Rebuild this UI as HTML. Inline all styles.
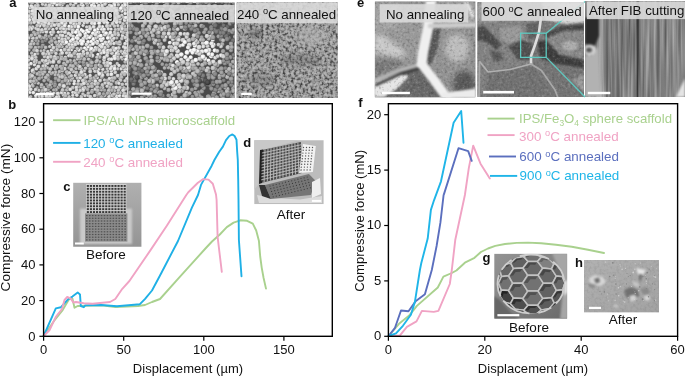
<!DOCTYPE html>
<html><head><meta charset="utf-8"><title>figure</title>
<style>
html,body{margin:0;padding:0;background:#fff;}
svg{display:block}
text{font-family:"Liberation Sans",sans-serif;fill:#111}
.b{font-weight:bold;font-size:13px}
.t{font-size:13px}
.lab{font-size:13.3px}
.lg{font-size:13.4px}
</style></head><body>
<svg width="685" height="376" viewBox="0 0 685 376">
<defs>
<filter id="bl" color-interpolation-filters="sRGB" x="-5%" y="-5%" width="110%" height="110%"><feGaussianBlur stdDeviation="0.65"/></filter>
<filter id="bl2" color-interpolation-filters="sRGB" x="-5%" y="-5%" width="110%" height="110%"><feGaussianBlur stdDeviation="0.8"/></filter>
<filter id="bl3" color-interpolation-filters="sRGB" x="-10%" y="-10%" width="120%" height="120%"><feGaussianBlur stdDeviation="2.5"/></filter>
<filter id="nz1" color-interpolation-filters="sRGB" x="0" y="0" width="100%" height="100%"><feTurbulence type="fractalNoise" baseFrequency="0.36" numOctaves="2" seed="3"/><feColorMatrix values="1 0 0 0 0  1 0 0 0 0  1 0 0 0 0  0 0 0 0 1"/><feComponentTransfer><feFuncR type="table" tableValues="0.22 0.22 0.26 0.35 0.48 0.60 0.66 0.70 0.74 0.78 0.80"/><feFuncG type="table" tableValues="0.22 0.22 0.26 0.35 0.48 0.60 0.66 0.70 0.74 0.78 0.80"/><feFuncB type="table" tableValues="0.22 0.22 0.26 0.35 0.48 0.60 0.66 0.70 0.74 0.78 0.80"/></feComponentTransfer></filter>
<filter id="nz2" color-interpolation-filters="sRGB" x="0" y="0" width="100%" height="100%"><feTurbulence type="fractalNoise" baseFrequency="0.22" numOctaves="3" seed="8"/><feColorMatrix values="1.3 0 0 0 -0.2  1.3 0 0 0 -0.2  1.3 0 0 0 -0.2  0 0 0 0 1"/></filter>
<filter id="nzv" color-interpolation-filters="sRGB" x="0" y="0" width="100%" height="100%"><feTurbulence type="fractalNoise" baseFrequency="0.35 0.012" numOctaves="2" seed="5"/><feColorMatrix values="1.5 0 0 0 -0.2  1.5 0 0 0 -0.2  1.5 0 0 0 -0.2  0 0 0 0 1"/></filter>
<filter id="grW" color-interpolation-filters="sRGB" x="0" y="0" width="100%" height="100%"><feTurbulence type="fractalNoise" baseFrequency="0.38" numOctaves="2" seed="12"/><feColorMatrix values="0 0 0 0 1  0 0 0 0 1  0 0 0 0 1  1.1 0 0 0 -0.6"/></filter>
<filter id="grB" color-interpolation-filters="sRGB" x="0" y="0" width="100%" height="100%"><feTurbulence type="fractalNoise" baseFrequency="0.38" numOctaves="2" seed="12"/><feColorMatrix values="0 0 0 0 0  0 0 0 0 0  0 0 0 0 0  -1.1 0 0 0 0.5"/></filter>
<clipPath id="ca1"><rect x="28.2" y="2.6" width="99.2" height="95.3"/></clipPath>
<clipPath id="ca2"><rect x="128.2" y="2.6" width="106.5" height="95.3"/></clipPath>
<clipPath id="ca3"><rect x="236.6" y="2.6" width="101.1" height="95.3"/></clipPath>
<clipPath id="ce1"><rect x="374.8" y="1.6" width="100.6" height="95.6"/></clipPath>
<clipPath id="ce2"><rect x="477.3" y="2" width="106.7" height="95"/></clipPath>
<clipPath id="ce3"><rect x="585" y="1" width="100" height="96"/></clipPath>
<clipPath id="cc"><rect x="73.2" y="182.6" width="68.5" height="64.2"/></clipPath>
<clipPath id="cd"><rect x="254.3" y="140.3" width="69.3" height="63.9"/></clipPath>
<clipPath id="cg"><rect x="494.3" y="253.8" width="72.9" height="64.9"/></clipPath>
<clipPath id="ch"><rect x="584" y="260" width="75" height="52.6"/></clipPath>
</defs>
<rect width="685" height="376" fill="#fff"/>
<g opacity="0.999">

<radialGradient id="s40" cx="0.42" cy="0.4" r="0.62"><stop offset="0" stop-color="#343434"/><stop offset="0.55" stop-color="#242424"/><stop offset="1" stop-color="#181818"/></radialGradient>
<radialGradient id="s52" cx="0.42" cy="0.4" r="0.62"><stop offset="0" stop-color="#404040"/><stop offset="0.55" stop-color="#303030"/><stop offset="1" stop-color="#1f1f1f"/></radialGradient>
<radialGradient id="s64" cx="0.42" cy="0.4" r="0.62"><stop offset="0" stop-color="#4c4c4c"/><stop offset="0.55" stop-color="#3c3c3c"/><stop offset="1" stop-color="#262626"/></radialGradient>
<radialGradient id="s76" cx="0.42" cy="0.4" r="0.62"><stop offset="0" stop-color="#585858"/><stop offset="0.55" stop-color="#484848"/><stop offset="1" stop-color="#2d2d2d"/></radialGradient>
<radialGradient id="s88" cx="0.42" cy="0.4" r="0.62"><stop offset="0" stop-color="#646464"/><stop offset="0.55" stop-color="#545454"/><stop offset="1" stop-color="#343434"/></radialGradient>
<radialGradient id="s100" cx="0.42" cy="0.4" r="0.62"><stop offset="0" stop-color="#707070"/><stop offset="0.55" stop-color="#606060"/><stop offset="1" stop-color="#3c3c3c"/></radialGradient>
<radialGradient id="s112" cx="0.42" cy="0.4" r="0.62"><stop offset="0" stop-color="#7c7c7c"/><stop offset="0.55" stop-color="#6c6c6c"/><stop offset="1" stop-color="#434343"/></radialGradient>
<radialGradient id="s124" cx="0.42" cy="0.4" r="0.62"><stop offset="0" stop-color="#888888"/><stop offset="0.55" stop-color="#787878"/><stop offset="1" stop-color="#4a4a4a"/></radialGradient>
<radialGradient id="s136" cx="0.42" cy="0.4" r="0.62"><stop offset="0" stop-color="#949494"/><stop offset="0.55" stop-color="#848484"/><stop offset="1" stop-color="#515151"/></radialGradient>
<radialGradient id="s148" cx="0.42" cy="0.4" r="0.62"><stop offset="0" stop-color="#a0a0a0"/><stop offset="0.55" stop-color="#909090"/><stop offset="1" stop-color="#585858"/></radialGradient>
<radialGradient id="s160" cx="0.42" cy="0.4" r="0.62"><stop offset="0" stop-color="#acacac"/><stop offset="0.55" stop-color="#9c9c9c"/><stop offset="1" stop-color="#606060"/></radialGradient>
<radialGradient id="s172" cx="0.42" cy="0.4" r="0.62"><stop offset="0" stop-color="#b8b8b8"/><stop offset="0.55" stop-color="#a8a8a8"/><stop offset="1" stop-color="#676767"/></radialGradient>
<radialGradient id="s184" cx="0.42" cy="0.4" r="0.62"><stop offset="0" stop-color="#c4c4c4"/><stop offset="0.55" stop-color="#b4b4b4"/><stop offset="1" stop-color="#6e6e6e"/></radialGradient>
<radialGradient id="s196" cx="0.42" cy="0.4" r="0.62"><stop offset="0" stop-color="#d0d0d0"/><stop offset="0.55" stop-color="#c0c0c0"/><stop offset="1" stop-color="#757575"/></radialGradient>
<radialGradient id="s208" cx="0.42" cy="0.4" r="0.62"><stop offset="0" stop-color="#dcdcdc"/><stop offset="0.55" stop-color="#cccccc"/><stop offset="1" stop-color="#7c7c7c"/></radialGradient>
<radialGradient id="s220" cx="0.42" cy="0.4" r="0.62"><stop offset="0" stop-color="#e8e8e8"/><stop offset="0.55" stop-color="#d8d8d8"/><stop offset="1" stop-color="#848484"/></radialGradient>
<radialGradient id="s232" cx="0.42" cy="0.4" r="0.62"><stop offset="0" stop-color="#f4f4f4"/><stop offset="0.55" stop-color="#e4e4e4"/><stop offset="1" stop-color="#8b8b8b"/></radialGradient>
<radialGradient id="s244" cx="0.42" cy="0.4" r="0.62"><stop offset="0" stop-color="#ffffff"/><stop offset="0.55" stop-color="#f0f0f0"/><stop offset="1" stop-color="#929292"/></radialGradient>
<g clip-path="url(#ca1)"><rect x="28.2" y="2.6" width="99.2" height="95.3" fill="#505050"/><g filter="url(#bl)">
<circle cx="30.6" cy="74.9" r="1.95" fill="url(#s184)"/>
<circle cx="62.9" cy="83.6" r="1.95" fill="url(#s160)"/>
<circle cx="69.4" cy="53.0" r="2.04" fill="url(#s208)"/>
<circle cx="44.7" cy="62.2" r="2.14" fill="url(#s196)"/>
<circle cx="42.5" cy="60.5" r="1.93" fill="url(#s208)"/>
<circle cx="61.4" cy="57.2" r="2.18" fill="url(#s184)"/>
<circle cx="105.7" cy="10.6" r="1.98" fill="url(#s220)"/>
<circle cx="77.4" cy="30.2" r="1.96" fill="url(#s244)"/>
<circle cx="61.0" cy="50.3" r="1.86" fill="url(#s232)"/>
<circle cx="101.6" cy="12.3" r="2.07" fill="url(#s244)"/>
<circle cx="84.9" cy="88.0" r="2.17" fill="url(#s196)"/>
<circle cx="33.4" cy="69.6" r="1.84" fill="url(#s172)"/>
<circle cx="52.4" cy="23.7" r="1.85" fill="url(#s196)"/>
<circle cx="30.1" cy="7.7" r="1.90" fill="url(#s220)"/>
<circle cx="60.8" cy="59.1" r="1.87" fill="url(#s184)"/>
<circle cx="85.2" cy="78.2" r="1.98" fill="url(#s184)"/>
<circle cx="60.4" cy="35.3" r="1.93" fill="url(#s208)"/>
<circle cx="26.4" cy="38.8" r="1.85" fill="url(#s208)"/>
<circle cx="87.5" cy="4.5" r="2.01" fill="url(#s196)"/>
<circle cx="117.3" cy="63.7" r="1.86" fill="url(#s196)"/>
<circle cx="104.9" cy="95.5" r="1.93" fill="url(#s196)"/>
<circle cx="105.5" cy="-1.4" r="1.86" fill="url(#s244)"/>
<circle cx="97.9" cy="95.2" r="1.86" fill="url(#s172)"/>
<circle cx="58.3" cy="87.5" r="2.01" fill="url(#s172)"/>
<circle cx="107.0" cy="44.2" r="2.06" fill="url(#s220)"/>
<circle cx="35.5" cy="6.1" r="2.13" fill="url(#s196)"/>
<circle cx="68.0" cy="20.0" r="1.78" fill="url(#s196)"/>
<circle cx="69.1" cy="1.1" r="1.98" fill="url(#s196)"/>
<circle cx="27.2" cy="50.3" r="2.07" fill="url(#s184)"/>
<circle cx="32.4" cy="84.7" r="1.77" fill="url(#s208)"/>
<circle cx="38.7" cy="47.3" r="1.78" fill="url(#s172)"/>
<circle cx="71.2" cy="62.3" r="2.00" fill="url(#s148)"/>
<circle cx="56.9" cy="46.8" r="1.78" fill="url(#s184)"/>
<circle cx="122.3" cy="59.1" r="1.83" fill="url(#s196)"/>
<circle cx="24.1" cy="76.8" r="1.78" fill="url(#s196)"/>
<circle cx="43.5" cy="87.5" r="2.07" fill="url(#s184)"/>
<circle cx="28.9" cy="67.8" r="1.89" fill="url(#s220)"/>
<circle cx="32.5" cy="56.2" r="1.82" fill="url(#s196)"/>
<circle cx="62.2" cy="13.6" r="1.80" fill="url(#s220)"/>
<circle cx="69.0" cy="55.7" r="2.01" fill="url(#s220)"/>
<circle cx="113.4" cy="87.8" r="2.20" fill="url(#s184)"/>
<circle cx="123.7" cy="46.9" r="1.84" fill="url(#s220)"/>
<circle cx="110.1" cy="38.0" r="1.99" fill="url(#s220)"/>
<circle cx="120.0" cy="87.7" r="2.14" fill="url(#s196)"/>
<circle cx="48.2" cy="11.1" r="2.20" fill="url(#s220)"/>
<circle cx="83.1" cy="25.6" r="1.81" fill="url(#s220)"/>
<circle cx="71.6" cy="49.8" r="1.81" fill="url(#s232)"/>
<circle cx="70.6" cy="4.5" r="1.81" fill="url(#s196)"/>
<circle cx="70.3" cy="47.6" r="1.99" fill="url(#s208)"/>
<circle cx="75.4" cy="51.5" r="1.86" fill="url(#s220)"/>
<circle cx="87.3" cy="30.4" r="2.17" fill="url(#s244)"/>
<circle cx="107.6" cy="99.5" r="2.16" fill="url(#s184)"/>
<circle cx="107.7" cy="62.9" r="2.06" fill="url(#s208)"/>
<circle cx="101.6" cy="29.1" r="1.98" fill="url(#s232)"/>
<circle cx="55.0" cy="56.9" r="2.20" fill="url(#s208)"/>
<circle cx="63.3" cy="12.2" r="1.87" fill="url(#s208)"/>
<circle cx="128.8" cy="58.7" r="2.18" fill="url(#s220)"/>
<circle cx="68.8" cy="50.0" r="2.05" fill="url(#s208)"/>
<circle cx="31.0" cy="63.7" r="2.02" fill="url(#s232)"/>
<circle cx="127.3" cy="34.4" r="1.95" fill="url(#s232)"/>
<circle cx="95.6" cy="14.1" r="1.95" fill="url(#s220)"/>
<circle cx="118.8" cy="29.4" r="2.12" fill="url(#s196)"/>
<circle cx="38.7" cy="22.6" r="2.18" fill="url(#s232)"/>
<circle cx="35.7" cy="95.7" r="1.78" fill="url(#s232)"/>
<circle cx="129.3" cy="30.1" r="2.07" fill="url(#s232)"/>
<circle cx="129.6" cy="4.4" r="2.05" fill="url(#s220)"/>
<circle cx="35.5" cy="-1.7" r="2.01" fill="url(#s184)"/>
<circle cx="79.2" cy="19.4" r="1.95" fill="url(#s220)"/>
<circle cx="66.0" cy="9.1" r="1.78" fill="url(#s232)"/>
<circle cx="83.0" cy="80.6" r="2.21" fill="url(#s208)"/>
<circle cx="86.8" cy="63.7" r="2.06" fill="url(#s160)"/>
<circle cx="84.2" cy="23.1" r="1.78" fill="url(#s220)"/>
<circle cx="90.4" cy="62.8" r="2.03" fill="url(#s148)"/>
<circle cx="25.4" cy="5.3" r="2.09" fill="url(#s208)"/>
<circle cx="117.8" cy="57.1" r="2.07" fill="url(#s208)"/>
<circle cx="92.0" cy="98.8" r="1.96" fill="url(#s196)"/>
<circle cx="75.4" cy="75.4" r="1.91" fill="url(#s220)"/>
<circle cx="102.3" cy="5.7" r="2.11" fill="url(#s220)"/>
<circle cx="104.9" cy="34.6" r="2.21" fill="url(#s220)"/>
<circle cx="121.9" cy="31.6" r="2.08" fill="url(#s220)"/>
<circle cx="68.3" cy="8.5" r="2.02" fill="url(#s196)"/>
<circle cx="76.7" cy="-0.3" r="1.90" fill="url(#s208)"/>
<circle cx="105.4" cy="42.5" r="2.12" fill="url(#s220)"/>
<circle cx="93.9" cy="12.0" r="1.91" fill="url(#s208)"/>
<circle cx="103.5" cy="99.2" r="1.94" fill="url(#s208)"/>
<circle cx="25.1" cy="36.3" r="2.01" fill="url(#s220)"/>
<circle cx="77.7" cy="35.9" r="2.02" fill="url(#s244)"/>
<circle cx="54.1" cy="51.7" r="1.95" fill="url(#s172)"/>
<circle cx="55.9" cy="78.5" r="2.22" fill="url(#s160)"/>
<circle cx="65.5" cy="57.5" r="1.89" fill="url(#s208)"/>
<circle cx="43.3" cy="15.2" r="1.85" fill="url(#s220)"/>
<circle cx="48.9" cy="28.6" r="2.12" fill="url(#s196)"/>
<circle cx="55.5" cy="68.7" r="1.85" fill="url(#s196)"/>
<circle cx="114.4" cy="3.1" r="2.22" fill="url(#s220)"/>
<circle cx="91.5" cy="17.3" r="2.04" fill="url(#s208)"/>
<circle cx="122.0" cy="11.0" r="2.04" fill="url(#s232)"/>
<circle cx="102.5" cy="85.0" r="2.11" fill="url(#s196)"/>
<circle cx="26.6" cy="68.9" r="2.12" fill="url(#s232)"/>
<circle cx="60.5" cy="54.3" r="2.02" fill="url(#s172)"/>
<circle cx="91.7" cy="83.6" r="2.15" fill="url(#s184)"/>
<circle cx="39.4" cy="72.6" r="2.00" fill="url(#s172)"/>
<circle cx="101.4" cy="96.9" r="2.23" fill="url(#s172)"/>
<circle cx="101.7" cy="89.8" r="2.08" fill="url(#s184)"/>
<circle cx="43.0" cy="45.3" r="2.04" fill="url(#s160)"/>
<circle cx="53.8" cy="59.5" r="2.09" fill="url(#s184)"/>
<circle cx="85.2" cy="33.4" r="2.15" fill="url(#s244)"/>
<circle cx="106.3" cy="14.8" r="2.19" fill="url(#s220)"/>
<circle cx="37.2" cy="87.9" r="1.86" fill="url(#s160)"/>
<circle cx="52.0" cy="44.8" r="1.79" fill="url(#s208)"/>
<circle cx="129.2" cy="83.3" r="1.87" fill="url(#s220)"/>
<circle cx="78.9" cy="32.4" r="2.12" fill="url(#s220)"/>
<circle cx="122.4" cy="84.5" r="2.06" fill="url(#s196)"/>
<circle cx="92.2" cy="-0.1" r="1.96" fill="url(#s220)"/>
<circle cx="98.1" cy="11.7" r="2.09" fill="url(#s220)"/>
<circle cx="130.2" cy="23.4" r="1.85" fill="url(#s232)"/>
<circle cx="83.4" cy="38.8" r="2.08" fill="url(#s220)"/>
<circle cx="44.2" cy="80.7" r="1.99" fill="url(#s172)"/>
<circle cx="62.2" cy="46.7" r="1.85" fill="url(#s196)"/>
<circle cx="58.0" cy="93.6" r="2.21" fill="url(#s220)"/>
<circle cx="28.4" cy="65.2" r="1.91" fill="url(#s220)"/>
<circle cx="64.0" cy="63.4" r="1.99" fill="url(#s184)"/>
<circle cx="43.9" cy="9.2" r="2.05" fill="url(#s232)"/>
<circle cx="85.2" cy="99.6" r="1.95" fill="url(#s208)"/>
<circle cx="102.6" cy="26.8" r="1.82" fill="url(#s232)"/>
<circle cx="104.2" cy="59.8" r="2.09" fill="url(#s220)"/>
<circle cx="118.1" cy="51.6" r="1.94" fill="url(#s208)"/>
<circle cx="110.5" cy="80.0" r="2.10" fill="url(#s208)"/>
<circle cx="116.5" cy="42.5" r="1.85" fill="url(#s196)"/>
<circle cx="75.1" cy="8.7" r="1.80" fill="url(#s232)"/>
<circle cx="62.2" cy="22.9" r="2.24" fill="url(#s232)"/>
<circle cx="76.3" cy="24.3" r="1.99" fill="url(#s208)"/>
<circle cx="77.8" cy="54.4" r="1.86" fill="url(#s220)"/>
<circle cx="88.8" cy="31.8" r="2.05" fill="url(#s244)"/>
<circle cx="108.4" cy="34.5" r="1.85" fill="url(#s208)"/>
<circle cx="56.6" cy="65.9" r="1.87" fill="url(#s196)"/>
<circle cx="71.6" cy="55.8" r="2.21" fill="url(#s208)"/>
<circle cx="47.4" cy="7.5" r="2.01" fill="url(#s184)"/>
<circle cx="34.9" cy="54.6" r="2.04" fill="url(#s220)"/>
<circle cx="31.1" cy="23.0" r="2.01" fill="url(#s196)"/>
<circle cx="107.4" cy="80.6" r="2.19" fill="url(#s172)"/>
<circle cx="62.0" cy="27.5" r="2.18" fill="url(#s208)"/>
<circle cx="80.1" cy="54.5" r="1.99" fill="url(#s220)"/>
<circle cx="114.0" cy="98.2" r="1.80" fill="url(#s184)"/>
<circle cx="28.9" cy="49.9" r="2.02" fill="url(#s184)"/>
<circle cx="42.6" cy="41.8" r="2.10" fill="url(#s136)"/>
<circle cx="70.4" cy="60.5" r="1.79" fill="url(#s184)"/>
<circle cx="44.2" cy="50.6" r="1.79" fill="url(#s184)"/>
<circle cx="57.1" cy="4.5" r="2.19" fill="url(#s232)"/>
<circle cx="111.5" cy="71.0" r="1.80" fill="url(#s220)"/>
<circle cx="77.4" cy="78.1" r="1.93" fill="url(#s196)"/>
<circle cx="118.0" cy="43.6" r="2.14" fill="url(#s184)"/>
<circle cx="42.2" cy="72.5" r="2.08" fill="url(#s172)"/>
<circle cx="57.7" cy="57.7" r="2.03" fill="url(#s172)"/>
<circle cx="33.9" cy="99.5" r="1.84" fill="url(#s232)"/>
<circle cx="73.5" cy="23.8" r="2.14" fill="url(#s220)"/>
<circle cx="61.9" cy="19.8" r="2.08" fill="url(#s220)"/>
<circle cx="112.3" cy="40.5" r="2.08" fill="url(#s208)"/>
<circle cx="59.6" cy="71.8" r="2.04" fill="url(#s184)"/>
<circle cx="24.8" cy="40.9" r="1.79" fill="url(#s220)"/>
<circle cx="118.8" cy="48.1" r="2.09" fill="url(#s208)"/>
<circle cx="129.2" cy="90.0" r="2.23" fill="url(#s208)"/>
<circle cx="84.2" cy="-0.7" r="1.85" fill="url(#s232)"/>
<circle cx="102.8" cy="87.8" r="1.84" fill="url(#s196)"/>
<circle cx="114.7" cy="66.1" r="1.90" fill="url(#s208)"/>
<circle cx="104.2" cy="63.0" r="2.03" fill="url(#s208)"/>
<circle cx="45.6" cy="4.9" r="2.01" fill="url(#s208)"/>
<circle cx="73.4" cy="71.6" r="1.93" fill="url(#s196)"/>
<circle cx="90.3" cy="50.1" r="1.91" fill="url(#s220)"/>
<circle cx="116.6" cy="53.9" r="2.21" fill="url(#s232)"/>
<circle cx="105.9" cy="2.8" r="2.14" fill="url(#s196)"/>
<circle cx="130.3" cy="77.6" r="1.93" fill="url(#s220)"/>
<circle cx="79.5" cy="75.1" r="2.12" fill="url(#s184)"/>
<circle cx="99.3" cy="23.2" r="2.11" fill="url(#s244)"/>
<circle cx="41.9" cy="77.4" r="1.82" fill="url(#s172)"/>
<circle cx="105.6" cy="72.2" r="1.78" fill="url(#s184)"/>
<circle cx="97.3" cy="77.8" r="1.85" fill="url(#s220)"/>
<circle cx="43.6" cy="99.8" r="1.85" fill="url(#s196)"/>
<circle cx="58.2" cy="74.9" r="1.96" fill="url(#s184)"/>
<circle cx="78.2" cy="1.1" r="2.10" fill="url(#s208)"/>
<circle cx="31.1" cy="16.9" r="1.85" fill="url(#s220)"/>
<circle cx="24.9" cy="83.0" r="1.89" fill="url(#s184)"/>
<circle cx="43.7" cy="92.6" r="1.99" fill="url(#s196)"/>
<circle cx="69.1" cy="67.9" r="2.00" fill="url(#s172)"/>
<circle cx="24.4" cy="48.3" r="2.10" fill="url(#s196)"/>
<circle cx="107.2" cy="68.9" r="1.79" fill="url(#s196)"/>
<circle cx="49.7" cy="46.7" r="1.78" fill="url(#s196)"/>
<circle cx="61.6" cy="8.4" r="2.12" fill="url(#s220)"/>
<circle cx="122.6" cy="35.7" r="1.98" fill="url(#s220)"/>
<circle cx="128.8" cy="15.3" r="2.06" fill="url(#s208)"/>
<circle cx="57.1" cy="67.8" r="2.02" fill="url(#s172)"/>
<circle cx="80.9" cy="40.9" r="2.24" fill="url(#s232)"/>
<circle cx="67.0" cy="90.0" r="2.11" fill="url(#s184)"/>
<circle cx="27.5" cy="35.5" r="2.00" fill="url(#s196)"/>
<circle cx="42.7" cy="4.3" r="1.88" fill="url(#s208)"/>
<circle cx="104.9" cy="48.0" r="2.17" fill="url(#s208)"/>
<circle cx="114.0" cy="38.4" r="1.88" fill="url(#s220)"/>
<circle cx="75.8" cy="2.8" r="2.09" fill="url(#s232)"/>
<circle cx="68.2" cy="14.5" r="1.77" fill="url(#s232)"/>
<circle cx="62.4" cy="4.9" r="1.77" fill="url(#s220)"/>
<circle cx="125.2" cy="3.2" r="2.04" fill="url(#s220)"/>
<circle cx="73.7" cy="5.3" r="1.85" fill="url(#s196)"/>
<circle cx="34.7" cy="78.1" r="2.12" fill="url(#s172)"/>
<circle cx="93.6" cy="3.1" r="2.07" fill="url(#s220)"/>
<circle cx="89.7" cy="27.3" r="2.23" fill="url(#s208)"/>
<circle cx="59.0" cy="62.0" r="2.21" fill="url(#s196)"/>
<circle cx="117.8" cy="81.9" r="1.93" fill="url(#s196)"/>
<circle cx="87.0" cy="56.3" r="1.80" fill="url(#s172)"/>
<circle cx="58.8" cy="96.9" r="1.83" fill="url(#s220)"/>
<circle cx="50.1" cy="92.6" r="1.96" fill="url(#s196)"/>
<circle cx="62.1" cy="99.7" r="1.84" fill="url(#s232)"/>
<circle cx="99.6" cy="57.0" r="2.23" fill="url(#s184)"/>
<circle cx="86.8" cy="77.1" r="2.02" fill="url(#s208)"/>
<circle cx="47.6" cy="93.2" r="1.98" fill="url(#s208)"/>
<circle cx="25.8" cy="20.4" r="1.86" fill="url(#s196)"/>
<circle cx="129.5" cy="18.0" r="2.14" fill="url(#s208)"/>
<circle cx="33.8" cy="43.8" r="2.10" fill="url(#s184)"/>
<circle cx="102.7" cy="44.5" r="2.08" fill="url(#s244)"/>
<circle cx="80.4" cy="58.8" r="1.88" fill="url(#s184)"/>
<circle cx="32.6" cy="27.5" r="2.22" fill="url(#s208)"/>
<circle cx="129.0" cy="36.0" r="1.77" fill="url(#s196)"/>
<circle cx="94.2" cy="78.2" r="2.20" fill="url(#s184)"/>
<circle cx="104.2" cy="29.5" r="1.95" fill="url(#s232)"/>
<circle cx="47.5" cy="63.2" r="2.09" fill="url(#s220)"/>
<circle cx="45.1" cy="66.1" r="2.11" fill="url(#s220)"/>
<circle cx="128.8" cy="53.1" r="1.92" fill="url(#s232)"/>
<circle cx="117.1" cy="21.4" r="1.85" fill="url(#s184)"/>
<circle cx="46.8" cy="-0.2" r="1.91" fill="url(#s220)"/>
<circle cx="114.7" cy="18.4" r="2.11" fill="url(#s220)"/>
<circle cx="84.9" cy="74.7" r="2.06" fill="url(#s220)"/>
<circle cx="55.1" cy="82.0" r="1.86" fill="url(#s136)"/>
<circle cx="113.3" cy="47.9" r="2.10" fill="url(#s196)"/>
<circle cx="68.4" cy="33.5" r="2.09" fill="url(#s220)"/>
<circle cx="125.3" cy="89.1" r="2.09" fill="url(#s208)"/>
<circle cx="66.0" cy="17.9" r="2.05" fill="url(#s196)"/>
<circle cx="121.9" cy="38.8" r="1.96" fill="url(#s196)"/>
<circle cx="100.0" cy="13.7" r="1.95" fill="url(#s208)"/>
<circle cx="51.5" cy="20.4" r="1.95" fill="url(#s184)"/>
<circle cx="54.5" cy="9.3" r="2.11" fill="url(#s232)"/>
<circle cx="112.5" cy="78.2" r="1.87" fill="url(#s208)"/>
<circle cx="45.7" cy="47.6" r="2.03" fill="url(#s184)"/>
<circle cx="120.4" cy="19.2" r="1.95" fill="url(#s208)"/>
<circle cx="102.0" cy="77.1" r="2.05" fill="url(#s184)"/>
<circle cx="121.2" cy="68.9" r="1.97" fill="url(#s220)"/>
<circle cx="57.1" cy="15.0" r="2.19" fill="url(#s196)"/>
<circle cx="97.7" cy="71.4" r="1.93" fill="url(#s232)"/>
<circle cx="105.2" cy="83.1" r="1.94" fill="url(#s208)"/>
<circle cx="109.6" cy="14.3" r="1.76" fill="url(#s244)"/>
<circle cx="76.1" cy="37.8" r="1.91" fill="url(#s244)"/>
<circle cx="25.9" cy="63.2" r="2.11" fill="url(#s232)"/>
<circle cx="128.9" cy="25.9" r="2.08" fill="url(#s232)"/>
<circle cx="124.6" cy="55.8" r="1.95" fill="url(#s184)"/>
<circle cx="59.3" cy="0.1" r="1.82" fill="url(#s220)"/>
<circle cx="125.3" cy="62.0" r="2.04" fill="url(#s184)"/>
<circle cx="65.8" cy="29.4" r="2.13" fill="url(#s208)"/>
<circle cx="61.0" cy="44.7" r="1.93" fill="url(#s208)"/>
<circle cx="88.2" cy="42.1" r="2.04" fill="url(#s244)"/>
<circle cx="112.2" cy="95.6" r="2.20" fill="url(#s196)"/>
<circle cx="42.2" cy="24.0" r="2.10" fill="url(#s208)"/>
<circle cx="104.7" cy="90.4" r="1.90" fill="url(#s160)"/>
<circle cx="98.9" cy="32.5" r="1.90" fill="url(#s220)"/>
<circle cx="90.1" cy="68.9" r="2.00" fill="url(#s184)"/>
<circle cx="66.1" cy="36.3" r="1.83" fill="url(#s208)"/>
<circle cx="55.0" cy="98.8" r="2.08" fill="url(#s184)"/>
<circle cx="37.4" cy="2.1" r="2.20" fill="url(#s220)"/>
<circle cx="125.7" cy="66.3" r="2.09" fill="url(#s208)"/>
<circle cx="42.6" cy="90.6" r="1.94" fill="url(#s172)"/>
<circle cx="111.8" cy="10.9" r="2.08" fill="url(#s208)"/>
<circle cx="79.2" cy="8.8" r="1.96" fill="url(#s196)"/>
<circle cx="110.3" cy="63.5" r="2.04" fill="url(#s232)"/>
<circle cx="110.5" cy="32.8" r="2.13" fill="url(#s232)"/>
<circle cx="70.8" cy="35.1" r="2.07" fill="url(#s220)"/>
<circle cx="112.1" cy="53.3" r="2.14" fill="url(#s208)"/>
<circle cx="96.9" cy="32.0" r="2.11" fill="url(#s244)"/>
<circle cx="64.1" cy="59.3" r="2.01" fill="url(#s184)"/>
<circle cx="78.0" cy="11.3" r="2.24" fill="url(#s220)"/>
<circle cx="39.9" cy="20.1" r="2.10" fill="url(#s232)"/>
<circle cx="64.4" cy="43.5" r="2.04" fill="url(#s208)"/>
<circle cx="77.4" cy="58.9" r="2.00" fill="url(#s196)"/>
<circle cx="51.0" cy="38.2" r="2.00" fill="url(#s160)"/>
<circle cx="56.0" cy="-1.8" r="2.13" fill="url(#s220)"/>
<circle cx="58.8" cy="8.8" r="1.93" fill="url(#s220)"/>
<circle cx="109.1" cy="42.0" r="1.94" fill="url(#s232)"/>
<circle cx="79.6" cy="23.5" r="2.06" fill="url(#s208)"/>
<circle cx="33.2" cy="19.4" r="1.93" fill="url(#s220)"/>
<circle cx="67.4" cy="11.0" r="2.01" fill="url(#s220)"/>
<circle cx="38.1" cy="16.8" r="2.08" fill="url(#s232)"/>
<circle cx="42.5" cy="-0.9" r="1.98" fill="url(#s220)"/>
<circle cx="28.3" cy="71.9" r="1.77" fill="url(#s196)"/>
<circle cx="62.5" cy="66.4" r="1.87" fill="url(#s172)"/>
<circle cx="97.4" cy="48.2" r="2.06" fill="url(#s196)"/>
<circle cx="124.7" cy="26.3" r="1.96" fill="url(#s184)"/>
<circle cx="114.1" cy="7.5" r="2.18" fill="url(#s232)"/>
<circle cx="57.2" cy="99.5" r="1.78" fill="url(#s208)"/>
<circle cx="120.0" cy="93.1" r="2.05" fill="url(#s196)"/>
<circle cx="48.7" cy="16.7" r="1.80" fill="url(#s232)"/>
<circle cx="26.3" cy="8.3" r="1.94" fill="url(#s220)"/>
<circle cx="41.3" cy="37.8" r="2.23" fill="url(#s172)"/>
<circle cx="69.5" cy="77.1" r="1.97" fill="url(#s172)"/>
<circle cx="97.5" cy="41.8" r="2.08" fill="url(#s244)"/>
<circle cx="128.9" cy="63.3" r="2.05" fill="url(#s208)"/>
<circle cx="65.1" cy="39.5" r="1.99" fill="url(#s220)"/>
<circle cx="125.3" cy="50.3" r="1.86" fill="url(#s220)"/>
<circle cx="50.9" cy="87.3" r="1.89" fill="url(#s172)"/>
<circle cx="62.3" cy="81.9" r="2.22" fill="url(#s160)"/>
<circle cx="41.9" cy="10.5" r="1.96" fill="url(#s196)"/>
<circle cx="49.7" cy="72.0" r="1.85" fill="url(#s196)"/>
<circle cx="81.2" cy="48.5" r="1.90" fill="url(#s196)"/>
<circle cx="121.9" cy="15.3" r="1.86" fill="url(#s208)"/>
<circle cx="128.6" cy="73.9" r="1.98" fill="url(#s196)"/>
<circle cx="48.8" cy="76.9" r="2.18" fill="url(#s136)"/>
<circle cx="88.5" cy="8.3" r="2.09" fill="url(#s220)"/>
<circle cx="73.2" cy="36.3" r="1.87" fill="url(#s220)"/>
<circle cx="28.2" cy="-0.6" r="1.81" fill="url(#s232)"/>
<circle cx="92.0" cy="7.6" r="1.80" fill="url(#s232)"/>
<circle cx="117.6" cy="13.3" r="2.19" fill="url(#s184)"/>
<circle cx="103.6" cy="94.0" r="1.92" fill="url(#s160)"/>
<circle cx="65.7" cy="23.4" r="1.94" fill="url(#s220)"/>
<circle cx="123.6" cy="32.6" r="2.23" fill="url(#s184)"/>
<circle cx="109.5" cy="78.6" r="1.86" fill="url(#s220)"/>
<circle cx="104.4" cy="22.4" r="2.12" fill="url(#s220)"/>
<circle cx="84.3" cy="17.9" r="1.83" fill="url(#s208)"/>
<circle cx="55.5" cy="10.7" r="2.12" fill="url(#s196)"/>
<circle cx="28.6" cy="84.8" r="1.85" fill="url(#s184)"/>
<circle cx="116.6" cy="83.0" r="2.14" fill="url(#s184)"/>
<circle cx="114.7" cy="50.4" r="1.88" fill="url(#s220)"/>
<circle cx="50.2" cy="42.3" r="2.04" fill="url(#s172)"/>
<circle cx="52.1" cy="5.7" r="2.19" fill="url(#s232)"/>
<circle cx="100.3" cy="39.1" r="2.01" fill="url(#s244)"/>
<circle cx="51.9" cy="3.0" r="2.04" fill="url(#s208)"/>
<circle cx="98.0" cy="54.6" r="1.77" fill="url(#s232)"/>
<circle cx="31.6" cy="5.9" r="1.99" fill="url(#s232)"/>
<circle cx="116.2" cy="48.4" r="1.96" fill="url(#s232)"/>
<circle cx="118.1" cy="-0.6" r="2.11" fill="url(#s220)"/>
<circle cx="40.2" cy="32.3" r="1.82" fill="url(#s196)"/>
<circle cx="30.0" cy="27.4" r="2.18" fill="url(#s196)"/>
<circle cx="90.5" cy="99.6" r="1.80" fill="url(#s208)"/>
<circle cx="119.9" cy="43.8" r="2.22" fill="url(#s208)"/>
<circle cx="56.7" cy="97.1" r="1.81" fill="url(#s220)"/>
<circle cx="74.2" cy="11.5" r="1.84" fill="url(#s196)"/>
<circle cx="57.2" cy="44.1" r="2.09" fill="url(#s208)"/>
<circle cx="71.1" cy="80.2" r="2.03" fill="url(#s184)"/>
<circle cx="49.1" cy="60.6" r="1.77" fill="url(#s196)"/>
<circle cx="108.3" cy="46.5" r="1.76" fill="url(#s196)"/>
<circle cx="90.3" cy="28.9" r="2.20" fill="url(#s220)"/>
<circle cx="102.8" cy="38.8" r="2.21" fill="url(#s244)"/>
<circle cx="92.1" cy="80.0" r="1.96" fill="url(#s184)"/>
<circle cx="110.8" cy="43.9" r="2.13" fill="url(#s196)"/>
<circle cx="127.0" cy="40.9" r="2.10" fill="url(#s220)"/>
<circle cx="127.0" cy="80.8" r="1.90" fill="url(#s196)"/>
<circle cx="28.4" cy="60.2" r="1.93" fill="url(#s220)"/>
<circle cx="23.9" cy="30.3" r="1.96" fill="url(#s196)"/>
<circle cx="85.2" cy="20.7" r="1.80" fill="url(#s208)"/>
<circle cx="30.3" cy="14.5" r="1.92" fill="url(#s184)"/>
<circle cx="31.4" cy="29.1" r="2.08" fill="url(#s220)"/>
<circle cx="24.2" cy="66.6" r="2.19" fill="url(#s220)"/>
<circle cx="111.4" cy="74.4" r="2.18" fill="url(#s232)"/>
<circle cx="99.9" cy="19.9" r="1.77" fill="url(#s208)"/>
<circle cx="66.9" cy="72.2" r="2.19" fill="url(#s184)"/>
<circle cx="118.0" cy="33.4" r="2.03" fill="url(#s196)"/>
<circle cx="61.6" cy="31.8" r="1.84" fill="url(#s208)"/>
<circle cx="116.6" cy="96.0" r="2.02" fill="url(#s220)"/>
<circle cx="36.2" cy="14.8" r="2.02" fill="url(#s232)"/>
<circle cx="127.1" cy="78.8" r="2.14" fill="url(#s208)"/>
<circle cx="31.9" cy="53.3" r="1.96" fill="url(#s184)"/>
<circle cx="123.0" cy="24.0" r="2.07" fill="url(#s196)"/>
<circle cx="41.4" cy="86.9" r="1.85" fill="url(#s196)"/>
<circle cx="41.6" cy="85.1" r="2.11" fill="url(#s184)"/>
<circle cx="116.9" cy="38.1" r="1.79" fill="url(#s184)"/>
<circle cx="128.7" cy="87.8" r="2.12" fill="url(#s196)"/>
<circle cx="95.7" cy="65.7" r="2.01" fill="url(#s172)"/>
<circle cx="65.0" cy="32.2" r="2.16" fill="url(#s220)"/>
<circle cx="91.3" cy="52.9" r="1.95" fill="url(#s184)"/>
<circle cx="95.4" cy="89.3" r="2.09" fill="url(#s208)"/>
<circle cx="120.2" cy="78.2" r="1.94" fill="url(#s184)"/>
<circle cx="47.6" cy="14.7" r="2.21" fill="url(#s196)"/>
<circle cx="36.2" cy="28.4" r="1.99" fill="url(#s208)"/>
<circle cx="121.3" cy="74.7" r="1.89" fill="url(#s196)"/>
<circle cx="41.5" cy="92.8" r="1.88" fill="url(#s172)"/>
<circle cx="97.4" cy="99.2" r="1.98" fill="url(#s184)"/>
<circle cx="107.8" cy="7.6" r="1.94" fill="url(#s208)"/>
<circle cx="127.8" cy="94.0" r="2.02" fill="url(#s208)"/>
<circle cx="119.3" cy="16.7" r="2.21" fill="url(#s208)"/>
<circle cx="93.1" cy="33.3" r="2.09" fill="url(#s244)"/>
<circle cx="24.2" cy="96.0" r="1.80" fill="url(#s196)"/>
<circle cx="98.0" cy="29.0" r="1.88" fill="url(#s244)"/>
<circle cx="80.1" cy="34.9" r="2.24" fill="url(#s232)"/>
<circle cx="70.5" cy="10.6" r="1.99" fill="url(#s184)"/>
<circle cx="115.3" cy="72.5" r="2.01" fill="url(#s208)"/>
<circle cx="67.0" cy="46.9" r="2.02" fill="url(#s196)"/>
<circle cx="109.4" cy="10.6" r="1.90" fill="url(#s220)"/>
<circle cx="72.9" cy="95.5" r="1.82" fill="url(#s220)"/>
<circle cx="69.3" cy="83.8" r="1.82" fill="url(#s196)"/>
<circle cx="28.9" cy="57.1" r="2.00" fill="url(#s196)"/>
<circle cx="123.9" cy="87.7" r="1.77" fill="url(#s184)"/>
<circle cx="43.2" cy="66.1" r="1.92" fill="url(#s208)"/>
<circle cx="91.1" cy="36.2" r="2.00" fill="url(#s220)"/>
<circle cx="101.3" cy="52.9" r="2.16" fill="url(#s220)"/>
<circle cx="129.7" cy="11.5" r="2.15" fill="url(#s232)"/>
<circle cx="48.3" cy="-0.3" r="2.17" fill="url(#s208)"/>
<circle cx="47.7" cy="75.4" r="2.22" fill="url(#s184)"/>
<circle cx="121.7" cy="26.8" r="2.21" fill="url(#s196)"/>
<circle cx="120.1" cy="22.3" r="1.87" fill="url(#s208)"/>
<circle cx="86.8" cy="27.1" r="1.85" fill="url(#s208)"/>
<circle cx="83.2" cy="41.7" r="2.16" fill="url(#s244)"/>
<circle cx="79.4" cy="68.4" r="1.93" fill="url(#s196)"/>
<circle cx="84.8" cy="48.0" r="1.85" fill="url(#s244)"/>
<circle cx="24.1" cy="11.8" r="2.13" fill="url(#s208)"/>
<circle cx="92.0" cy="23.3" r="2.15" fill="url(#s220)"/>
<circle cx="113.6" cy="13.3" r="2.15" fill="url(#s232)"/>
<circle cx="51.6" cy="50.4" r="1.99" fill="url(#s220)"/>
<circle cx="103.3" cy="8.9" r="1.91" fill="url(#s208)"/>
<circle cx="66.4" cy="42.4" r="2.14" fill="url(#s244)"/>
<circle cx="114.7" cy="5.4" r="1.88" fill="url(#s232)"/>
<circle cx="82.1" cy="20.3" r="1.84" fill="url(#s208)"/>
<circle cx="62.4" cy="70.8" r="2.11" fill="url(#s196)"/>
<circle cx="37.9" cy="41.4" r="2.12" fill="url(#s172)"/>
<circle cx="26.1" cy="26.2" r="2.00" fill="url(#s184)"/>
<circle cx="95.4" cy="47.9" r="1.83" fill="url(#s244)"/>
<circle cx="91.9" cy="5.6" r="2.06" fill="url(#s232)"/>
<circle cx="96.3" cy="61.8" r="2.03" fill="url(#s196)"/>
<circle cx="46.5" cy="96.0" r="2.20" fill="url(#s220)"/>
<circle cx="37.3" cy="74.0" r="2.05" fill="url(#s184)"/>
<circle cx="125.1" cy="80.9" r="1.88" fill="url(#s208)"/>
<circle cx="75.0" cy="57.1" r="1.92" fill="url(#s160)"/>
<circle cx="37.8" cy="53.8" r="1.80" fill="url(#s172)"/>
<circle cx="108.0" cy="50.4" r="1.94" fill="url(#s232)"/>
<circle cx="72.2" cy="44.9" r="2.00" fill="url(#s232)"/>
<circle cx="109.1" cy="59.3" r="2.04" fill="url(#s220)"/>
<circle cx="57.2" cy="2.0" r="1.86" fill="url(#s196)"/>
<circle cx="33.0" cy="38.2" r="2.04" fill="url(#s208)"/>
<circle cx="92.3" cy="90.7" r="2.04" fill="url(#s196)"/>
<circle cx="34.0" cy="32.6" r="2.11" fill="url(#s172)"/>
<circle cx="57.2" cy="24.4" r="2.09" fill="url(#s196)"/>
<circle cx="51.3" cy="8.1" r="2.04" fill="url(#s196)"/>
<circle cx="44.7" cy="72.0" r="2.10" fill="url(#s184)"/>
<circle cx="67.2" cy="-1.7" r="1.82" fill="url(#s220)"/>
<circle cx="104.4" cy="15.3" r="2.18" fill="url(#s232)"/>
<circle cx="60.2" cy="4.6" r="2.16" fill="url(#s196)"/>
<circle cx="76.5" cy="87.6" r="2.10" fill="url(#s220)"/>
<circle cx="80.4" cy="78.1" r="1.80" fill="url(#s220)"/>
<circle cx="113.1" cy="16.5" r="1.90" fill="url(#s208)"/>
<circle cx="78.5" cy="92.4" r="1.92" fill="url(#s196)"/>
<circle cx="99.9" cy="61.8" r="1.80" fill="url(#s172)"/>
<circle cx="76.3" cy="72.5" r="2.10" fill="url(#s196)"/>
<circle cx="40.1" cy="75.2" r="2.00" fill="url(#s160)"/>
<circle cx="108.8" cy="83.6" r="2.06" fill="url(#s208)"/>
<circle cx="81.3" cy="4.8" r="2.01" fill="url(#s208)"/>
<circle cx="93.8" cy="26.9" r="2.08" fill="url(#s220)"/>
<circle cx="48.3" cy="1.8" r="1.86" fill="url(#s220)"/>
<circle cx="54.0" cy="93.2" r="1.82" fill="url(#s208)"/>
<circle cx="83.6" cy="54.0" r="2.13" fill="url(#s220)"/>
<circle cx="38.3" cy="83.3" r="1.81" fill="url(#s196)"/>
<circle cx="38.0" cy="33.4" r="2.14" fill="url(#s172)"/>
<circle cx="30.5" cy="1.9" r="2.04" fill="url(#s220)"/>
<circle cx="105.5" cy="65.7" r="1.93" fill="url(#s184)"/>
<circle cx="118.5" cy="54.3" r="1.91" fill="url(#s196)"/>
<circle cx="129.9" cy="71.8" r="2.07" fill="url(#s196)"/>
<circle cx="79.0" cy="100.0" r="2.22" fill="url(#s208)"/>
<circle cx="109.6" cy="87.4" r="2.20" fill="url(#s184)"/>
<circle cx="28.7" cy="16.5" r="2.21" fill="url(#s220)"/>
<circle cx="81.4" cy="96.8" r="2.02" fill="url(#s196)"/>
<circle cx="97.2" cy="60.6" r="2.00" fill="url(#s196)"/>
<circle cx="71.4" cy="1.3" r="2.06" fill="url(#s184)"/>
<circle cx="114.5" cy="56.7" r="2.24" fill="url(#s232)"/>
<circle cx="62.2" cy="-0.2" r="2.03" fill="url(#s196)"/>
<circle cx="124.9" cy="69.7" r="1.91" fill="url(#s208)"/>
<circle cx="90.8" cy="78.4" r="2.16" fill="url(#s184)"/>
<circle cx="113.1" cy="81.0" r="1.90" fill="url(#s184)"/>
<circle cx="48.4" cy="89.7" r="1.95" fill="url(#s160)"/>
<circle cx="121.4" cy="57.4" r="1.86" fill="url(#s208)"/>
<circle cx="34.3" cy="22.5" r="1.81" fill="url(#s220)"/>
<circle cx="61.4" cy="1.7" r="2.23" fill="url(#s232)"/>
<circle cx="114.9" cy="32.1" r="1.87" fill="url(#s220)"/>
<circle cx="80.9" cy="-1.5" r="1.94" fill="url(#s220)"/>
<circle cx="83.1" cy="5.6" r="1.85" fill="url(#s232)"/>
<circle cx="47.9" cy="51.7" r="1.90" fill="url(#s208)"/>
<circle cx="69.2" cy="28.8" r="2.03" fill="url(#s220)"/>
<circle cx="25.1" cy="89.1" r="1.96" fill="url(#s208)"/>
<circle cx="35.9" cy="60.7" r="2.24" fill="url(#s220)"/>
<circle cx="64.2" cy="75.9" r="2.00" fill="url(#s172)"/>
<circle cx="86.3" cy="81.9" r="1.85" fill="url(#s184)"/>
<circle cx="128.9" cy="96.1" r="1.84" fill="url(#s220)"/>
<circle cx="70.5" cy="65.7" r="1.90" fill="url(#s184)"/>
<circle cx="114.1" cy="94.0" r="2.12" fill="url(#s196)"/>
<circle cx="45.6" cy="40.5" r="1.95" fill="url(#s136)"/>
<circle cx="103.6" cy="19.8" r="1.85" fill="url(#s232)"/>
<circle cx="53.5" cy="-2.0" r="2.20" fill="url(#s196)"/>
<circle cx="123.3" cy="90.5" r="2.16" fill="url(#s220)"/>
<circle cx="125.3" cy="13.6" r="1.93" fill="url(#s232)"/>
<circle cx="28.9" cy="38.0" r="1.94" fill="url(#s208)"/>
<circle cx="28.0" cy="6.2" r="1.89" fill="url(#s232)"/>
<circle cx="88.1" cy="95.3" r="1.99" fill="url(#s208)"/>
<circle cx="32.2" cy="41.4" r="1.81" fill="url(#s196)"/>
<circle cx="60.4" cy="86.2" r="1.93" fill="url(#s160)"/>
<circle cx="41.1" cy="50.9" r="1.77" fill="url(#s184)"/>
<circle cx="43.0" cy="74.3" r="1.84" fill="url(#s184)"/>
<circle cx="72.3" cy="8.3" r="1.94" fill="url(#s220)"/>
<circle cx="25.4" cy="74.4" r="2.13" fill="url(#s184)"/>
<circle cx="117.0" cy="98.4" r="1.93" fill="url(#s220)"/>
<circle cx="41.4" cy="69.2" r="1.94" fill="url(#s184)"/>
<circle cx="83.3" cy="10.7" r="1.81" fill="url(#s232)"/>
<circle cx="32.5" cy="2.7" r="2.05" fill="url(#s184)"/>
<circle cx="121.7" cy="77.3" r="1.98" fill="url(#s184)"/>
<circle cx="54.7" cy="38.4" r="2.00" fill="url(#s184)"/>
<circle cx="70.8" cy="17.9" r="1.87" fill="url(#s232)"/>
<circle cx="35.6" cy="47.9" r="2.10" fill="url(#s184)"/>
<circle cx="96.2" cy="19.4" r="1.79" fill="url(#s220)"/>
<circle cx="78.0" cy="16.6" r="1.77" fill="url(#s196)"/>
<circle cx="95.6" cy="49.7" r="2.16" fill="url(#s208)"/>
<circle cx="46.6" cy="38.9" r="2.03" fill="url(#s160)"/>
<circle cx="72.8" cy="92.5" r="1.78" fill="url(#s220)"/>
<circle cx="95.0" cy="30.3" r="2.03" fill="url(#s244)"/>
<circle cx="62.2" cy="39.2" r="2.19" fill="url(#s208)"/>
<circle cx="47.6" cy="67.9" r="1.85" fill="url(#s184)"/>
<circle cx="109.4" cy="93.3" r="2.02" fill="url(#s208)"/>
<circle cx="111.2" cy="84.4" r="2.00" fill="url(#s196)"/>
<circle cx="113.7" cy="21.2" r="1.83" fill="url(#s184)"/>
<circle cx="39.1" cy="95.6" r="1.93" fill="url(#s208)"/>
<circle cx="102.9" cy="69.4" r="1.87" fill="url(#s220)"/>
<circle cx="51.9" cy="41.1" r="2.18" fill="url(#s172)"/>
<circle cx="103.4" cy="31.9" r="1.89" fill="url(#s220)"/>
<circle cx="123.1" cy="53.0" r="2.18" fill="url(#s232)"/>
<circle cx="118.5" cy="90.3" r="2.02" fill="url(#s196)"/>
<circle cx="74.5" cy="81.3" r="1.82" fill="url(#s220)"/>
<circle cx="128.0" cy="2.4" r="2.23" fill="url(#s196)"/>
<circle cx="99.1" cy="65.1" r="1.84" fill="url(#s208)"/>
<circle cx="83.0" cy="94.1" r="1.90" fill="url(#s196)"/>
<circle cx="60.6" cy="66.8" r="2.04" fill="url(#s184)"/>
<circle cx="51.7" cy="34.4" r="2.09" fill="url(#s220)"/>
<circle cx="71.2" cy="14.0" r="1.84" fill="url(#s220)"/>
<circle cx="97.3" cy="87.1" r="2.15" fill="url(#s196)"/>
<circle cx="63.2" cy="17.3" r="2.09" fill="url(#s232)"/>
<circle cx="117.5" cy="1.7" r="2.07" fill="url(#s232)"/>
<circle cx="28.4" cy="78.0" r="2.03" fill="url(#s172)"/>
<circle cx="35.9" cy="12.1" r="2.07" fill="url(#s232)"/>
<circle cx="108.0" cy="71.4" r="1.77" fill="url(#s196)"/>
<circle cx="72.8" cy="30.2" r="2.23" fill="url(#s208)"/>
<circle cx="97.0" cy="57.3" r="1.89" fill="url(#s196)"/>
<circle cx="35.9" cy="57.5" r="1.97" fill="url(#s196)"/>
<circle cx="85.7" cy="14.1" r="2.19" fill="url(#s220)"/>
<circle cx="90.3" cy="60.7" r="2.10" fill="url(#s148)"/>
<circle cx="107.6" cy="22.7" r="1.77" fill="url(#s244)"/>
<circle cx="95.2" cy="42.5" r="2.03" fill="url(#s220)"/>
<circle cx="101.5" cy="40.8" r="1.98" fill="url(#s232)"/>
<circle cx="45.6" cy="54.3" r="1.84" fill="url(#s208)"/>
<circle cx="41.3" cy="18.3" r="2.01" fill="url(#s208)"/>
<circle cx="81.4" cy="29.9" r="1.84" fill="url(#s244)"/>
<circle cx="46.0" cy="77.7" r="2.15" fill="url(#s184)"/>
<circle cx="97.3" cy="92.3" r="2.03" fill="url(#s172)"/>
<circle cx="60.6" cy="28.4" r="2.02" fill="url(#s208)"/>
<circle cx="28.3" cy="23.1" r="2.12" fill="url(#s196)"/>
<circle cx="64.6" cy="98.5" r="1.76" fill="url(#s220)"/>
<circle cx="73.6" cy="41.9" r="2.13" fill="url(#s208)"/>
<circle cx="126.3" cy="84.2" r="1.78" fill="url(#s208)"/>
<circle cx="55.2" cy="84.9" r="2.13" fill="url(#s160)"/>
<circle cx="122.5" cy="72.6" r="1.97" fill="url(#s196)"/>
<circle cx="110.2" cy="7.5" r="2.14" fill="url(#s220)"/>
<circle cx="128.3" cy="39.5" r="1.88" fill="url(#s232)"/>
<circle cx="92.1" cy="10.3" r="1.86" fill="url(#s232)"/>
<circle cx="50.1" cy="15.3" r="2.19" fill="url(#s196)"/>
<circle cx="106.2" cy="33.2" r="2.05" fill="url(#s244)"/>
<circle cx="58.2" cy="19.3" r="1.96" fill="url(#s208)"/>
<circle cx="125.3" cy="72.8" r="2.24" fill="url(#s232)"/>
<circle cx="46.7" cy="84.3" r="1.78" fill="url(#s148)"/>
<circle cx="124.4" cy="93.8" r="2.19" fill="url(#s196)"/>
<circle cx="86.6" cy="49.6" r="1.83" fill="url(#s220)"/>
<circle cx="123.4" cy="66.5" r="2.23" fill="url(#s196)"/>
<circle cx="111.8" cy="66.8" r="1.89" fill="url(#s220)"/>
<circle cx="43.0" cy="31.6" r="2.08" fill="url(#s208)"/>
<circle cx="82.2" cy="8.5" r="1.92" fill="url(#s244)"/>
<circle cx="78.4" cy="27.0" r="2.13" fill="url(#s244)"/>
<circle cx="30.8" cy="97.0" r="1.89" fill="url(#s196)"/>
<circle cx="55.6" cy="72.4" r="2.17" fill="url(#s184)"/>
<circle cx="83.2" cy="31.4" r="2.03" fill="url(#s244)"/>
<circle cx="119.1" cy="83.5" r="1.81" fill="url(#s220)"/>
<circle cx="51.5" cy="73.8" r="1.89" fill="url(#s172)"/>
<circle cx="31.5" cy="35.4" r="1.99" fill="url(#s184)"/>
<circle cx="101.0" cy="-0.4" r="1.87" fill="url(#s196)"/>
<circle cx="104.5" cy="80.1" r="1.80" fill="url(#s196)"/>
<circle cx="25.5" cy="56.5" r="1.95" fill="url(#s208)"/>
<circle cx="74.4" cy="60.8" r="1.84" fill="url(#s184)"/>
<circle cx="63.8" cy="29.0" r="1.82" fill="url(#s220)"/>
<circle cx="39.0" cy="90.4" r="1.85" fill="url(#s196)"/>
<circle cx="89.3" cy="2.4" r="1.94" fill="url(#s232)"/>
<circle cx="109.7" cy="5.5" r="2.08" fill="url(#s208)"/>
<circle cx="42.3" cy="96.4" r="1.88" fill="url(#s220)"/>
<circle cx="63.9" cy="3.0" r="2.10" fill="url(#s184)"/>
<circle cx="127.0" cy="32.8" r="1.77" fill="url(#s196)"/>
<circle cx="108.6" cy="-1.9" r="1.94" fill="url(#s196)"/>
<circle cx="99.5" cy="93.9" r="2.09" fill="url(#s196)"/>
<circle cx="129.2" cy="66.6" r="1.95" fill="url(#s208)"/>
<circle cx="39.5" cy="99.1" r="1.98" fill="url(#s208)"/>
<circle cx="88.6" cy="59.2" r="1.80" fill="url(#s196)"/>
<circle cx="31.1" cy="77.1" r="1.94" fill="url(#s196)"/>
<circle cx="89.6" cy="81.3" r="1.86" fill="url(#s172)"/>
<circle cx="24.8" cy="0.0" r="2.00" fill="url(#s208)"/>
<circle cx="73.0" cy="47.2" r="2.19" fill="url(#s196)"/>
<circle cx="48.5" cy="86.7" r="2.24" fill="url(#s160)"/>
<circle cx="116.4" cy="87.5" r="1.91" fill="url(#s220)"/>
<circle cx="100.1" cy="45.5" r="2.13" fill="url(#s220)"/>
<circle cx="56.0" cy="90.0" r="2.09" fill="url(#s184)"/>
<circle cx="87.3" cy="36.1" r="1.90" fill="url(#s232)"/>
<circle cx="111.1" cy="29.2" r="1.76" fill="url(#s232)"/>
<circle cx="54.5" cy="25.3" r="1.97" fill="url(#s220)"/>
<circle cx="93.5" cy="14.5" r="1.91" fill="url(#s232)"/>
<circle cx="52.0" cy="10.6" r="2.10" fill="url(#s196)"/>
<circle cx="125.7" cy="53.2" r="2.21" fill="url(#s208)"/>
<circle cx="97.6" cy="-0.4" r="2.16" fill="url(#s208)"/>
<circle cx="51.3" cy="26.2" r="1.87" fill="url(#s208)"/>
<circle cx="59.4" cy="46.7" r="2.17" fill="url(#s184)"/>
<circle cx="24.0" cy="52.8" r="2.14" fill="url(#s184)"/>
<circle cx="50.2" cy="96.3" r="2.13" fill="url(#s208)"/>
<circle cx="99.7" cy="50.3" r="2.23" fill="url(#s208)"/>
<circle cx="52.6" cy="66.5" r="2.01" fill="url(#s196)"/>
<circle cx="81.9" cy="56.1" r="2.07" fill="url(#s184)"/>
<circle cx="103.9" cy="50.8" r="2.13" fill="url(#s220)"/>
<circle cx="115.4" cy="29.6" r="1.90" fill="url(#s196)"/>
<circle cx="77.9" cy="38.5" r="2.14" fill="url(#s232)"/>
<circle cx="49.5" cy="5.5" r="2.17" fill="url(#s208)"/>
<circle cx="48.5" cy="80.0" r="2.05" fill="url(#s160)"/>
<circle cx="100.2" cy="80.6" r="2.05" fill="url(#s208)"/>
<circle cx="36.0" cy="62.4" r="1.97" fill="url(#s196)"/>
<circle cx="73.1" cy="66.3" r="2.23" fill="url(#s184)"/>
<circle cx="114.7" cy="90.9" r="1.82" fill="url(#s184)"/>
<circle cx="26.7" cy="45.6" r="1.87" fill="url(#s196)"/>
<circle cx="38.1" cy="5.6" r="1.93" fill="url(#s196)"/>
<circle cx="119.1" cy="65.6" r="1.89" fill="url(#s220)"/>
<circle cx="25.1" cy="24.4" r="1.84" fill="url(#s232)"/>
<circle cx="118.2" cy="59.0" r="2.05" fill="url(#s184)"/>
<circle cx="84.4" cy="70.9" r="1.92" fill="url(#s196)"/>
<circle cx="80.0" cy="14.5" r="1.96" fill="url(#s220)"/>
<circle cx="59.4" cy="41.4" r="1.91" fill="url(#s208)"/>
<circle cx="105.1" cy="4.1" r="2.07" fill="url(#s208)"/>
<circle cx="35.9" cy="99.2" r="2.20" fill="url(#s208)"/>
<circle cx="129.5" cy="-0.3" r="2.03" fill="url(#s232)"/>
<circle cx="93.9" cy="68.8" r="1.83" fill="url(#s208)"/>
<circle cx="110.1" cy="26.0" r="1.83" fill="url(#s208)"/>
<circle cx="33.1" cy="86.1" r="1.87" fill="url(#s184)"/>
<circle cx="90.3" cy="71.7" r="2.16" fill="url(#s208)"/>
<circle cx="88.3" cy="65.6" r="2.05" fill="url(#s196)"/>
<circle cx="65.8" cy="78.5" r="2.14" fill="url(#s184)"/>
<circle cx="39.8" cy="26.1" r="1.83" fill="url(#s232)"/>
<circle cx="36.3" cy="80.9" r="2.10" fill="url(#s172)"/>
<circle cx="124.0" cy="99.4" r="2.00" fill="url(#s208)"/>
<circle cx="122.7" cy="6.2" r="2.24" fill="url(#s220)"/>
<circle cx="25.5" cy="32.7" r="2.21" fill="url(#s208)"/>
<circle cx="93.6" cy="39.3" r="2.21" fill="url(#s244)"/>
<circle cx="97.5" cy="43.5" r="1.95" fill="url(#s208)"/>
<circle cx="29.4" cy="86.7" r="2.21" fill="url(#s220)"/>
<circle cx="66.0" cy="64.9" r="1.84" fill="url(#s184)"/>
<circle cx="78.9" cy="50.2" r="1.86" fill="url(#s232)"/>
<circle cx="67.9" cy="74.2" r="1.78" fill="url(#s184)"/>
<circle cx="110.7" cy="68.7" r="2.03" fill="url(#s220)"/>
<circle cx="127.0" cy="8.5" r="2.12" fill="url(#s196)"/>
<circle cx="67.8" cy="87.8" r="1.83" fill="url(#s172)"/>
<circle cx="89.0" cy="86.4" r="2.14" fill="url(#s196)"/>
<circle cx="123.8" cy="17.5" r="1.95" fill="url(#s184)"/>
<circle cx="70.7" cy="41.1" r="2.22" fill="url(#s232)"/>
<circle cx="59.0" cy="17.4" r="1.93" fill="url(#s220)"/>
<circle cx="76.0" cy="68.8" r="1.82" fill="url(#s184)"/>
<circle cx="55.2" cy="74.9" r="1.80" fill="url(#s184)"/>
<circle cx="44.3" cy="1.5" r="2.19" fill="url(#s196)"/>
<circle cx="117.9" cy="68.9" r="1.81" fill="url(#s196)"/>
<circle cx="62.3" cy="53.1" r="2.04" fill="url(#s220)"/>
<circle cx="32.1" cy="58.7" r="2.20" fill="url(#s220)"/>
<circle cx="123.2" cy="96.0" r="1.78" fill="url(#s220)"/>
<circle cx="72.1" cy="21.0" r="1.90" fill="url(#s244)"/>
<circle cx="75.6" cy="13.9" r="1.78" fill="url(#s220)"/>
<circle cx="66.0" cy="15.2" r="1.91" fill="url(#s220)"/>
<circle cx="48.1" cy="57.4" r="2.11" fill="url(#s220)"/>
<circle cx="29.2" cy="47.0" r="2.20" fill="url(#s196)"/>
<circle cx="62.7" cy="35.7" r="1.92" fill="url(#s220)"/>
<circle cx="66.7" cy="53.0" r="1.88" fill="url(#s208)"/>
<circle cx="127.3" cy="56.5" r="2.20" fill="url(#s232)"/>
<circle cx="119.9" cy="10.3" r="1.81" fill="url(#s196)"/>
<circle cx="60.0" cy="76.9" r="1.92" fill="url(#s196)"/>
<circle cx="53.8" cy="90.1" r="1.85" fill="url(#s172)"/>
<circle cx="28.6" cy="89.8" r="2.16" fill="url(#s208)"/>
<circle cx="128.8" cy="100.2" r="2.15" fill="url(#s232)"/>
<circle cx="82.0" cy="43.9" r="2.16" fill="url(#s244)"/>
<circle cx="128.8" cy="46.6" r="2.16" fill="url(#s220)"/>
<circle cx="85.7" cy="68.3" r="1.97" fill="url(#s196)"/>
<circle cx="47.5" cy="26.5" r="2.16" fill="url(#s184)"/>
<circle cx="30.8" cy="81.4" r="2.12" fill="url(#s196)"/>
<circle cx="111.9" cy="-0.0" r="2.08" fill="url(#s244)"/>
<circle cx="107.2" cy="26.1" r="2.24" fill="url(#s208)"/>
<circle cx="50.9" cy="62.3" r="1.80" fill="url(#s196)"/>
<circle cx="36.1" cy="40.6" r="1.89" fill="url(#s160)"/>
<circle cx="99.5" cy="26.7" r="2.05" fill="url(#s220)"/>
<circle cx="119.8" cy="42.1" r="1.99" fill="url(#s196)"/>
<circle cx="30.1" cy="92.5" r="1.81" fill="url(#s232)"/>
<circle cx="25.4" cy="99.9" r="1.93" fill="url(#s208)"/>
<circle cx="88.7" cy="20.5" r="2.03" fill="url(#s232)"/>
<circle cx="31.0" cy="47.0" r="2.17" fill="url(#s184)"/>
<circle cx="114.9" cy="-1.9" r="2.20" fill="url(#s196)"/>
<circle cx="82.4" cy="88.0" r="1.87" fill="url(#s208)"/>
<circle cx="35.3" cy="34.7" r="1.92" fill="url(#s184)"/>
<circle cx="91.6" cy="65.9" r="2.08" fill="url(#s160)"/>
<circle cx="116.8" cy="22.5" r="1.95" fill="url(#s232)"/>
<circle cx="100.7" cy="87.7" r="1.77" fill="url(#s160)"/>
<circle cx="77.3" cy="48.6" r="1.94" fill="url(#s196)"/>
<circle cx="56.0" cy="42.4" r="2.14" fill="url(#s184)"/>
<circle cx="109.7" cy="98.7" r="2.06" fill="url(#s184)"/>
<circle cx="87.6" cy="53.4" r="2.09" fill="url(#s208)"/>
<circle cx="73.0" cy="39.4" r="2.14" fill="url(#s244)"/>
<circle cx="59.5" cy="24.3" r="1.78" fill="url(#s244)"/>
<circle cx="73.9" cy="17.3" r="2.05" fill="url(#s196)"/>
<circle cx="39.7" cy="14.7" r="2.01" fill="url(#s232)"/>
<circle cx="127.6" cy="20.0" r="1.91" fill="url(#s232)"/>
<circle cx="92.4" cy="55.8" r="2.23" fill="url(#s220)"/>
<circle cx="83.9" cy="64.9" r="2.04" fill="url(#s148)"/>
<circle cx="37.8" cy="44.0" r="1.87" fill="url(#s160)"/>
<circle cx="81.5" cy="85.0" r="2.14" fill="url(#s196)"/>
<circle cx="53.0" cy="95.6" r="1.76" fill="url(#s196)"/>
<circle cx="29.2" cy="11.6" r="2.02" fill="url(#s208)"/>
<circle cx="86.6" cy="3.0" r="2.21" fill="url(#s196)"/>
<circle cx="53.5" cy="47.9" r="2.13" fill="url(#s208)"/>
<circle cx="58.9" cy="80.3" r="2.19" fill="url(#s172)"/>
<circle cx="102.1" cy="72.8" r="1.92" fill="url(#s184)"/>
<circle cx="43.2" cy="21.3" r="2.13" fill="url(#s208)"/>
<circle cx="111.1" cy="1.3" r="2.01" fill="url(#s196)"/>
<circle cx="116.2" cy="10.8" r="2.03" fill="url(#s244)"/>
<circle cx="83.4" cy="51.6" r="1.91" fill="url(#s220)"/>
<circle cx="104.3" cy="52.6" r="1.87" fill="url(#s232)"/>
<circle cx="128.2" cy="69.4" r="2.15" fill="url(#s232)"/>
<circle cx="67.6" cy="81.2" r="2.22" fill="url(#s208)"/>
<circle cx="89.3" cy="15.1" r="1.79" fill="url(#s208)"/>
<circle cx="96.9" cy="7.7" r="1.93" fill="url(#s196)"/>
<circle cx="93.5" cy="50.3" r="2.09" fill="url(#s220)"/>
<circle cx="34.2" cy="50.3" r="2.08" fill="url(#s172)"/>
<circle cx="69.6" cy="72.8" r="1.85" fill="url(#s208)"/>
<circle cx="81.4" cy="68.8" r="1.83" fill="url(#s196)"/>
<circle cx="82.7" cy="75.2" r="1.94" fill="url(#s184)"/>
<circle cx="96.1" cy="75.9" r="1.84" fill="url(#s184)"/>
<circle cx="77.8" cy="65.3" r="1.97" fill="url(#s172)"/>
<circle cx="68.0" cy="98.7" r="2.21" fill="url(#s208)"/>
<circle cx="107.8" cy="53.0" r="2.13" fill="url(#s208)"/>
<circle cx="124.6" cy="8.8" r="1.80" fill="url(#s196)"/>
<circle cx="121.8" cy="-0.8" r="2.19" fill="url(#s232)"/>
<circle cx="58.9" cy="25.6" r="2.24" fill="url(#s208)"/>
<circle cx="92.1" cy="86.5" r="2.14" fill="url(#s184)"/>
<circle cx="90.4" cy="96.9" r="2.12" fill="url(#s208)"/>
<circle cx="91.9" cy="92.2" r="2.11" fill="url(#s172)"/>
<circle cx="75.5" cy="99.6" r="2.22" fill="url(#s196)"/>
<circle cx="51.7" cy="83.3" r="2.14" fill="url(#s184)"/>
<circle cx="39.4" cy="11.1" r="1.83" fill="url(#s208)"/>
<circle cx="127.1" cy="23.0" r="1.92" fill="url(#s196)"/>
<circle cx="58.4" cy="32.2" r="1.81" fill="url(#s232)"/>
<circle cx="105.8" cy="18.4" r="1.98" fill="url(#s208)"/>
<circle cx="64.9" cy="49.8" r="2.19" fill="url(#s196)"/>
<circle cx="108.4" cy="29.0" r="1.87" fill="url(#s220)"/>
<circle cx="74.2" cy="83.8" r="1.88" fill="url(#s232)"/>
<circle cx="90.2" cy="75.6" r="1.86" fill="url(#s220)"/>
<circle cx="44.6" cy="56.8" r="1.93" fill="url(#s196)"/>
<circle cx="124.6" cy="74.5" r="2.14" fill="url(#s184)"/>
<circle cx="34.6" cy="64.9" r="1.83" fill="url(#s220)"/>
<circle cx="82.1" cy="2.6" r="2.05" fill="url(#s220)"/>
<circle cx="43.3" cy="53.8" r="2.22" fill="url(#s208)"/>
<circle cx="86.8" cy="38.1" r="2.09" fill="url(#s220)"/>
<circle cx="67.6" cy="6.2" r="2.00" fill="url(#s196)"/>
<circle cx="75.5" cy="92.8" r="1.97" fill="url(#s208)"/>
<circle cx="121.3" cy="51.5" r="1.88" fill="url(#s196)"/>
<circle cx="102.5" cy="75.4" r="2.16" fill="url(#s220)"/>
<circle cx="117.7" cy="75.9" r="2.11" fill="url(#s208)"/>
<circle cx="108.8" cy="90.8" r="2.07" fill="url(#s196)"/>
<circle cx="112.0" cy="6.3" r="2.10" fill="url(#s232)"/>
<circle cx="125.5" cy="37.7" r="2.09" fill="url(#s208)"/>
<circle cx="69.1" cy="97.1" r="2.07" fill="url(#s196)"/>
<circle cx="57.2" cy="49.9" r="2.05" fill="url(#s196)"/>
<circle cx="79.6" cy="62.1" r="1.79" fill="url(#s160)"/>
<circle cx="70.9" cy="22.9" r="2.06" fill="url(#s220)"/>
<circle cx="76.9" cy="42.0" r="1.96" fill="url(#s208)"/>
<circle cx="98.9" cy="69.3" r="1.78" fill="url(#s220)"/>
<circle cx="27.7" cy="42.0" r="1.91" fill="url(#s220)"/>
<circle cx="103.1" cy="1.2" r="2.02" fill="url(#s220)"/>
<circle cx="109.1" cy="96.6" r="1.88" fill="url(#s220)"/>
<circle cx="65.7" cy="59.4" r="2.15" fill="url(#s172)"/>
<circle cx="73.0" cy="98.6" r="2.07" fill="url(#s196)"/>
<circle cx="126.0" cy="96.6" r="2.00" fill="url(#s220)"/>
<circle cx="111.7" cy="59.3" r="1.93" fill="url(#s232)"/>
<circle cx="108.0" cy="20.0" r="2.21" fill="url(#s220)"/>
<circle cx="46.0" cy="60.8" r="2.17" fill="url(#s208)"/>
<circle cx="67.4" cy="83.9" r="1.89" fill="url(#s172)"/>
<circle cx="44.7" cy="10.8" r="2.07" fill="url(#s196)"/>
<circle cx="56.1" cy="53.6" r="1.89" fill="url(#s208)"/>
<circle cx="91.3" cy="41.6" r="1.83" fill="url(#s244)"/>
<circle cx="94.8" cy="95.7" r="1.97" fill="url(#s208)"/>
<circle cx="64.8" cy="68.9" r="2.16" fill="url(#s208)"/>
<circle cx="90.2" cy="55.7" r="1.88" fill="url(#s184)"/>
<circle cx="75.0" cy="26.7" r="2.03" fill="url(#s208)"/>
<circle cx="108.0" cy="74.8" r="2.07" fill="url(#s208)"/>
<circle cx="75.5" cy="44.5" r="2.02" fill="url(#s220)"/>
<circle cx="49.2" cy="54.1" r="2.03" fill="url(#s208)"/>
<circle cx="88.7" cy="11.4" r="1.91" fill="url(#s232)"/>
<circle cx="85.1" cy="36.6" r="1.83" fill="url(#s232)"/>
<circle cx="77.0" cy="95.3" r="1.93" fill="url(#s220)"/>
<circle cx="32.7" cy="71.0" r="2.23" fill="url(#s220)"/>
<circle cx="65.5" cy="80.5" r="2.19" fill="url(#s172)"/>
<circle cx="107.9" cy="65.9" r="2.03" fill="url(#s208)"/>
<circle cx="118.5" cy="35.1" r="1.90" fill="url(#s208)"/>
<circle cx="56.8" cy="36.1" r="1.79" fill="url(#s184)"/>
<circle cx="96.2" cy="38.2" r="1.84" fill="url(#s208)"/>
<circle cx="78.3" cy="43.5" r="1.78" fill="url(#s220)"/>
<circle cx="110.8" cy="50.3" r="2.17" fill="url(#s208)"/>
<circle cx="59.0" cy="38.0" r="1.80" fill="url(#s208)"/>
<circle cx="67.7" cy="61.9" r="2.07" fill="url(#s184)"/>
<circle cx="49.0" cy="23.8" r="2.16" fill="url(#s220)"/>
<circle cx="56.0" cy="58.9" r="1.96" fill="url(#s196)"/>
<circle cx="127.5" cy="51.1" r="2.07" fill="url(#s196)"/>
<circle cx="121.0" cy="8.3" r="2.07" fill="url(#s244)"/>
<circle cx="44.9" cy="68.8" r="2.00" fill="url(#s172)"/>
<circle cx="39.6" cy="62.8" r="1.97" fill="url(#s184)"/>
<circle cx="25.6" cy="81.4" r="2.00" fill="url(#s184)"/>
<circle cx="53.0" cy="29.7" r="1.88" fill="url(#s220)"/>
<circle cx="129.1" cy="41.5" r="1.97" fill="url(#s208)"/>
<circle cx="51.0" cy="82.0" r="1.97" fill="url(#s172)"/>
<circle cx="114.1" cy="43.7" r="1.89" fill="url(#s220)"/>
<circle cx="83.3" cy="90.1" r="2.17" fill="url(#s220)"/>
<circle cx="54.6" cy="13.7" r="2.24" fill="url(#s232)"/>
<circle cx="72.5" cy="32.6" r="1.79" fill="url(#s220)"/>
<circle cx="32.6" cy="14.0" r="2.14" fill="url(#s208)"/>
<circle cx="126.0" cy="59.4" r="1.91" fill="url(#s244)"/>
<circle cx="112.8" cy="23.9" r="2.15" fill="url(#s208)"/>
<circle cx="31.0" cy="44.2" r="1.97" fill="url(#s196)"/>
<circle cx="114.7" cy="68.9" r="2.23" fill="url(#s232)"/>
<circle cx="45.3" cy="23.0" r="2.16" fill="url(#s220)"/>
<circle cx="24.6" cy="71.7" r="1.91" fill="url(#s220)"/>
<circle cx="110.7" cy="20.1" r="1.89" fill="url(#s208)"/>
<circle cx="62.1" cy="74.9" r="2.06" fill="url(#s160)"/>
<circle cx="94.0" cy="16.7" r="2.09" fill="url(#s208)"/>
<circle cx="124.8" cy="20.4" r="2.03" fill="url(#s220)"/>
<circle cx="125.7" cy="29.8" r="2.23" fill="url(#s184)"/>
<circle cx="87.7" cy="89.6" r="1.97" fill="url(#s172)"/>
<circle cx="107.2" cy="86.3" r="1.86" fill="url(#s208)"/>
<circle cx="68.5" cy="38.2" r="1.86" fill="url(#s208)"/>
<circle cx="75.8" cy="63.4" r="2.20" fill="url(#s172)"/>
<circle cx="120.7" cy="80.3" r="1.96" fill="url(#s196)"/>
<circle cx="107.1" cy="55.8" r="2.16" fill="url(#s220)"/>
<circle cx="83.0" cy="14.8" r="2.24" fill="url(#s220)"/>
<circle cx="33.5" cy="92.7" r="1.97" fill="url(#s232)"/>
<circle cx="38.1" cy="-1.9" r="1.97" fill="url(#s208)"/>
<circle cx="82.0" cy="99.2" r="2.02" fill="url(#s208)"/>
<circle cx="79.9" cy="11.8" r="2.15" fill="url(#s196)"/>
<circle cx="104.5" cy="57.7" r="2.16" fill="url(#s220)"/>
<circle cx="119.5" cy="95.8" r="1.80" fill="url(#s232)"/>
<circle cx="59.8" cy="84.9" r="1.95" fill="url(#s196)"/>
<circle cx="92.0" cy="62.6" r="2.11" fill="url(#s184)"/>
<circle cx="32.6" cy="11.0" r="2.08" fill="url(#s232)"/>
<circle cx="36.5" cy="68.8" r="2.07" fill="url(#s220)"/>
<circle cx="44.3" cy="25.7" r="2.19" fill="url(#s208)"/>
<circle cx="51.0" cy="56.9" r="2.15" fill="url(#s196)"/>
<circle cx="64.7" cy="93.5" r="2.00" fill="url(#s220)"/>
<circle cx="63.5" cy="95.1" r="1.85" fill="url(#s208)"/>
<circle cx="45.7" cy="89.9" r="2.14" fill="url(#s208)"/>
<circle cx="56.8" cy="28.6" r="1.77" fill="url(#s208)"/>
<circle cx="122.2" cy="28.9" r="1.96" fill="url(#s220)"/>
<circle cx="29.5" cy="20.2" r="2.09" fill="url(#s232)"/>
<circle cx="71.4" cy="27.1" r="2.02" fill="url(#s220)"/>
<circle cx="88.3" cy="46.7" r="2.12" fill="url(#s244)"/>
<circle cx="64.5" cy="20.8" r="1.95" fill="url(#s208)"/>
<circle cx="89.7" cy="37.7" r="1.79" fill="url(#s244)"/>
<circle cx="74.8" cy="20.7" r="2.22" fill="url(#s232)"/>
<circle cx="49.2" cy="36.5" r="1.81" fill="url(#s160)"/>
<circle cx="61.8" cy="92.8" r="2.00" fill="url(#s220)"/>
<circle cx="69.1" cy="26.4" r="1.79" fill="url(#s244)"/>
<circle cx="79.9" cy="87.2" r="1.97" fill="url(#s172)"/>
<circle cx="117.9" cy="25.8" r="1.90" fill="url(#s208)"/>
<circle cx="78.6" cy="81.0" r="1.77" fill="url(#s220)"/>
<circle cx="50.8" cy="32.5" r="1.82" fill="url(#s220)"/>
<circle cx="35.0" cy="82.9" r="1.82" fill="url(#s172)"/>
<circle cx="26.7" cy="87.8" r="2.04" fill="url(#s220)"/>
<circle cx="86.9" cy="8.0" r="1.81" fill="url(#s208)"/>
<circle cx="107.5" cy="93.4" r="2.10" fill="url(#s172)"/>
<circle cx="30.9" cy="89.5" r="1.95" fill="url(#s220)"/>
<circle cx="62.8" cy="42.1" r="1.99" fill="url(#s208)"/>
<circle cx="98.8" cy="5.9" r="2.19" fill="url(#s220)"/>
<circle cx="34.4" cy="61.8" r="1.78" fill="url(#s196)"/>
<circle cx="86.5" cy="44.5" r="2.03" fill="url(#s220)"/>
<circle cx="53.5" cy="61.9" r="2.17" fill="url(#s220)"/>
<circle cx="46.4" cy="19.9" r="1.80" fill="url(#s208)"/>
<circle cx="48.3" cy="98.9" r="1.94" fill="url(#s196)"/>
<circle cx="78.1" cy="84.1" r="2.15" fill="url(#s184)"/>
<circle cx="95.2" cy="83.9" r="2.06" fill="url(#s208)"/>
<circle cx="35.6" cy="17.9" r="2.08" fill="url(#s208)"/>
<circle cx="69.7" cy="0.1" r="1.91" fill="url(#s232)"/>
<circle cx="125.9" cy="17.7" r="2.04" fill="url(#s232)"/>
<circle cx="69.2" cy="44.5" r="1.91" fill="url(#s220)"/>
<circle cx="65.6" cy="95.9" r="2.19" fill="url(#s184)"/>
<circle cx="91.4" cy="48.6" r="2.04" fill="url(#s244)"/>
<circle cx="87.9" cy="84.4" r="1.77" fill="url(#s184)"/>
<circle cx="29.0" cy="29.6" r="1.81" fill="url(#s208)"/>
<circle cx="52.1" cy="16.8" r="1.85" fill="url(#s208)"/>
<circle cx="32.4" cy="7.4" r="1.95" fill="url(#s220)"/>
<circle cx="68.3" cy="93.5" r="1.81" fill="url(#s208)"/>
<circle cx="97.2" cy="2.4" r="1.86" fill="url(#s232)"/>
<circle cx="23.7" cy="16.4" r="1.91" fill="url(#s220)"/>
<circle cx="121.1" cy="1.7" r="2.17" fill="url(#s208)"/>
<circle cx="126.8" cy="0.0" r="2.09" fill="url(#s208)"/>
<circle cx="36.0" cy="9.3" r="1.80" fill="url(#s232)"/>
<circle cx="118.5" cy="4.9" r="1.88" fill="url(#s196)"/>
<circle cx="80.6" cy="16.8" r="1.79" fill="url(#s232)"/>
<circle cx="78.8" cy="56.9" r="2.21" fill="url(#s208)"/>
<circle cx="100.8" cy="66.6" r="2.23" fill="url(#s172)"/>
<circle cx="99.4" cy="73.9" r="2.23" fill="url(#s232)"/>
<circle cx="101.0" cy="2.2" r="1.91" fill="url(#s232)"/>
<circle cx="94.7" cy="6.2" r="1.88" fill="url(#s232)"/>
<circle cx="64.0" cy="86.2" r="2.23" fill="url(#s220)"/>
<circle cx="60.4" cy="11.2" r="2.19" fill="url(#s196)"/>
<circle cx="41.9" cy="47.2" r="2.04" fill="url(#s148)"/>
<circle cx="62.3" cy="77.0" r="2.21" fill="url(#s196)"/>
<circle cx="26.7" cy="92.8" r="1.82" fill="url(#s196)"/>
<circle cx="95.5" cy="81.3" r="2.06" fill="url(#s220)"/>
<circle cx="125.4" cy="10.4" r="1.79" fill="url(#s208)"/>
<circle cx="98.0" cy="90.5" r="2.06" fill="url(#s184)"/>
<circle cx="112.0" cy="90.4" r="2.12" fill="url(#s172)"/>
<circle cx="80.4" cy="90.6" r="1.89" fill="url(#s208)"/>
<circle cx="46.6" cy="32.0" r="2.03" fill="url(#s220)"/>
<circle cx="72.7" cy="78.5" r="1.81" fill="url(#s184)"/>
<circle cx="115.1" cy="34.5" r="2.13" fill="url(#s196)"/>
<circle cx="71.4" cy="75.9" r="1.98" fill="url(#s196)"/>
<circle cx="53.4" cy="32.3" r="2.08" fill="url(#s196)"/>
<circle cx="120.2" cy="99.1" r="1.99" fill="url(#s184)"/>
<circle cx="55.2" cy="17.2" r="1.94" fill="url(#s220)"/>
<circle cx="125.3" cy="5.4" r="1.78" fill="url(#s232)"/>
<circle cx="81.5" cy="72.3" r="2.20" fill="url(#s220)"/>
<circle cx="45.9" cy="35.9" r="2.05" fill="url(#s184)"/>
<circle cx="39.7" cy="36.5" r="2.17" fill="url(#s196)"/>
<circle cx="125.2" cy="43.9" r="2.06" fill="url(#s220)"/>
<circle cx="36.9" cy="38.1" r="1.87" fill="url(#s196)"/>
<circle cx="72.9" cy="87.8" r="2.11" fill="url(#s196)"/>
<circle cx="40.4" cy="9.2" r="2.01" fill="url(#s196)"/>
<circle cx="64.9" cy="25.8" r="2.07" fill="url(#s232)"/>
<circle cx="34.1" cy="72.7" r="1.90" fill="url(#s172)"/>
<circle cx="94.8" cy="23.7" r="1.89" fill="url(#s232)"/>
<circle cx="76.8" cy="90.2" r="2.04" fill="url(#s208)"/>
<circle cx="99.1" cy="8.7" r="2.20" fill="url(#s220)"/>
<circle cx="88.4" cy="-1.5" r="2.11" fill="url(#s196)"/>
<circle cx="32.4" cy="75.9" r="2.02" fill="url(#s208)"/>
<circle cx="33.7" cy="81.3" r="2.02" fill="url(#s184)"/>
<circle cx="114.7" cy="26.2" r="2.00" fill="url(#s196)"/>
<circle cx="51.9" cy="99.9" r="1.82" fill="url(#s220)"/>
<circle cx="52.9" cy="72.8" r="1.78" fill="url(#s184)"/>
<circle cx="71.5" cy="69.8" r="2.15" fill="url(#s196)"/>
<circle cx="84.0" cy="83.6" r="2.14" fill="url(#s220)"/>
<circle cx="97.9" cy="36.4" r="2.10" fill="url(#s220)"/>
<circle cx="112.3" cy="35.6" r="2.01" fill="url(#s220)"/>
<circle cx="44.4" cy="37.9" r="1.84" fill="url(#s172)"/>
<circle cx="37.4" cy="25.7" r="2.09" fill="url(#s196)"/>
<circle cx="100.9" cy="35.9" r="2.11" fill="url(#s244)"/>
<circle cx="54.4" cy="2.9" r="2.10" fill="url(#s232)"/>
<circle cx="85.1" cy="95.7" r="1.79" fill="url(#s208)"/>
<circle cx="78.3" cy="6.1" r="1.79" fill="url(#s196)"/>
<circle cx="35.6" cy="89.7" r="2.00" fill="url(#s208)"/>
<circle cx="95.1" cy="71.3" r="1.96" fill="url(#s208)"/>
<circle cx="51.8" cy="52.9" r="1.84" fill="url(#s172)"/>
<circle cx="114.7" cy="78.1" r="2.18" fill="url(#s184)"/>
<circle cx="99.2" cy="99.7" r="2.06" fill="url(#s232)"/>
<circle cx="95.6" cy="34.7" r="2.18" fill="url(#s220)"/>
<circle cx="107.9" cy="38.0" r="2.06" fill="url(#s244)"/>
<circle cx="62.7" cy="90.2" r="2.13" fill="url(#s196)"/>
<circle cx="95.8" cy="68.0" r="2.20" fill="url(#s172)"/>
<circle cx="32.4" cy="-0.5" r="2.23" fill="url(#s184)"/>
<circle cx="125.5" cy="48.1" r="2.08" fill="url(#s220)"/>
<circle cx="83.5" cy="62.3" r="2.18" fill="url(#s160)"/>
<circle cx="97.2" cy="17.1" r="1.86" fill="url(#s220)"/>
<circle cx="90.4" cy="45.3" r="1.88" fill="url(#s208)"/>
<circle cx="70.4" cy="89.5" r="2.02" fill="url(#s220)"/>
<circle cx="37.1" cy="50.8" r="2.09" fill="url(#s208)"/>
<circle cx="75.9" cy="32.3" r="2.03" fill="url(#s244)"/>
<circle cx="38.3" cy="29.8" r="2.23" fill="url(#s208)"/>
<circle cx="74.4" cy="53.4" r="2.16" fill="url(#s184)"/>
<circle cx="118.0" cy="93.1" r="1.90" fill="url(#s184)"/>
<circle cx="38.4" cy="66.7" r="2.16" fill="url(#s220)"/>
<circle cx="115.0" cy="58.6" r="2.12" fill="url(#s232)"/>
<circle cx="26.3" cy="13.2" r="2.10" fill="url(#s208)"/>
<circle cx="50.0" cy="85.1" r="1.88" fill="url(#s184)"/>
<circle cx="39.2" cy="78.6" r="2.20" fill="url(#s172)"/>
<circle cx="101.9" cy="46.9" r="2.17" fill="url(#s220)"/>
<circle cx="73.5" cy="-0.1" r="1.81" fill="url(#s220)"/>
<circle cx="45.6" cy="29.2" r="1.86" fill="url(#s208)"/>
<circle cx="54.9" cy="86.1" r="2.00" fill="url(#s148)"/>
<circle cx="93.0" cy="44.1" r="2.01" fill="url(#s244)"/>
<circle cx="88.4" cy="93.3" r="1.94" fill="url(#s196)"/>
<circle cx="84.4" cy="59.3" r="2.19" fill="url(#s184)"/>
<circle cx="98.0" cy="83.5" r="2.12" fill="url(#s184)"/>
<circle cx="26.6" cy="2.4" r="2.07" fill="url(#s184)"/>
<circle cx="62.0" cy="68.7" r="2.09" fill="url(#s172)"/>
<circle cx="29.5" cy="98.4" r="2.19" fill="url(#s208)"/>
<circle cx="80.0" cy="66.8" r="2.00" fill="url(#s208)"/>
<circle cx="50.4" cy="69.2" r="2.12" fill="url(#s196)"/>
<circle cx="87.3" cy="22.4" r="1.99" fill="url(#s208)"/>
<circle cx="42.0" cy="30.1" r="2.10" fill="url(#s208)"/>
</g></g>
<radialGradient id="q40" cx="0.42" cy="0.4" r="0.62"><stop offset="0" stop-color="#343434"/><stop offset="0.55" stop-color="#242424"/><stop offset="1" stop-color="#181818"/></radialGradient>
<radialGradient id="q52" cx="0.42" cy="0.4" r="0.62"><stop offset="0" stop-color="#404040"/><stop offset="0.55" stop-color="#303030"/><stop offset="1" stop-color="#1f1f1f"/></radialGradient>
<radialGradient id="q64" cx="0.42" cy="0.4" r="0.62"><stop offset="0" stop-color="#4c4c4c"/><stop offset="0.55" stop-color="#3c3c3c"/><stop offset="1" stop-color="#262626"/></radialGradient>
<radialGradient id="q76" cx="0.42" cy="0.4" r="0.62"><stop offset="0" stop-color="#585858"/><stop offset="0.55" stop-color="#484848"/><stop offset="1" stop-color="#2d2d2d"/></radialGradient>
<radialGradient id="q88" cx="0.42" cy="0.4" r="0.62"><stop offset="0" stop-color="#646464"/><stop offset="0.55" stop-color="#545454"/><stop offset="1" stop-color="#343434"/></radialGradient>
<radialGradient id="q100" cx="0.42" cy="0.4" r="0.62"><stop offset="0" stop-color="#707070"/><stop offset="0.55" stop-color="#606060"/><stop offset="1" stop-color="#3c3c3c"/></radialGradient>
<radialGradient id="q112" cx="0.42" cy="0.4" r="0.62"><stop offset="0" stop-color="#7c7c7c"/><stop offset="0.55" stop-color="#6c6c6c"/><stop offset="1" stop-color="#434343"/></radialGradient>
<radialGradient id="q124" cx="0.42" cy="0.4" r="0.62"><stop offset="0" stop-color="#888888"/><stop offset="0.55" stop-color="#787878"/><stop offset="1" stop-color="#4a4a4a"/></radialGradient>
<radialGradient id="q136" cx="0.42" cy="0.4" r="0.62"><stop offset="0" stop-color="#949494"/><stop offset="0.55" stop-color="#848484"/><stop offset="1" stop-color="#515151"/></radialGradient>
<radialGradient id="q148" cx="0.42" cy="0.4" r="0.62"><stop offset="0" stop-color="#a0a0a0"/><stop offset="0.55" stop-color="#909090"/><stop offset="1" stop-color="#585858"/></radialGradient>
<radialGradient id="q160" cx="0.42" cy="0.4" r="0.62"><stop offset="0" stop-color="#acacac"/><stop offset="0.55" stop-color="#9c9c9c"/><stop offset="1" stop-color="#606060"/></radialGradient>
<radialGradient id="q172" cx="0.42" cy="0.4" r="0.62"><stop offset="0" stop-color="#b8b8b8"/><stop offset="0.55" stop-color="#a8a8a8"/><stop offset="1" stop-color="#676767"/></radialGradient>
<radialGradient id="q184" cx="0.42" cy="0.4" r="0.62"><stop offset="0" stop-color="#c4c4c4"/><stop offset="0.55" stop-color="#b4b4b4"/><stop offset="1" stop-color="#6e6e6e"/></radialGradient>
<radialGradient id="q196" cx="0.42" cy="0.4" r="0.62"><stop offset="0" stop-color="#d0d0d0"/><stop offset="0.55" stop-color="#c0c0c0"/><stop offset="1" stop-color="#757575"/></radialGradient>
<radialGradient id="q208" cx="0.42" cy="0.4" r="0.62"><stop offset="0" stop-color="#dcdcdc"/><stop offset="0.55" stop-color="#cccccc"/><stop offset="1" stop-color="#7c7c7c"/></radialGradient>
<radialGradient id="q220" cx="0.42" cy="0.4" r="0.62"><stop offset="0" stop-color="#e8e8e8"/><stop offset="0.55" stop-color="#d8d8d8"/><stop offset="1" stop-color="#848484"/></radialGradient>
<radialGradient id="q232" cx="0.42" cy="0.4" r="0.62"><stop offset="0" stop-color="#f4f4f4"/><stop offset="0.55" stop-color="#e4e4e4"/><stop offset="1" stop-color="#8b8b8b"/></radialGradient>
<radialGradient id="q244" cx="0.42" cy="0.4" r="0.62"><stop offset="0" stop-color="#ffffff"/><stop offset="0.55" stop-color="#f0f0f0"/><stop offset="1" stop-color="#929292"/></radialGradient>
<g clip-path="url(#ca2)"><rect x="128.2" y="2.6" width="106.5" height="95.3" fill="#4a4a4a"/><g filter="url(#bl)">
<circle cx="130.2" cy="92.9" r="2.33" fill="url(#q160)"/>
<circle cx="197.5" cy="34.0" r="2.54" fill="url(#q160)"/>
<circle cx="160.5" cy="26.9" r="2.47" fill="url(#q148)"/>
<circle cx="221.3" cy="39.4" r="2.57" fill="url(#q136)"/>
<circle cx="174.3" cy="29.1" r="2.47" fill="url(#q160)"/>
<circle cx="191.0" cy="14.9" r="2.07" fill="url(#q136)"/>
<circle cx="194.0" cy="35.5" r="2.31" fill="url(#q208)"/>
<circle cx="192.9" cy="27.2" r="2.45" fill="url(#q148)"/>
<circle cx="205.7" cy="29.5" r="2.29" fill="url(#q160)"/>
<circle cx="219.5" cy="76.0" r="2.10" fill="url(#q184)"/>
<circle cx="238.8" cy="15.8" r="2.51" fill="url(#q124)"/>
<circle cx="225.7" cy="15.4" r="2.15" fill="url(#q124)"/>
<circle cx="187.3" cy="18.8" r="2.38" fill="url(#q124)"/>
<circle cx="201.8" cy="37.3" r="2.05" fill="url(#q160)"/>
<circle cx="189.9" cy="64.8" r="2.54" fill="url(#q208)"/>
<circle cx="150.8" cy="93.3" r="2.51" fill="url(#q136)"/>
<circle cx="157.8" cy="91.8" r="2.31" fill="url(#q184)"/>
<circle cx="228.7" cy="33.5" r="2.06" fill="url(#q100)"/>
<circle cx="229.6" cy="13.2" r="2.41" fill="url(#q160)"/>
<circle cx="234.3" cy="2.9" r="2.56" fill="url(#q136)"/>
<circle cx="175.3" cy="-0.1" r="2.25" fill="url(#q124)"/>
<circle cx="176.1" cy="66.8" r="2.25" fill="url(#q160)"/>
<circle cx="138.8" cy="72.2" r="2.47" fill="url(#q112)"/>
<circle cx="153.5" cy="13.8" r="2.43" fill="url(#q136)"/>
<circle cx="200.2" cy="19.5" r="2.07" fill="url(#q124)"/>
<circle cx="142.9" cy="47.7" r="2.34" fill="url(#q184)"/>
<circle cx="177.1" cy="62.2" r="2.18" fill="url(#q244)"/>
<circle cx="183.3" cy="70.8" r="2.34" fill="url(#q160)"/>
<circle cx="177.5" cy="70.2" r="2.29" fill="url(#q184)"/>
<circle cx="153.3" cy="39.2" r="2.05" fill="url(#q160)"/>
<circle cx="178.6" cy="84.9" r="2.33" fill="url(#q220)"/>
<circle cx="143.1" cy="30.3" r="2.45" fill="url(#q160)"/>
<circle cx="177.3" cy="12.8" r="2.12" fill="url(#q136)"/>
<circle cx="200.7" cy="59.7" r="2.08" fill="url(#q196)"/>
<circle cx="166.1" cy="57.8" r="2.53" fill="url(#q160)"/>
<circle cx="202.0" cy="79.6" r="2.22" fill="url(#q124)"/>
<circle cx="132.8" cy="56.6" r="2.55" fill="url(#q148)"/>
<circle cx="218.7" cy="91.3" r="2.12" fill="url(#q172)"/>
<circle cx="235.1" cy="58.1" r="2.41" fill="url(#q148)"/>
<circle cx="161.6" cy="58.0" r="2.35" fill="url(#q184)"/>
<circle cx="181.2" cy="63.6" r="2.35" fill="url(#q196)"/>
<circle cx="191.5" cy="28.9" r="2.30" fill="url(#q136)"/>
<circle cx="229.2" cy="99.8" r="2.13" fill="url(#q172)"/>
<circle cx="180.5" cy="34.0" r="2.26" fill="url(#q220)"/>
<circle cx="140.0" cy="-1.4" r="2.22" fill="url(#q172)"/>
<circle cx="177.5" cy="22.8" r="2.08" fill="url(#q172)"/>
<circle cx="148.3" cy="74.4" r="2.47" fill="url(#q136)"/>
<circle cx="189.4" cy="45.0" r="2.50" fill="url(#q220)"/>
<circle cx="169.9" cy="42.7" r="2.06" fill="url(#q232)"/>
<circle cx="143.0" cy="6.4" r="2.14" fill="url(#q136)"/>
<circle cx="133.1" cy="49.3" r="2.13" fill="url(#q184)"/>
<circle cx="173.3" cy="89.3" r="2.42" fill="url(#q208)"/>
<circle cx="217.1" cy="65.0" r="2.52" fill="url(#q184)"/>
<circle cx="169.1" cy="29.8" r="2.38" fill="url(#q184)"/>
<circle cx="218.7" cy="1.4" r="2.36" fill="url(#q124)"/>
<circle cx="214.2" cy="93.5" r="2.43" fill="url(#q172)"/>
<circle cx="219.2" cy="14.9" r="2.12" fill="url(#q124)"/>
<circle cx="145.8" cy="58.4" r="2.50" fill="url(#q160)"/>
<circle cx="164.7" cy="68.0" r="2.12" fill="url(#q172)"/>
<circle cx="195.5" cy="70.9" r="2.40" fill="url(#q172)"/>
<circle cx="189.2" cy="70.1" r="2.42" fill="url(#q196)"/>
<circle cx="124.8" cy="68.6" r="2.03" fill="url(#q184)"/>
<circle cx="223.8" cy="11.1" r="2.37" fill="url(#q148)"/>
<circle cx="154.9" cy="69.1" r="2.48" fill="url(#q136)"/>
<circle cx="149.4" cy="26.7" r="2.47" fill="url(#q196)"/>
<circle cx="139.3" cy="69.0" r="2.37" fill="url(#q112)"/>
<circle cx="232.7" cy="-2.3" r="2.26" fill="url(#q148)"/>
<circle cx="133.7" cy="84.0" r="2.34" fill="url(#q124)"/>
<circle cx="215.3" cy="57.8" r="2.14" fill="url(#q220)"/>
<circle cx="147.8" cy="-1.2" r="2.20" fill="url(#q172)"/>
<circle cx="161.8" cy="29.2" r="2.43" fill="url(#q208)"/>
<circle cx="213.4" cy="45.0" r="2.40" fill="url(#q244)"/>
<circle cx="197.3" cy="30.1" r="2.40" fill="url(#q136)"/>
<circle cx="218.6" cy="36.4" r="2.27" fill="url(#q160)"/>
<circle cx="131.6" cy="8.8" r="2.16" fill="url(#q184)"/>
<circle cx="161.1" cy="92.2" r="2.25" fill="url(#q160)"/>
<circle cx="125.6" cy="44.3" r="2.29" fill="url(#q184)"/>
<circle cx="155.7" cy="-0.5" r="2.09" fill="url(#q136)"/>
<circle cx="186.4" cy="92.9" r="2.11" fill="url(#q196)"/>
<circle cx="225.4" cy="68.3" r="2.04" fill="url(#q136)"/>
<circle cx="138.1" cy="64.4" r="2.12" fill="url(#q184)"/>
<circle cx="191.4" cy="-0.2" r="2.14" fill="url(#q184)"/>
<circle cx="177.2" cy="100.0" r="2.10" fill="url(#q148)"/>
<circle cx="201.1" cy="71.1" r="2.07" fill="url(#q160)"/>
<circle cx="239.1" cy="84.3" r="2.42" fill="url(#q172)"/>
<circle cx="164.5" cy="75.1" r="2.45" fill="url(#q196)"/>
<circle cx="227.5" cy="27.1" r="2.56" fill="url(#q100)"/>
<circle cx="147.7" cy="61.7" r="2.44" fill="url(#q136)"/>
<circle cx="225.0" cy="63.3" r="2.48" fill="url(#q148)"/>
<circle cx="147.0" cy="7.9" r="2.09" fill="url(#q124)"/>
<circle cx="173.9" cy="58.6" r="2.49" fill="url(#q208)"/>
<circle cx="193.7" cy="65.4" r="2.38" fill="url(#q184)"/>
<circle cx="133.1" cy="54.3" r="2.22" fill="url(#q136)"/>
<circle cx="222.3" cy="44.2" r="2.20" fill="url(#q172)"/>
<circle cx="168.0" cy="83.0" r="2.07" fill="url(#q196)"/>
<circle cx="143.2" cy="2.1" r="2.28" fill="url(#q136)"/>
<circle cx="199.9" cy="13.8" r="2.03" fill="url(#q124)"/>
<circle cx="219.6" cy="77.9" r="2.07" fill="url(#q160)"/>
<circle cx="222.6" cy="21.5" r="2.53" fill="url(#q136)"/>
<circle cx="180.1" cy="45.8" r="2.07" fill="url(#q220)"/>
<circle cx="133.9" cy="28.6" r="2.54" fill="url(#q136)"/>
<circle cx="175.5" cy="88.1" r="2.56" fill="url(#q244)"/>
<circle cx="166.8" cy="52.9" r="2.07" fill="url(#q196)"/>
<circle cx="198.9" cy="92.6" r="2.26" fill="url(#q160)"/>
<circle cx="162.9" cy="50.9" r="2.50" fill="url(#q196)"/>
<circle cx="151.4" cy="79.2" r="2.20" fill="url(#q160)"/>
<circle cx="139.9" cy="47.8" r="2.22" fill="url(#q172)"/>
<circle cx="144.8" cy="83.1" r="2.52" fill="url(#q160)"/>
<circle cx="188.7" cy="67.6" r="2.54" fill="url(#q220)"/>
<circle cx="163.3" cy="22.8" r="2.46" fill="url(#q172)"/>
<circle cx="168.6" cy="90.0" r="2.37" fill="url(#q172)"/>
<circle cx="168.4" cy="95.5" r="2.08" fill="url(#q160)"/>
<circle cx="228.9" cy="5.8" r="2.21" fill="url(#q136)"/>
<circle cx="183.0" cy="45.0" r="2.05" fill="url(#q244)"/>
<circle cx="169.3" cy="47.0" r="2.11" fill="url(#q208)"/>
<circle cx="139.8" cy="19.0" r="2.42" fill="url(#q184)"/>
<circle cx="230.0" cy="92.4" r="2.04" fill="url(#q136)"/>
<circle cx="154.1" cy="70.2" r="2.37" fill="url(#q160)"/>
<circle cx="195.0" cy="84.4" r="2.52" fill="url(#q136)"/>
<circle cx="155.1" cy="96.5" r="2.22" fill="url(#q160)"/>
<circle cx="140.1" cy="89.6" r="2.27" fill="url(#q136)"/>
<circle cx="147.0" cy="52.9" r="2.18" fill="url(#q136)"/>
<circle cx="176.8" cy="82.1" r="2.23" fill="url(#q232)"/>
<circle cx="154.9" cy="79.5" r="2.35" fill="url(#q148)"/>
<circle cx="211.3" cy="76.2" r="2.10" fill="url(#q148)"/>
<circle cx="227.3" cy="89.2" r="2.51" fill="url(#q184)"/>
<circle cx="168.7" cy="67.6" r="2.21" fill="url(#q172)"/>
<circle cx="153.1" cy="67.6" r="2.57" fill="url(#q172)"/>
<circle cx="185.0" cy="28.5" r="2.55" fill="url(#q184)"/>
<circle cx="228.9" cy="38.1" r="2.33" fill="url(#q124)"/>
<circle cx="236.0" cy="62.2" r="2.21" fill="url(#q184)"/>
<circle cx="133.8" cy="91.9" r="2.25" fill="url(#q160)"/>
<circle cx="231.4" cy="84.8" r="2.46" fill="url(#q136)"/>
<circle cx="215.2" cy="19.0" r="2.12" fill="url(#q160)"/>
<circle cx="131.9" cy="80.6" r="2.35" fill="url(#q124)"/>
<circle cx="130.1" cy="23.6" r="2.39" fill="url(#q136)"/>
<circle cx="188.8" cy="8.7" r="2.50" fill="url(#q184)"/>
<circle cx="152.8" cy="-1.1" r="2.38" fill="url(#q148)"/>
<circle cx="173.3" cy="85.2" r="2.37" fill="url(#q220)"/>
<circle cx="177.7" cy="29.3" r="2.10" fill="url(#q208)"/>
<circle cx="211.2" cy="56.5" r="2.12" fill="url(#q244)"/>
<circle cx="166.5" cy="65.2" r="2.04" fill="url(#q148)"/>
<circle cx="189.4" cy="26.0" r="2.15" fill="url(#q148)"/>
<circle cx="184.9" cy="-1.8" r="2.23" fill="url(#q184)"/>
<circle cx="181.0" cy="12.1" r="2.33" fill="url(#q136)"/>
<circle cx="156.7" cy="89.2" r="2.47" fill="url(#q136)"/>
<circle cx="196.3" cy="52.8" r="2.15" fill="url(#q220)"/>
<circle cx="172.2" cy="69.1" r="2.37" fill="url(#q196)"/>
<circle cx="158.5" cy="98.9" r="2.08" fill="url(#q148)"/>
<circle cx="146.6" cy="65.0" r="2.08" fill="url(#q172)"/>
<circle cx="193.4" cy="8.3" r="2.19" fill="url(#q160)"/>
<circle cx="237.2" cy="54.9" r="2.29" fill="url(#q172)"/>
<circle cx="135.1" cy="77.3" r="2.25" fill="url(#q124)"/>
<circle cx="186.5" cy="8.8" r="2.09" fill="url(#q172)"/>
<circle cx="169.7" cy="1.0" r="2.50" fill="url(#q124)"/>
<circle cx="181.3" cy="18.2" r="2.38" fill="url(#q124)"/>
<circle cx="154.6" cy="51.9" r="2.53" fill="url(#q148)"/>
<circle cx="201.3" cy="10.1" r="2.32" fill="url(#q112)"/>
<circle cx="221.5" cy="27.5" r="2.37" fill="url(#q88)"/>
<circle cx="215.3" cy="64.2" r="2.57" fill="url(#q184)"/>
<circle cx="238.8" cy="50.0" r="2.57" fill="url(#q148)"/>
<circle cx="138.4" cy="1.4" r="2.07" fill="url(#q148)"/>
<circle cx="151.5" cy="89.2" r="2.30" fill="url(#q148)"/>
<circle cx="178.6" cy="37.5" r="2.17" fill="url(#q196)"/>
<circle cx="199.7" cy="96.2" r="2.20" fill="url(#q160)"/>
<circle cx="187.9" cy="75.2" r="2.13" fill="url(#q160)"/>
<circle cx="202.1" cy="51.6" r="2.42" fill="url(#q232)"/>
<circle cx="170.6" cy="36.9" r="2.23" fill="url(#q220)"/>
<circle cx="133.3" cy="11.7" r="2.31" fill="url(#q136)"/>
<circle cx="125.5" cy="12.8" r="2.46" fill="url(#q148)"/>
<circle cx="170.4" cy="64.6" r="2.07" fill="url(#q160)"/>
<circle cx="170.8" cy="10.1" r="2.27" fill="url(#q172)"/>
<circle cx="238.2" cy="57.1" r="2.16" fill="url(#q184)"/>
<circle cx="225.1" cy="87.6" r="2.10" fill="url(#q172)"/>
<circle cx="191.0" cy="23.0" r="2.08" fill="url(#q124)"/>
<circle cx="151.5" cy="51.2" r="2.25" fill="url(#q172)"/>
<circle cx="150.9" cy="64.0" r="2.31" fill="url(#q148)"/>
<circle cx="204.0" cy="-0.9" r="2.38" fill="url(#q172)"/>
<circle cx="187.8" cy="59.8" r="2.44" fill="url(#q232)"/>
<circle cx="238.7" cy="92.8" r="2.09" fill="url(#q184)"/>
<circle cx="235.5" cy="18.9" r="2.16" fill="url(#q148)"/>
<circle cx="136.7" cy="33.5" r="2.49" fill="url(#q160)"/>
<circle cx="213.3" cy="77.5" r="2.52" fill="url(#q160)"/>
<circle cx="199.6" cy="58.8" r="2.28" fill="url(#q208)"/>
<circle cx="213.2" cy="84.1" r="2.24" fill="url(#q160)"/>
<circle cx="198.0" cy="3.0" r="2.25" fill="url(#q160)"/>
<circle cx="189.3" cy="5.4" r="2.33" fill="url(#q124)"/>
<circle cx="146.0" cy="3.1" r="2.49" fill="url(#q136)"/>
<circle cx="184.2" cy="6.9" r="2.08" fill="url(#q172)"/>
<circle cx="213.2" cy="7.9" r="2.07" fill="url(#q124)"/>
<circle cx="178.6" cy="64.2" r="2.47" fill="url(#q184)"/>
<circle cx="154.7" cy="42.7" r="2.22" fill="url(#q196)"/>
<circle cx="200.9" cy="39.9" r="2.10" fill="url(#q184)"/>
<circle cx="144.7" cy="95.2" r="2.13" fill="url(#q136)"/>
<circle cx="140.1" cy="74.7" r="2.21" fill="url(#q124)"/>
<circle cx="218.5" cy="70.3" r="2.12" fill="url(#q160)"/>
<circle cx="197.9" cy="98.6" r="2.54" fill="url(#q160)"/>
<circle cx="158.1" cy="29.0" r="2.50" fill="url(#q184)"/>
<circle cx="159.0" cy="61.0" r="2.27" fill="url(#q184)"/>
<circle cx="196.5" cy="20.1" r="2.21" fill="url(#q136)"/>
<circle cx="193.3" cy="68.4" r="2.51" fill="url(#q160)"/>
<circle cx="151.8" cy="32.4" r="2.12" fill="url(#q196)"/>
<circle cx="144.8" cy="11.2" r="2.54" fill="url(#q172)"/>
<circle cx="136.0" cy="40.0" r="2.52" fill="url(#q184)"/>
<circle cx="205.0" cy="58.8" r="2.37" fill="url(#q244)"/>
<circle cx="200.5" cy="68.9" r="2.24" fill="url(#q148)"/>
<circle cx="221.8" cy="29.1" r="2.41" fill="url(#q124)"/>
<circle cx="200.9" cy="5.4" r="2.54" fill="url(#q124)"/>
<circle cx="171.5" cy="47.2" r="2.08" fill="url(#q196)"/>
<circle cx="135.1" cy="11.3" r="2.05" fill="url(#q160)"/>
<circle cx="209.0" cy="50.2" r="2.48" fill="url(#q232)"/>
<circle cx="210.2" cy="9.4" r="2.50" fill="url(#q112)"/>
<circle cx="231.1" cy="96.1" r="2.16" fill="url(#q148)"/>
<circle cx="186.3" cy="71.3" r="2.19" fill="url(#q160)"/>
<circle cx="136.8" cy="6.8" r="2.31" fill="url(#q160)"/>
<circle cx="129.0" cy="70.1" r="2.18" fill="url(#q124)"/>
<circle cx="203.1" cy="43.2" r="2.30" fill="url(#q208)"/>
<circle cx="186.1" cy="84.2" r="2.31" fill="url(#q184)"/>
<circle cx="160.2" cy="18.1" r="2.08" fill="url(#q184)"/>
<circle cx="124.6" cy="41.2" r="2.07" fill="url(#q148)"/>
<circle cx="233.2" cy="40.5" r="2.32" fill="url(#q112)"/>
<circle cx="223.2" cy="51.4" r="2.34" fill="url(#q160)"/>
<circle cx="173.5" cy="79.0" r="2.10" fill="url(#q220)"/>
<circle cx="229.4" cy="1.6" r="2.17" fill="url(#q184)"/>
<circle cx="164.4" cy="-0.5" r="2.23" fill="url(#q148)"/>
<circle cx="166.1" cy="15.1" r="2.27" fill="url(#q136)"/>
<circle cx="158.6" cy="36.3" r="2.39" fill="url(#q148)"/>
<circle cx="143.0" cy="42.8" r="2.49" fill="url(#q136)"/>
<circle cx="184.2" cy="19.5" r="2.53" fill="url(#q148)"/>
<circle cx="166.5" cy="22.4" r="2.31" fill="url(#q148)"/>
<circle cx="126.3" cy="21.6" r="2.09" fill="url(#q184)"/>
<circle cx="198.1" cy="78.6" r="2.23" fill="url(#q136)"/>
<circle cx="237.4" cy="46.1" r="2.31" fill="url(#q148)"/>
<circle cx="139.1" cy="42.3" r="2.53" fill="url(#q172)"/>
<circle cx="142.6" cy="51.0" r="2.44" fill="url(#q160)"/>
<circle cx="140.6" cy="52.9" r="2.35" fill="url(#q160)"/>
<circle cx="140.2" cy="60.8" r="2.10" fill="url(#q184)"/>
<circle cx="150.3" cy="85.4" r="2.48" fill="url(#q136)"/>
<circle cx="169.6" cy="78.0" r="2.17" fill="url(#q184)"/>
<circle cx="195.3" cy="92.9" r="2.14" fill="url(#q160)"/>
<circle cx="237.2" cy="45.0" r="2.41" fill="url(#q148)"/>
<circle cx="144.4" cy="88.0" r="2.06" fill="url(#q160)"/>
<circle cx="146.0" cy="93.3" r="2.08" fill="url(#q148)"/>
<circle cx="157.4" cy="33.2" r="2.14" fill="url(#q160)"/>
<circle cx="187.1" cy="52.6" r="2.50" fill="url(#q244)"/>
<circle cx="207.0" cy="20.1" r="2.11" fill="url(#q160)"/>
<circle cx="184.1" cy="68.4" r="2.10" fill="url(#q208)"/>
<circle cx="189.4" cy="11.5" r="2.17" fill="url(#q136)"/>
<circle cx="188.9" cy="40.2" r="2.57" fill="url(#q196)"/>
<circle cx="152.2" cy="53.3" r="2.41" fill="url(#q172)"/>
<circle cx="131.8" cy="26.3" r="2.23" fill="url(#q160)"/>
<circle cx="209.7" cy="17.3" r="2.49" fill="url(#q136)"/>
<circle cx="239.5" cy="63.0" r="2.44" fill="url(#q136)"/>
<circle cx="237.7" cy="37.9" r="2.41" fill="url(#q136)"/>
<circle cx="183.8" cy="11.9" r="2.16" fill="url(#q160)"/>
<circle cx="223.7" cy="25.5" r="2.14" fill="url(#q112)"/>
<circle cx="151.2" cy="8.6" r="2.39" fill="url(#q124)"/>
<circle cx="237.7" cy="22.6" r="2.56" fill="url(#q148)"/>
<circle cx="134.9" cy="81.1" r="2.18" fill="url(#q112)"/>
<circle cx="147.0" cy="71.8" r="2.51" fill="url(#q148)"/>
<circle cx="151.5" cy="72.4" r="2.17" fill="url(#q184)"/>
<circle cx="211.4" cy="27.5" r="2.42" fill="url(#q136)"/>
<circle cx="231.1" cy="50.4" r="2.22" fill="url(#q160)"/>
<circle cx="199.4" cy="53.8" r="2.49" fill="url(#q208)"/>
<circle cx="193.3" cy="81.0" r="2.38" fill="url(#q136)"/>
<circle cx="141.1" cy="37.3" r="2.45" fill="url(#q172)"/>
<circle cx="185.5" cy="81.2" r="2.25" fill="url(#q172)"/>
<circle cx="214.1" cy="17.0" r="2.24" fill="url(#q112)"/>
<circle cx="235.8" cy="95.1" r="2.57" fill="url(#q172)"/>
<circle cx="163.9" cy="82.6" r="2.55" fill="url(#q196)"/>
<circle cx="130.7" cy="2.4" r="2.20" fill="url(#q148)"/>
<circle cx="143.9" cy="33.6" r="2.29" fill="url(#q136)"/>
<circle cx="224.0" cy="20.6" r="2.24" fill="url(#q112)"/>
<circle cx="233.1" cy="71.2" r="2.32" fill="url(#q184)"/>
<circle cx="144.1" cy="41.1" r="2.14" fill="url(#q136)"/>
<circle cx="177.0" cy="55.3" r="2.06" fill="url(#q244)"/>
<circle cx="170.4" cy="84.0" r="2.03" fill="url(#q232)"/>
<circle cx="208.4" cy="74.9" r="2.37" fill="url(#q148)"/>
<circle cx="156.6" cy="19.1" r="2.32" fill="url(#q172)"/>
<circle cx="181.5" cy="6.7" r="2.30" fill="url(#q124)"/>
<circle cx="161.0" cy="15.1" r="2.05" fill="url(#q124)"/>
<circle cx="165.8" cy="29.4" r="2.36" fill="url(#q160)"/>
<circle cx="210.2" cy="21.9" r="2.51" fill="url(#q136)"/>
<circle cx="225.4" cy="29.5" r="2.51" fill="url(#q148)"/>
<circle cx="231.5" cy="11.1" r="2.35" fill="url(#q148)"/>
<circle cx="150.6" cy="0.8" r="2.18" fill="url(#q172)"/>
<circle cx="144.6" cy="54.4" r="2.13" fill="url(#q184)"/>
<circle cx="162.5" cy="98.5" r="2.47" fill="url(#q160)"/>
<circle cx="144.4" cy="-1.0" r="2.56" fill="url(#q160)"/>
<circle cx="215.4" cy="69.1" r="2.05" fill="url(#q160)"/>
<circle cx="227.4" cy="100.2" r="2.44" fill="url(#q136)"/>
<circle cx="147.6" cy="15.5" r="2.49" fill="url(#q172)"/>
<circle cx="123.0" cy="55.2" r="2.32" fill="url(#q172)"/>
<circle cx="136.1" cy="53.2" r="2.41" fill="url(#q196)"/>
<circle cx="142.3" cy="9.2" r="2.05" fill="url(#q184)"/>
<circle cx="127.6" cy="61.0" r="2.58" fill="url(#q160)"/>
<circle cx="232.3" cy="75.1" r="2.15" fill="url(#q136)"/>
<circle cx="165.0" cy="78.7" r="2.24" fill="url(#q220)"/>
<circle cx="125.7" cy="38.1" r="2.33" fill="url(#q148)"/>
<circle cx="128.2" cy="74.6" r="2.21" fill="url(#q148)"/>
<circle cx="193.2" cy="73.8" r="2.32" fill="url(#q196)"/>
<circle cx="235.0" cy="75.0" r="2.17" fill="url(#q172)"/>
<circle cx="204.9" cy="63.4" r="2.47" fill="url(#q172)"/>
<circle cx="126.2" cy="50.2" r="2.31" fill="url(#q148)"/>
<circle cx="210.7" cy="1.9" r="2.49" fill="url(#q124)"/>
<circle cx="230.6" cy="57.4" r="2.33" fill="url(#q148)"/>
<circle cx="177.9" cy="56.3" r="2.34" fill="url(#q220)"/>
<circle cx="228.5" cy="20.0" r="2.03" fill="url(#q100)"/>
<circle cx="215.3" cy="96.6" r="2.23" fill="url(#q148)"/>
<circle cx="199.5" cy="80.9" r="2.40" fill="url(#q88)"/>
<circle cx="233.4" cy="88.6" r="2.31" fill="url(#q160)"/>
<circle cx="165.0" cy="59.7" r="2.30" fill="url(#q172)"/>
<circle cx="190.8" cy="2.8" r="2.14" fill="url(#q148)"/>
<circle cx="221.3" cy="35.9" r="2.41" fill="url(#q136)"/>
<circle cx="171.4" cy="50.6" r="2.03" fill="url(#q220)"/>
<circle cx="204.8" cy="8.6" r="2.04" fill="url(#q160)"/>
<circle cx="209.0" cy="72.1" r="2.07" fill="url(#q160)"/>
<circle cx="131.7" cy="59.7" r="2.55" fill="url(#q136)"/>
<circle cx="197.6" cy="51.0" r="2.44" fill="url(#q244)"/>
<circle cx="146.1" cy="78.8" r="2.14" fill="url(#q160)"/>
<circle cx="227.3" cy="77.1" r="2.30" fill="url(#q184)"/>
<circle cx="190.8" cy="57.4" r="2.18" fill="url(#q244)"/>
<circle cx="165.2" cy="54.4" r="2.46" fill="url(#q220)"/>
<circle cx="192.7" cy="61.7" r="2.41" fill="url(#q208)"/>
<circle cx="171.6" cy="82.6" r="2.54" fill="url(#q244)"/>
<circle cx="195.3" cy="-1.3" r="2.16" fill="url(#q172)"/>
<circle cx="125.5" cy="-0.3" r="2.35" fill="url(#q136)"/>
<circle cx="152.7" cy="81.5" r="2.55" fill="url(#q196)"/>
<circle cx="210.6" cy="37.2" r="2.39" fill="url(#q208)"/>
<circle cx="204.1" cy="6.3" r="2.08" fill="url(#q136)"/>
<circle cx="133.4" cy="66.6" r="2.44" fill="url(#q136)"/>
<circle cx="222.8" cy="97.9" r="2.38" fill="url(#q172)"/>
<circle cx="192.1" cy="89.7" r="2.23" fill="url(#q148)"/>
<circle cx="207.9" cy="68.5" r="2.23" fill="url(#q208)"/>
<circle cx="133.4" cy="89.3" r="2.39" fill="url(#q172)"/>
<circle cx="221.6" cy="95.1" r="2.40" fill="url(#q172)"/>
<circle cx="184.6" cy="34.0" r="2.06" fill="url(#q208)"/>
<circle cx="157.6" cy="78.8" r="2.53" fill="url(#q148)"/>
<circle cx="213.9" cy="72.4" r="2.19" fill="url(#q172)"/>
<circle cx="173.7" cy="2.4" r="2.50" fill="url(#q160)"/>
<circle cx="125.1" cy="74.0" r="2.29" fill="url(#q124)"/>
<circle cx="229.7" cy="71.1" r="2.07" fill="url(#q184)"/>
<circle cx="196.7" cy="95.0" r="2.47" fill="url(#q160)"/>
<circle cx="131.4" cy="79.4" r="2.21" fill="url(#q112)"/>
<circle cx="229.3" cy="30.8" r="2.05" fill="url(#q148)"/>
<circle cx="170.2" cy="16.7" r="2.03" fill="url(#q124)"/>
<circle cx="224.3" cy="-2.1" r="2.28" fill="url(#q148)"/>
<circle cx="130.8" cy="32.5" r="2.06" fill="url(#q148)"/>
<circle cx="226.4" cy="36.2" r="2.46" fill="url(#q112)"/>
<circle cx="165.2" cy="27.4" r="2.50" fill="url(#q208)"/>
<circle cx="127.2" cy="-2.3" r="2.15" fill="url(#q160)"/>
<circle cx="166.9" cy="18.6" r="2.21" fill="url(#q136)"/>
<circle cx="175.0" cy="26.5" r="2.13" fill="url(#q148)"/>
<circle cx="165.1" cy="12.3" r="2.07" fill="url(#q160)"/>
<circle cx="156.3" cy="11.7" r="2.22" fill="url(#q136)"/>
<circle cx="186.5" cy="15.7" r="2.32" fill="url(#q172)"/>
<circle cx="134.3" cy="72.7" r="2.31" fill="url(#q124)"/>
<circle cx="213.3" cy="95.2" r="2.55" fill="url(#q136)"/>
<circle cx="192.9" cy="15.8" r="2.03" fill="url(#q136)"/>
<circle cx="214.8" cy="50.5" r="2.23" fill="url(#q244)"/>
<circle cx="174.4" cy="43.8" r="2.34" fill="url(#q232)"/>
<circle cx="123.1" cy="32.9" r="2.14" fill="url(#q184)"/>
<circle cx="197.5" cy="42.4" r="2.35" fill="url(#q196)"/>
<circle cx="148.8" cy="37.2" r="2.05" fill="url(#q160)"/>
<circle cx="222.2" cy="2.2" r="2.06" fill="url(#q124)"/>
<circle cx="151.2" cy="96.7" r="2.45" fill="url(#q160)"/>
<circle cx="177.7" cy="51.2" r="2.50" fill="url(#q220)"/>
<circle cx="168.1" cy="26.4" r="2.23" fill="url(#q160)"/>
<circle cx="203.3" cy="46.7" r="2.09" fill="url(#q220)"/>
<circle cx="233.5" cy="55.2" r="2.08" fill="url(#q124)"/>
<circle cx="195.6" cy="40.5" r="2.49" fill="url(#q208)"/>
<circle cx="161.0" cy="72.6" r="2.47" fill="url(#q196)"/>
<circle cx="124.9" cy="71.4" r="2.41" fill="url(#q124)"/>
<circle cx="137.4" cy="89.7" r="2.35" fill="url(#q148)"/>
<circle cx="223.2" cy="75.3" r="2.56" fill="url(#q160)"/>
<circle cx="207.6" cy="46.2" r="2.15" fill="url(#q208)"/>
<circle cx="217.3" cy="51.1" r="2.16" fill="url(#q208)"/>
<circle cx="126.6" cy="84.8" r="2.48" fill="url(#q172)"/>
<circle cx="181.0" cy="68.2" r="2.43" fill="url(#q172)"/>
<circle cx="177.1" cy="43.5" r="2.56" fill="url(#q208)"/>
<circle cx="127.3" cy="0.9" r="2.50" fill="url(#q184)"/>
<circle cx="208.6" cy="60.5" r="2.05" fill="url(#q244)"/>
<circle cx="195.1" cy="30.8" r="2.33" fill="url(#q136)"/>
<circle cx="195.1" cy="22.3" r="2.56" fill="url(#q148)"/>
<circle cx="220.9" cy="7.7" r="2.03" fill="url(#q148)"/>
<circle cx="165.7" cy="37.0" r="2.11" fill="url(#q220)"/>
<circle cx="157.4" cy="60.6" r="2.06" fill="url(#q160)"/>
<circle cx="149.5" cy="15.6" r="2.42" fill="url(#q148)"/>
<circle cx="217.0" cy="10.0" r="2.30" fill="url(#q148)"/>
<circle cx="216.8" cy="97.8" r="2.57" fill="url(#q160)"/>
<circle cx="226.7" cy="71.5" r="2.07" fill="url(#q172)"/>
<circle cx="137.5" cy="16.4" r="2.49" fill="url(#q172)"/>
<circle cx="235.5" cy="89.6" r="2.21" fill="url(#q184)"/>
<circle cx="195.5" cy="77.9" r="2.49" fill="url(#q136)"/>
<circle cx="213.0" cy="68.2" r="2.48" fill="url(#q196)"/>
<circle cx="157.1" cy="85.5" r="2.05" fill="url(#q196)"/>
<circle cx="181.6" cy="27.1" r="2.26" fill="url(#q184)"/>
<circle cx="153.5" cy="21.5" r="2.44" fill="url(#q136)"/>
<circle cx="171.5" cy="55.3" r="2.33" fill="url(#q196)"/>
<circle cx="198.3" cy="21.9" r="2.06" fill="url(#q160)"/>
<circle cx="127.5" cy="88.8" r="2.32" fill="url(#q172)"/>
<circle cx="237.6" cy="78.6" r="2.27" fill="url(#q160)"/>
<circle cx="186.7" cy="37.1" r="2.26" fill="url(#q208)"/>
<circle cx="182.4" cy="9.7" r="2.17" fill="url(#q172)"/>
<circle cx="147.9" cy="33.7" r="2.02" fill="url(#q172)"/>
<circle cx="155.8" cy="26.7" r="2.57" fill="url(#q208)"/>
<circle cx="153.8" cy="30.4" r="2.31" fill="url(#q196)"/>
<circle cx="236.1" cy="-0.9" r="2.33" fill="url(#q148)"/>
<circle cx="181.6" cy="97.8" r="2.04" fill="url(#q148)"/>
<circle cx="220.6" cy="6.7" r="2.19" fill="url(#q124)"/>
<circle cx="214.4" cy="30.1" r="2.31" fill="url(#q124)"/>
<circle cx="135.9" cy="60.1" r="2.37" fill="url(#q148)"/>
<circle cx="158.6" cy="71.7" r="2.11" fill="url(#q184)"/>
<circle cx="237.0" cy="39.1" r="2.06" fill="url(#q124)"/>
<circle cx="131.1" cy="46.5" r="2.29" fill="url(#q148)"/>
<circle cx="201.5" cy="16.4" r="2.16" fill="url(#q148)"/>
<circle cx="180.7" cy="-0.1" r="2.55" fill="url(#q172)"/>
<circle cx="127.3" cy="54.5" r="2.22" fill="url(#q160)"/>
<circle cx="208.9" cy="38.8" r="2.11" fill="url(#q184)"/>
<circle cx="162.1" cy="78.3" r="2.10" fill="url(#q172)"/>
<circle cx="146.9" cy="99.3" r="2.32" fill="url(#q184)"/>
<circle cx="212.8" cy="18.4" r="2.24" fill="url(#q136)"/>
<circle cx="148.8" cy="67.8" r="2.39" fill="url(#q148)"/>
<circle cx="204.3" cy="32.3" r="2.15" fill="url(#q160)"/>
<circle cx="171.4" cy="60.9" r="2.14" fill="url(#q184)"/>
<circle cx="151.1" cy="57.0" r="2.11" fill="url(#q184)"/>
<circle cx="205.4" cy="80.6" r="2.27" fill="url(#q88)"/>
<circle cx="127.3" cy="32.9" r="2.46" fill="url(#q184)"/>
<circle cx="157.5" cy="58.0" r="2.26" fill="url(#q148)"/>
<circle cx="228.2" cy="62.2" r="2.42" fill="url(#q136)"/>
<circle cx="128.4" cy="19.0" r="2.19" fill="url(#q184)"/>
<circle cx="197.6" cy="6.3" r="2.11" fill="url(#q160)"/>
<circle cx="183.1" cy="40.2" r="2.46" fill="url(#q208)"/>
<circle cx="172.7" cy="12.0" r="2.03" fill="url(#q172)"/>
<circle cx="213.6" cy="13.1" r="2.53" fill="url(#q136)"/>
<circle cx="215.5" cy="90.0" r="2.52" fill="url(#q136)"/>
<circle cx="130.1" cy="56.8" r="2.30" fill="url(#q184)"/>
<circle cx="195.6" cy="88.5" r="2.03" fill="url(#q160)"/>
<circle cx="193.1" cy="11.6" r="2.26" fill="url(#q160)"/>
<circle cx="129.3" cy="11.2" r="2.24" fill="url(#q184)"/>
<circle cx="162.4" cy="64.4" r="2.06" fill="url(#q160)"/>
<circle cx="139.0" cy="21.8" r="2.13" fill="url(#q124)"/>
<circle cx="202.7" cy="1.9" r="2.48" fill="url(#q124)"/>
<circle cx="201.6" cy="26.0" r="2.33" fill="url(#q172)"/>
<circle cx="174.6" cy="8.1" r="2.51" fill="url(#q124)"/>
<circle cx="237.5" cy="30.3" r="2.25" fill="url(#q124)"/>
<circle cx="227.2" cy="7.6" r="2.20" fill="url(#q136)"/>
<circle cx="126.9" cy="57.0" r="2.40" fill="url(#q136)"/>
<circle cx="124.0" cy="27.4" r="2.45" fill="url(#q160)"/>
<circle cx="163.4" cy="47.5" r="2.30" fill="url(#q208)"/>
<circle cx="158.1" cy="21.5" r="2.34" fill="url(#q196)"/>
<circle cx="141.6" cy="77.4" r="2.16" fill="url(#q160)"/>
<circle cx="158.8" cy="32.5" r="2.07" fill="url(#q196)"/>
<circle cx="179.3" cy="75.4" r="2.57" fill="url(#q172)"/>
<circle cx="211.8" cy="33.0" r="2.35" fill="url(#q184)"/>
<circle cx="221.5" cy="68.7" r="2.55" fill="url(#q160)"/>
<circle cx="183.2" cy="77.9" r="2.02" fill="url(#q220)"/>
<circle cx="173.1" cy="-2.1" r="2.53" fill="url(#q160)"/>
<circle cx="218.6" cy="31.1" r="2.31" fill="url(#q112)"/>
<circle cx="172.2" cy="6.4" r="2.32" fill="url(#q160)"/>
<circle cx="187.3" cy="88.1" r="2.28" fill="url(#q208)"/>
<circle cx="221.1" cy="55.4" r="2.25" fill="url(#q232)"/>
<circle cx="231.2" cy="79.1" r="2.54" fill="url(#q160)"/>
<circle cx="227.0" cy="92.0" r="2.45" fill="url(#q184)"/>
<circle cx="212.9" cy="40.0" r="2.06" fill="url(#q232)"/>
<circle cx="195.0" cy="45.7" r="2.32" fill="url(#q244)"/>
<circle cx="166.8" cy="2.3" r="2.48" fill="url(#q172)"/>
<circle cx="219.8" cy="88.9" r="2.41" fill="url(#q148)"/>
<circle cx="226.6" cy="1.5" r="2.44" fill="url(#q160)"/>
<circle cx="187.6" cy="34.1" r="2.21" fill="url(#q208)"/>
<circle cx="126.7" cy="10.0" r="2.09" fill="url(#q148)"/>
<circle cx="202.0" cy="91.4" r="2.37" fill="url(#q160)"/>
<circle cx="195.9" cy="68.5" r="2.20" fill="url(#q172)"/>
<circle cx="124.9" cy="60.3" r="2.52" fill="url(#q172)"/>
<circle cx="164.7" cy="40.0" r="2.20" fill="url(#q196)"/>
<circle cx="167.2" cy="4.5" r="2.56" fill="url(#q160)"/>
<circle cx="187.1" cy="82.2" r="2.44" fill="url(#q184)"/>
<circle cx="230.6" cy="65.0" r="2.20" fill="url(#q160)"/>
<circle cx="233.7" cy="98.0" r="2.57" fill="url(#q160)"/>
<circle cx="142.8" cy="15.1" r="2.13" fill="url(#q160)"/>
<circle cx="207.6" cy="85.0" r="2.23" fill="url(#q100)"/>
<circle cx="237.7" cy="71.2" r="2.31" fill="url(#q148)"/>
<circle cx="203.1" cy="13.1" r="2.19" fill="url(#q124)"/>
<circle cx="212.1" cy="54.7" r="2.33" fill="url(#q244)"/>
<circle cx="129.4" cy="48.4" r="2.22" fill="url(#q160)"/>
<circle cx="134.9" cy="63.1" r="2.53" fill="url(#q172)"/>
<circle cx="125.1" cy="20.5" r="2.23" fill="url(#q184)"/>
<circle cx="173.0" cy="39.8" r="2.08" fill="url(#q208)"/>
<circle cx="203.8" cy="88.1" r="2.31" fill="url(#q148)"/>
<circle cx="214.1" cy="24.0" r="2.29" fill="url(#q136)"/>
<circle cx="158.6" cy="44.4" r="2.06" fill="url(#q196)"/>
<circle cx="134.6" cy="37.7" r="2.11" fill="url(#q148)"/>
<circle cx="136.6" cy="47.0" r="2.46" fill="url(#q160)"/>
<circle cx="221.6" cy="72.7" r="2.32" fill="url(#q160)"/>
<circle cx="147.4" cy="88.4" r="2.12" fill="url(#q124)"/>
<circle cx="162.8" cy="10.0" r="2.32" fill="url(#q172)"/>
<circle cx="154.6" cy="98.2" r="2.29" fill="url(#q148)"/>
<circle cx="220.5" cy="19.3" r="2.06" fill="url(#q112)"/>
<circle cx="203.2" cy="19.7" r="2.32" fill="url(#q172)"/>
<circle cx="173.7" cy="36.5" r="2.49" fill="url(#q172)"/>
<circle cx="237.4" cy="81.0" r="2.12" fill="url(#q148)"/>
<circle cx="213.1" cy="82.3" r="2.11" fill="url(#q124)"/>
<circle cx="168.8" cy="33.8" r="2.25" fill="url(#q220)"/>
<circle cx="195.8" cy="60.2" r="2.36" fill="url(#q244)"/>
<circle cx="124.0" cy="81.5" r="2.53" fill="url(#q136)"/>
<circle cx="221.0" cy="15.4" r="2.52" fill="url(#q124)"/>
<circle cx="163.4" cy="19.2" r="2.32" fill="url(#q160)"/>
<circle cx="235.6" cy="33.4" r="2.32" fill="url(#q136)"/>
<circle cx="233.6" cy="91.0" r="2.47" fill="url(#q172)"/>
<circle cx="175.5" cy="48.3" r="2.53" fill="url(#q220)"/>
<circle cx="140.4" cy="81.4" r="2.41" fill="url(#q148)"/>
<circle cx="159.2" cy="40.7" r="2.06" fill="url(#q148)"/>
<circle cx="171.3" cy="74.3" r="2.25" fill="url(#q208)"/>
<circle cx="211.5" cy="29.2" r="2.18" fill="url(#q136)"/>
<circle cx="197.7" cy="36.7" r="2.25" fill="url(#q148)"/>
<circle cx="153.2" cy="76.1" r="2.54" fill="url(#q160)"/>
<circle cx="236.2" cy="25.8" r="2.44" fill="url(#q136)"/>
<circle cx="187.5" cy="77.4" r="2.23" fill="url(#q184)"/>
<circle cx="217.6" cy="56.3" r="2.11" fill="url(#q208)"/>
<circle cx="206.6" cy="42.9" r="2.51" fill="url(#q244)"/>
<circle cx="132.2" cy="41.2" r="2.24" fill="url(#q136)"/>
<circle cx="181.3" cy="80.8" r="2.48" fill="url(#q220)"/>
<circle cx="213.0" cy="37.5" r="2.55" fill="url(#q160)"/>
<circle cx="148.6" cy="94.9" r="2.38" fill="url(#q172)"/>
<circle cx="176.4" cy="18.1" r="2.26" fill="url(#q148)"/>
<circle cx="142.0" cy="98.0" r="2.40" fill="url(#q160)"/>
<circle cx="174.6" cy="71.8" r="2.36" fill="url(#q196)"/>
<circle cx="158.7" cy="15.9" r="2.26" fill="url(#q148)"/>
<circle cx="217.1" cy="82.0" r="2.46" fill="url(#q160)"/>
<circle cx="155.1" cy="0.9" r="2.24" fill="url(#q172)"/>
<circle cx="183.7" cy="76.1" r="2.55" fill="url(#q208)"/>
<circle cx="154.0" cy="86.5" r="2.32" fill="url(#q148)"/>
<circle cx="177.5" cy="39.1" r="2.52" fill="url(#q172)"/>
<circle cx="134.7" cy="8.3" r="2.56" fill="url(#q184)"/>
<circle cx="232.4" cy="31.9" r="2.41" fill="url(#q160)"/>
<circle cx="215.8" cy="12.1" r="2.44" fill="url(#q148)"/>
<circle cx="225.4" cy="21.8" r="2.30" fill="url(#q88)"/>
<circle cx="203.2" cy="40.2" r="2.12" fill="url(#q172)"/>
<circle cx="197.3" cy="85.5" r="2.45" fill="url(#q160)"/>
<circle cx="238.2" cy="7.8" r="2.49" fill="url(#q172)"/>
<circle cx="138.8" cy="39.1" r="2.23" fill="url(#q148)"/>
<circle cx="149.5" cy="81.3" r="2.44" fill="url(#q184)"/>
<circle cx="221.0" cy="46.5" r="2.09" fill="url(#q208)"/>
<circle cx="128.9" cy="68.5" r="2.47" fill="url(#q124)"/>
<circle cx="230.3" cy="23.4" r="2.56" fill="url(#q148)"/>
<circle cx="128.9" cy="26.0" r="2.37" fill="url(#q160)"/>
<circle cx="182.2" cy="91.0" r="2.20" fill="url(#q172)"/>
<circle cx="185.5" cy="27.3" r="2.40" fill="url(#q136)"/>
<circle cx="203.5" cy="26.6" r="2.04" fill="url(#q136)"/>
<circle cx="190.7" cy="50.6" r="2.06" fill="url(#q244)"/>
<circle cx="218.5" cy="44.7" r="2.07" fill="url(#q196)"/>
<circle cx="157.6" cy="53.8" r="2.09" fill="url(#q148)"/>
<circle cx="160.7" cy="81.5" r="2.07" fill="url(#q148)"/>
<circle cx="208.3" cy="96.8" r="2.57" fill="url(#q160)"/>
<circle cx="233.0" cy="22.3" r="2.55" fill="url(#q112)"/>
<circle cx="164.7" cy="88.4" r="2.06" fill="url(#q184)"/>
<circle cx="223.8" cy="80.6" r="2.15" fill="url(#q124)"/>
<circle cx="193.1" cy="39.3" r="2.46" fill="url(#q172)"/>
<circle cx="139.6" cy="8.0" r="2.44" fill="url(#q172)"/>
<circle cx="161.3" cy="0.7" r="2.10" fill="url(#q160)"/>
<circle cx="209.0" cy="5.3" r="2.23" fill="url(#q160)"/>
<circle cx="141.6" cy="5.9" r="2.13" fill="url(#q184)"/>
<circle cx="188.2" cy="47.6" r="2.25" fill="url(#q232)"/>
<circle cx="151.8" cy="61.1" r="2.53" fill="url(#q184)"/>
<circle cx="213.0" cy="0.8" r="2.56" fill="url(#q136)"/>
<circle cx="160.1" cy="73.8" r="2.29" fill="url(#q136)"/>
<circle cx="237.9" cy="98.4" r="2.51" fill="url(#q172)"/>
<circle cx="184.9" cy="42.3" r="2.25" fill="url(#q244)"/>
<circle cx="203.0" cy="56.9" r="2.57" fill="url(#q244)"/>
<circle cx="220.0" cy="11.9" r="2.09" fill="url(#q124)"/>
<circle cx="231.8" cy="82.2" r="2.04" fill="url(#q136)"/>
<circle cx="196.9" cy="81.2" r="2.31" fill="url(#q148)"/>
<circle cx="215.2" cy="74.2" r="2.50" fill="url(#q136)"/>
<circle cx="141.3" cy="65.5" r="2.49" fill="url(#q160)"/>
<circle cx="127.3" cy="29.4" r="2.22" fill="url(#q160)"/>
<circle cx="220.0" cy="62.1" r="2.53" fill="url(#q220)"/>
<circle cx="135.3" cy="16.4" r="2.48" fill="url(#q148)"/>
<circle cx="125.0" cy="46.8" r="2.57" fill="url(#q196)"/>
<circle cx="147.2" cy="6.9" r="2.47" fill="url(#q124)"/>
<circle cx="202.5" cy="85.3" r="2.35" fill="url(#q136)"/>
<circle cx="172.8" cy="94.7" r="2.22" fill="url(#q196)"/>
<circle cx="203.0" cy="75.8" r="2.47" fill="url(#q124)"/>
<circle cx="131.8" cy="94.3" r="2.08" fill="url(#q124)"/>
<circle cx="127.2" cy="65.4" r="2.22" fill="url(#q184)"/>
<circle cx="231.4" cy="14.7" r="2.15" fill="url(#q136)"/>
<circle cx="149.3" cy="29.2" r="2.30" fill="url(#q196)"/>
<circle cx="162.1" cy="86.2" r="2.53" fill="url(#q184)"/>
<circle cx="199.6" cy="73.9" r="2.45" fill="url(#q124)"/>
<circle cx="151.5" cy="47.8" r="2.22" fill="url(#q148)"/>
<circle cx="203.5" cy="68.9" r="2.32" fill="url(#q148)"/>
<circle cx="159.3" cy="9.7" r="2.30" fill="url(#q136)"/>
<circle cx="211.6" cy="43.6" r="2.38" fill="url(#q232)"/>
<circle cx="233.5" cy="67.0" r="2.15" fill="url(#q160)"/>
<circle cx="213.3" cy="6.8" r="2.50" fill="url(#q112)"/>
<circle cx="137.3" cy="99.4" r="2.38" fill="url(#q184)"/>
<circle cx="180.0" cy="87.3" r="2.07" fill="url(#q220)"/>
<circle cx="166.9" cy="51.4" r="2.35" fill="url(#q232)"/>
<circle cx="138.5" cy="57.3" r="2.51" fill="url(#q172)"/>
<circle cx="220.6" cy="33.1" r="2.35" fill="url(#q124)"/>
<circle cx="148.3" cy="19.9" r="2.12" fill="url(#q172)"/>
<circle cx="169.0" cy="-1.3" r="2.08" fill="url(#q136)"/>
<circle cx="196.5" cy="11.6" r="2.25" fill="url(#q160)"/>
<circle cx="187.9" cy="94.7" r="2.21" fill="url(#q148)"/>
<circle cx="151.0" cy="23.1" r="2.46" fill="url(#q184)"/>
<circle cx="227.9" cy="95.1" r="2.51" fill="url(#q136)"/>
<circle cx="221.9" cy="91.7" r="2.06" fill="url(#q136)"/>
<circle cx="199.2" cy="47.3" r="2.57" fill="url(#q220)"/>
<circle cx="179.0" cy="40.0" r="2.06" fill="url(#q220)"/>
<circle cx="152.4" cy="6.4" r="2.10" fill="url(#q160)"/>
<circle cx="181.3" cy="59.8" r="2.18" fill="url(#q220)"/>
<circle cx="194.1" cy="50.3" r="2.54" fill="url(#q244)"/>
<circle cx="231.1" cy="43.8" r="2.31" fill="url(#q160)"/>
<circle cx="193.0" cy="99.1" r="2.30" fill="url(#q160)"/>
<circle cx="219.4" cy="22.2" r="2.29" fill="url(#q100)"/>
<circle cx="207.1" cy="36.2" r="2.43" fill="url(#q208)"/>
<circle cx="160.4" cy="12.6" r="2.13" fill="url(#q172)"/>
<circle cx="164.7" cy="5.8" r="2.14" fill="url(#q172)"/>
<circle cx="175.4" cy="33.2" r="2.17" fill="url(#q160)"/>
<circle cx="158.0" cy="51.5" r="2.19" fill="url(#q184)"/>
<circle cx="235.5" cy="63.2" r="2.22" fill="url(#q184)"/>
<circle cx="139.1" cy="13.3" r="2.04" fill="url(#q184)"/>
<circle cx="155.3" cy="91.5" r="2.34" fill="url(#q160)"/>
<circle cx="208.7" cy="54.0" r="2.20" fill="url(#q244)"/>
<circle cx="162.9" cy="95.9" r="2.12" fill="url(#q136)"/>
<circle cx="206.6" cy="100.2" r="2.10" fill="url(#q160)"/>
<circle cx="193.1" cy="20.4" r="2.43" fill="url(#q136)"/>
<circle cx="174.4" cy="98.5" r="2.26" fill="url(#q184)"/>
<circle cx="170.0" cy="56.8" r="2.16" fill="url(#q184)"/>
<circle cx="197.7" cy="71.4" r="2.53" fill="url(#q184)"/>
<circle cx="144.9" cy="23.5" r="2.24" fill="url(#q184)"/>
<circle cx="223.8" cy="94.3" r="2.23" fill="url(#q160)"/>
<circle cx="135.5" cy="1.6" r="2.26" fill="url(#q148)"/>
<circle cx="141.7" cy="84.9" r="2.53" fill="url(#q160)"/>
<circle cx="228.0" cy="47.5" r="2.52" fill="url(#q196)"/>
<circle cx="149.4" cy="39.3" r="2.36" fill="url(#q160)"/>
<circle cx="177.0" cy="6.5" r="2.36" fill="url(#q136)"/>
<circle cx="174.6" cy="15.5" r="2.40" fill="url(#q184)"/>
<circle cx="207.9" cy="-0.6" r="2.33" fill="url(#q148)"/>
<circle cx="123.1" cy="6.7" r="2.09" fill="url(#q184)"/>
<circle cx="162.8" cy="36.8" r="2.11" fill="url(#q172)"/>
<circle cx="183.6" cy="1.0" r="2.45" fill="url(#q148)"/>
<circle cx="222.6" cy="86.2" r="2.31" fill="url(#q136)"/>
<circle cx="147.4" cy="46.0" r="2.50" fill="url(#q172)"/>
<circle cx="147.1" cy="29.8" r="2.36" fill="url(#q172)"/>
<circle cx="179.3" cy="91.3" r="2.53" fill="url(#q184)"/>
<circle cx="235.5" cy="9.1" r="2.48" fill="url(#q160)"/>
<circle cx="198.1" cy="64.0" r="2.05" fill="url(#q196)"/>
<circle cx="185.5" cy="57.2" r="2.27" fill="url(#q244)"/>
<circle cx="213.3" cy="61.9" r="2.40" fill="url(#q220)"/>
<circle cx="170.8" cy="20.3" r="2.43" fill="url(#q136)"/>
<circle cx="130.2" cy="28.9" r="2.17" fill="url(#q136)"/>
<circle cx="235.5" cy="11.8" r="2.15" fill="url(#q124)"/>
<circle cx="154.9" cy="8.9" r="2.37" fill="url(#q172)"/>
<circle cx="187.3" cy="100.1" r="2.04" fill="url(#q148)"/>
<circle cx="227.1" cy="58.5" r="2.44" fill="url(#q136)"/>
<circle cx="156.4" cy="5.6" r="2.25" fill="url(#q184)"/>
<circle cx="169.5" cy="13.6" r="2.44" fill="url(#q148)"/>
<circle cx="167.7" cy="60.2" r="2.25" fill="url(#q172)"/>
<circle cx="180.8" cy="23.5" r="2.55" fill="url(#q160)"/>
<circle cx="206.3" cy="50.9" r="2.49" fill="url(#q244)"/>
<circle cx="179.3" cy="78.2" r="2.16" fill="url(#q184)"/>
<circle cx="229.3" cy="69.2" r="2.33" fill="url(#q184)"/>
<circle cx="152.9" cy="35.7" r="2.17" fill="url(#q184)"/>
<circle cx="227.1" cy="39.3" r="2.46" fill="url(#q136)"/>
<circle cx="210.3" cy="86.1" r="2.10" fill="url(#q124)"/>
<circle cx="154.6" cy="16.0" r="2.27" fill="url(#q160)"/>
<circle cx="226.8" cy="-1.7" r="2.10" fill="url(#q172)"/>
<circle cx="173.0" cy="65.6" r="2.05" fill="url(#q220)"/>
<circle cx="194.0" cy="43.8" r="2.09" fill="url(#q232)"/>
<circle cx="189.8" cy="93.3" r="2.03" fill="url(#q184)"/>
<circle cx="223.5" cy="33.1" r="2.44" fill="url(#q124)"/>
<circle cx="210.0" cy="98.3" r="2.17" fill="url(#q172)"/>
<circle cx="170.7" cy="98.1" r="2.19" fill="url(#q160)"/>
<circle cx="235.0" cy="36.8" r="2.09" fill="url(#q172)"/>
<circle cx="212.8" cy="46.4" r="2.14" fill="url(#q232)"/>
<circle cx="199.0" cy="33.0" r="2.09" fill="url(#q148)"/>
<circle cx="127.8" cy="40.0" r="2.25" fill="url(#q172)"/>
<circle cx="137.5" cy="50.1" r="2.18" fill="url(#q160)"/>
<circle cx="178.6" cy="2.7" r="2.20" fill="url(#q184)"/>
<circle cx="235.2" cy="86.6" r="2.28" fill="url(#q172)"/>
<circle cx="202.4" cy="65.0" r="2.35" fill="url(#q184)"/>
<circle cx="223.5" cy="56.5" r="2.48" fill="url(#q208)"/>
<circle cx="200.0" cy="-1.8" r="2.47" fill="url(#q172)"/>
<circle cx="146.1" cy="51.5" r="2.29" fill="url(#q160)"/>
<circle cx="192.5" cy="96.8" r="2.12" fill="url(#q148)"/>
<circle cx="128.9" cy="50.4" r="2.10" fill="url(#q172)"/>
<circle cx="176.9" cy="15.1" r="2.24" fill="url(#q172)"/>
<circle cx="209.8" cy="63.3" r="2.38" fill="url(#q196)"/>
<circle cx="215.3" cy="25.6" r="2.57" fill="url(#q112)"/>
<circle cx="147.8" cy="13.5" r="2.11" fill="url(#q172)"/>
<circle cx="174.4" cy="92.7" r="2.47" fill="url(#q184)"/>
<circle cx="151.2" cy="18.9" r="2.49" fill="url(#q184)"/>
<circle cx="142.6" cy="70.9" r="2.44" fill="url(#q112)"/>
<circle cx="130.3" cy="63.3" r="2.15" fill="url(#q172)"/>
<circle cx="128.2" cy="96.1" r="2.39" fill="url(#q148)"/>
<circle cx="207.6" cy="82.4" r="2.57" fill="url(#q76)"/>
<circle cx="139.5" cy="32.7" r="2.28" fill="url(#q184)"/>
<circle cx="143.0" cy="26.0" r="2.25" fill="url(#q184)"/>
<circle cx="174.9" cy="24.0" r="2.25" fill="url(#q184)"/>
<circle cx="190.0" cy="77.0" r="2.52" fill="url(#q184)"/>
<circle cx="206.3" cy="2.4" r="2.36" fill="url(#q148)"/>
<circle cx="126.9" cy="81.6" r="2.37" fill="url(#q148)"/>
<circle cx="175.5" cy="96.9" r="2.33" fill="url(#q172)"/>
<circle cx="145.3" cy="68.5" r="2.11" fill="url(#q172)"/>
<circle cx="223.2" cy="40.5" r="2.09" fill="url(#q184)"/>
<circle cx="216.5" cy="31.8" r="2.49" fill="url(#q124)"/>
<circle cx="220.0" cy="81.7" r="2.25" fill="url(#q160)"/>
<circle cx="235.6" cy="4.4" r="2.22" fill="url(#q148)"/>
<circle cx="134.5" cy="100.2" r="2.36" fill="url(#q172)"/>
<circle cx="201.6" cy="97.8" r="2.36" fill="url(#q160)"/>
<circle cx="226.9" cy="54.4" r="2.47" fill="url(#q160)"/>
<circle cx="151.0" cy="100.4" r="2.37" fill="url(#q172)"/>
<circle cx="137.3" cy="91.8" r="2.46" fill="url(#q172)"/>
<circle cx="197.4" cy="16.0" r="2.05" fill="url(#q136)"/>
<circle cx="166.0" cy="99.9" r="2.14" fill="url(#q136)"/>
<circle cx="160.7" cy="94.6" r="2.47" fill="url(#q136)"/>
<circle cx="217.5" cy="86.5" r="2.23" fill="url(#q124)"/>
<circle cx="208.9" cy="77.8" r="2.16" fill="url(#q148)"/>
<circle cx="184.3" cy="88.0" r="2.39" fill="url(#q184)"/>
<circle cx="231.8" cy="47.2" r="2.20" fill="url(#q172)"/>
<circle cx="184.9" cy="95.5" r="2.54" fill="url(#q184)"/>
<circle cx="209.4" cy="32.5" r="2.13" fill="url(#q148)"/>
<circle cx="144.2" cy="19.7" r="2.18" fill="url(#q148)"/>
<circle cx="225.5" cy="5.9" r="2.37" fill="url(#q148)"/>
<circle cx="183.2" cy="62.2" r="2.47" fill="url(#q208)"/>
<circle cx="192.5" cy="52.8" r="2.11" fill="url(#q244)"/>
<circle cx="129.0" cy="97.7" r="2.40" fill="url(#q160)"/>
<circle cx="238.4" cy="3.2" r="2.40" fill="url(#q124)"/>
<circle cx="211.5" cy="88.8" r="2.32" fill="url(#q148)"/>
<circle cx="146.2" cy="36.0" r="2.14" fill="url(#q172)"/>
<circle cx="187.5" cy="64.2" r="2.37" fill="url(#q196)"/>
<circle cx="215.7" cy="-1.2" r="2.16" fill="url(#q172)"/>
<circle cx="123.9" cy="87.3" r="2.56" fill="url(#q148)"/>
<circle cx="225.7" cy="85.4" r="2.39" fill="url(#q160)"/>
<circle cx="223.4" cy="61.1" r="2.04" fill="url(#q148)"/>
<circle cx="195.7" cy="25.8" r="2.03" fill="url(#q184)"/>
<circle cx="213.0" cy="98.9" r="2.05" fill="url(#q184)"/>
<circle cx="195.1" cy="75.5" r="2.07" fill="url(#q184)"/>
<circle cx="136.9" cy="77.3" r="2.30" fill="url(#q88)"/>
<circle cx="215.1" cy="6.2" r="2.37" fill="url(#q160)"/>
<circle cx="159.7" cy="47.0" r="2.13" fill="url(#q160)"/>
<circle cx="161.4" cy="54.7" r="2.44" fill="url(#q148)"/>
<circle cx="142.1" cy="90.8" r="2.46" fill="url(#q184)"/>
<circle cx="172.8" cy="50.6" r="2.08" fill="url(#q196)"/>
<circle cx="156.0" cy="40.5" r="2.09" fill="url(#q196)"/>
<circle cx="126.9" cy="16.9" r="2.22" fill="url(#q172)"/>
<circle cx="228.6" cy="82.6" r="2.06" fill="url(#q136)"/>
<circle cx="229.2" cy="73.9" r="2.35" fill="url(#q136)"/>
<circle cx="164.1" cy="33.8" r="2.51" fill="url(#q196)"/>
<circle cx="161.0" cy="44.1" r="2.07" fill="url(#q160)"/>
<circle cx="232.5" cy="18.4" r="2.29" fill="url(#q136)"/>
<circle cx="181.4" cy="54.6" r="2.42" fill="url(#q244)"/>
<circle cx="157.0" cy="3.2" r="2.12" fill="url(#q160)"/>
<circle cx="233.5" cy="30.2" r="2.23" fill="url(#q160)"/>
<circle cx="206.7" cy="70.6" r="2.27" fill="url(#q196)"/>
<circle cx="137.0" cy="29.8" r="2.57" fill="url(#q148)"/>
<circle cx="205.6" cy="15.8" r="2.15" fill="url(#q112)"/>
<circle cx="143.8" cy="75.7" r="2.52" fill="url(#q148)"/>
<circle cx="135.4" cy="68.9" r="2.38" fill="url(#q148)"/>
<circle cx="173.2" cy="34.1" r="2.32" fill="url(#q184)"/>
<circle cx="136.2" cy="73.8" r="2.10" fill="url(#q148)"/>
<circle cx="186.3" cy="23.4" r="2.03" fill="url(#q136)"/>
<circle cx="156.2" cy="75.6" r="2.36" fill="url(#q184)"/>
<circle cx="233.0" cy="61.8" r="2.16" fill="url(#q172)"/>
<circle cx="166.9" cy="84.9" r="2.27" fill="url(#q208)"/>
</g></g>
<g clip-path="url(#ca3)"><rect x="236.6" y="2.6" width="101.1" height="95.3" fill="#8e8e8e"/>
<rect x="236.6" y="2.6" width="101.1" height="95.3" filter="url(#nz1)" opacity="1"/>
<g filter="url(#bl3)">
<ellipse cx="312" cy="36" rx="16" ry="10" fill="#b4b4b4" opacity="0.55"/>
<ellipse cx="256" cy="34" rx="5" ry="4" fill="#3c3c3c" opacity="0.6"/>
<ellipse cx="300" cy="60" rx="22" ry="6" fill="#5a5a5a" opacity="0.35"/>
<ellipse cx="262" cy="80" rx="14" ry="7" fill="#5a5a5a" opacity="0.3"/>
</g>
</g>
<g clip-path="url(#ce1)">
<rect x="374.8" y="1" width="101" height="97" fill="#8c8c8c"/>
<g filter="url(#bl3)">
<polygon points="374,2 430,2 424,40 418,62 374,82" fill="#999"/>
<polygon points="374,2 400,2 398,28 374,30" fill="#a4a4a4"/>
<polygon points="374,34 383,35 406,52 401,59 374,52" fill="#c8c8c8"/>
<polygon points="374,60 396,58 405,64 380,76 374,76" fill="#7a7a7a"/>
<polygon points="436,26 476,22 476,99 452,99 424,62" fill="#929292"/>
<polygon points="434,2 475,2 475,24 436,27" fill="#a6a6a6"/>
<ellipse cx="457" cy="48" rx="12" ry="14" fill="#bcbcbc"/>
<ellipse cx="464" cy="84" rx="11" ry="13" fill="#5a5a5a"/>
<polygon points="374,82 418,62 447,99 374,99" fill="#686868"/>
</g>
<g filter="url(#bl2)">
<polygon points="432,28 441,27 437,50 430,66 426,60" fill="#5a5a5a"/>
<polygon points="374,81 398,73 409,76 398,88 384,97 374,97" fill="#e4e4e4"/>
<polygon points="464,2 468,2 475,16 472,18" fill="#e6e6e6"/>
</g>
<rect x="374.8" y="1" width="101" height="97" filter="url(#grW)" opacity="0.6"/>
<rect x="374.8" y="1" width="101" height="97" filter="url(#grB)" opacity="0.6"/>
<g filter="url(#bl2)" fill="none" stroke-linecap="round" stroke-linejoin="round">
<polyline points="421,68 400,74 376,85" stroke="#3a3a3a" stroke-width="2.5"/>
<polyline points="421,64 400,70 376,80" stroke="#b4b4b4" stroke-width="4"/>
<polyline points="431,0 428,28 423,52 421.5,64" stroke="#efefef" stroke-width="10"/>
<polyline points="421.5,64 434,80 447,98" stroke="#f0f0f0" stroke-width="9"/>
<polygon points="442,93 476,88.5 476,98 442,98" fill="#ececec" stroke="none"/>
<polyline points="430,26 452,25.5 476,25" stroke="#cdcdcd" stroke-width="4.5"/>
</g>
</g>
<g clip-path="url(#ce2)">
<rect x="477.3" y="2" width="106.7" height="95" fill="#787878"/>
<g filter="url(#bl2)">
<polygon points="477,2 542,2 538,20 500,24 477,26" fill="#9a9a9a"/>
<polygon points="541,2 584,2 584,22 566,24 546,20" fill="#d8d8d8"/>
<polygon points="552,2 584,2 584,12 566,14" fill="#f4f4f4"/>
<polygon points="477,22 540,20 534,44 531,64 510,69 488,72 477,60" fill="#828282"/>
<polygon points="477,27 484,26 501,44 497,50 486,42 477,40" fill="#4c4c4c"/>
<polygon points="499,28 520,25 524,38 510,44 502,40" fill="#989898"/>
<polygon points="508,46 522,40 533,44 530,60 518,60" fill="#505050"/>
<polygon points="526,24 539,22 536,38 528,40" fill="#626262"/>
<polygon points="490,50 500,52 504,60 494,62" fill="#5a5a5a"/>
<polygon points="545,36 560,28 584,27 584,60 566,60 552,50" fill="#888"/>
<ellipse cx="570" cy="46" rx="8" ry="5" fill="#ababab"/>
<polygon points="544,34 562,26 584,24 584,30 562,31 547,38" fill="#474747"/>
<polygon points="537,42 546,40 560,55 584,60 584,68 556,64 540,58" fill="#3e3e3e"/>
<polygon points="544,64 584,70 584,97 560,97" fill="#747474"/>
<polygon points="488,72 532,66 556,97 484,97" fill="#727272"/>
<polygon points="477,62 488,72 484,97 477,97" fill="#808080"/>
<polygon points="572,80 584,74 584,92" fill="#9a9a9a"/>
</g>
<rect x="477.3" y="2" width="106.7" height="95" filter="url(#grW)" opacity="0.5"/>
<rect x="477.3" y="2" width="106.7" height="95" filter="url(#grB)" opacity="0.5"/>
<g filter="url(#bl)" fill="none" stroke-linecap="round" stroke-linejoin="round">
<polyline points="541,18 539,32 535,45 531,56 531,64" stroke="#dedede" stroke-width="2.6"/>
<polyline points="531,64 510,69.5 488,72 480,62" stroke="#b0b0b0" stroke-width="1.7"/>
<polyline points="531,64 541.5,70.5 555,90 558,98" stroke="#a8a8a8" stroke-width="1.7"/>
<polyline points="479.5,62 479,98" stroke="#a8a8a8" stroke-width="1.8"/>
</g>
</g>
<g clip-path="url(#ce3)">
<linearGradient id="ge3" x1="0" x2="1" y1="0" y2="0"><stop offset="0" stop-color="#808080"/><stop offset="0.13" stop-color="#909090"/><stop offset="0.155" stop-color="#c6c6c6"/><stop offset="0.2" stop-color="#767676"/><stop offset="0.3" stop-color="#6a6a6a"/><stop offset="0.36" stop-color="#727272"/><stop offset="0.45" stop-color="#8a8a8a"/><stop offset="0.5" stop-color="#707070"/><stop offset="0.525" stop-color="#2c2c2c"/><stop offset="0.55" stop-color="#727272"/><stop offset="0.62" stop-color="#868686"/><stop offset="0.7" stop-color="#7c7c7c"/><stop offset="0.8" stop-color="#747474"/><stop offset="0.9" stop-color="#8c8c8c"/><stop offset="1" stop-color="#727272"/></linearGradient>
<rect x="585" y="1" width="100" height="96" fill="url(#ge3)"/>
<rect x="585" y="1" width="100" height="96" filter="url(#nzv)" opacity="0.32"/>
<g filter="url(#bl2)">
<polygon points="585,18 599,18 599,36 595,46 585,44" fill="#2a2a2a"/>
<polygon points="585,56 592,56 599,46 600.5,97 585,97" fill="#b2b2b2"/>
<ellipse cx="590" cy="50" rx="6" ry="5.5" fill="#cfcfcf"/>
<ellipse cx="589" cy="50" rx="3" ry="2.5" fill="#555"/>
<polygon points="676,97 685,78 685,97" fill="#e4e4e4"/>
</g>
</g>
<g fill="none" stroke="#5fc9c0" stroke-width="1.3">
<rect x="520.6" y="33.2" width="25.6" height="24.2"/>
<line x1="546.2" y1="33.2" x2="585" y2="1.5"/>
<line x1="546.2" y1="57.4" x2="585" y2="97"/>
</g>
<rect x="32.5" y="6.8" width="86.0" height="15.4" fill="#dcdcdc" opacity="0.88"/>
<rect x="128.2" y="5.0" width="106.5" height="17.3" fill="#dcdcdc" opacity="0.88"/>
<rect x="236.6" y="3.0" width="101.1" height="20.2" fill="#dcdcdc" opacity="0.88"/>
<rect x="379.7" y="4.2" width="88.6" height="18.3" fill="#dcdcdc" opacity="0.88"/>
<rect x="481.5" y="2.0" width="102.5" height="18.8" fill="#dcdcdc" opacity="0.88"/>
<rect x="587.0" y="1.5" width="98.0" height="17.6" fill="#dcdcdc" opacity="0.88"/>
<text x="35.8" y="18.8" class="lab">No annealing</text>
<text x="130.0" y="19.6" class="lab">120 <tspan font-size="9.2" dy="-4.2">o</tspan><tspan dy="4.2">C annealed</tspan></text>
<text x="237.0" y="18.6" class="lab">240 <tspan font-size="9.2" dy="-4.2">o</tspan><tspan dy="4.2">C annealed</tspan></text>
<text x="386" y="18.9" class="lab">No annealing</text>
<text x="482.6" y="16.3" class="lab">600 <tspan font-size="9.2" dy="-4.2">o</tspan><tspan dy="4.2">C annealed</tspan></text>
<text x="589" y="15.1" class="lab">After FIB cutting</text>
<rect x="35.6" y="92.8" width="18.1" height="2.2" fill="#fff"/>
<rect x="131.7" y="92.6" width="19.9" height="2.2" fill="#fff"/>
<rect x="241.2" y="92.8" width="10.6" height="2.2" fill="#fff"/>
<rect x="382.0" y="91.8" width="27.9" height="2.4" fill="#fff"/>
<rect x="483.2" y="90.9" width="30.8" height="2.6" fill="#fff"/>
<rect x="587.8" y="91.8" width="22.5" height="2.4" fill="#fff"/>
<text x="9.2" y="7.3" class="b">a</text>
<text x="8.3" y="108.8" class="b">b</text>
<text x="357" y="7.3" class="b">e</text>
<text x="358.2" y="106.8" class="b">f</text>
<polyline fill="none" stroke="#a9d18e" stroke-width="1.9" stroke-linejoin="round" stroke-linecap="round" points="43.6,336.0 54.0,321.0 62.8,309.8 69.0,299.3 72.4,298.4 74.5,307.7 77.7,306.0 101.3,305.4 115.3,307.0 138.0,306.0 145.0,305.0 152.0,302.0 160.0,299.0 178.0,278.8 192.0,263.4 205.9,248.0 212.0,241.5 219.8,234.5 226.8,227.1 233.6,222.6 240.3,220.3 247.1,220.8 252.8,223.7 256.2,230.5 258.9,240.7 260.2,256.5 261.7,267.6 263.6,278.0 266.0,288.6"/>
<polyline fill="none" stroke="#1fb0e6" stroke-width="1.9" stroke-linejoin="round" stroke-linecap="round" points="43.6,336.0 55.8,308.4 61.0,307.2 68.0,299.3 72.4,296.6 77.7,292.6 80.0,294.4 80.8,306.0 83.8,307.2 85.2,305.4 101.3,305.0 117.0,306.3 139.9,304.2 145.1,298.9 152.0,290.5 161.2,273.2 178.0,241.0 191.9,207.6 198.0,195.0 201.0,184.9 211.7,165.7 214.4,160.0 219.1,152.0 222.9,146.6 226.0,140.2 229.3,136.0 232.4,134.4 234.6,136.0 236.5,139.7 237.2,152.0 237.8,160.0 238.2,179.6 238.5,200.0 238.9,240.0 241.5,276.3"/>
<polyline fill="none" stroke="#f0a3c4" stroke-width="1.9" stroke-linejoin="round" stroke-linecap="round" points="43.6,336.0 49.6,330.0 55.8,316.8 62.0,309.0 64.5,300.0 67.2,297.0 70.7,298.4 73.3,302.4 76.0,302.0 83.8,303.3 92.6,303.7 110.0,302.0 115.3,299.0 122.3,288.8 129.4,281.0 150.0,250.9 166.8,225.7 186.3,195.0 188.3,192.3 197.9,182.8 203.2,179.1 208.5,179.6 212.8,183.8 216.0,194.5 216.6,200.0 217.6,236.9 221.8,271.8"/>
<rect x="43.6" y="103.7" width="288.7" height="232.6" fill="none" stroke="#000" stroke-width="1.4"/>
<line x1="39.4" x2="43.6" y1="336.3" y2="336.3" stroke="#000" stroke-width="1.2"/>
<text x="35.4" y="340.5" class="t" text-anchor="end">0</text>
<line x1="39.4" x2="43.6" y1="300.6" y2="300.6" stroke="#000" stroke-width="1.2"/>
<text x="35.4" y="304.8" class="t" text-anchor="end">20</text>
<line x1="39.4" x2="43.6" y1="264.9" y2="264.9" stroke="#000" stroke-width="1.2"/>
<text x="35.4" y="269.1" class="t" text-anchor="end">40</text>
<line x1="39.4" x2="43.6" y1="229.2" y2="229.2" stroke="#000" stroke-width="1.2"/>
<text x="35.4" y="233.4" class="t" text-anchor="end">60</text>
<line x1="39.4" x2="43.6" y1="193.5" y2="193.5" stroke="#000" stroke-width="1.2"/>
<text x="35.4" y="197.7" class="t" text-anchor="end">80</text>
<line x1="39.4" x2="43.6" y1="157.8" y2="157.8" stroke="#000" stroke-width="1.2"/>
<text x="35.4" y="162.0" class="t" text-anchor="end">100</text>
<line x1="39.4" x2="43.6" y1="122.1" y2="122.1" stroke="#000" stroke-width="1.2"/>
<text x="35.4" y="126.3" class="t" text-anchor="end">120</text>
<line y1="336.3" y2="340.7" x1="43.6" x2="43.6" stroke="#000" stroke-width="1.2"/>
<text y="354.4" x="43.6" class="t" text-anchor="middle">0</text>
<line y1="336.3" y2="340.7" x1="123.7" x2="123.7" stroke="#000" stroke-width="1.2"/>
<text y="354.4" x="123.7" class="t" text-anchor="middle">50</text>
<line y1="336.3" y2="340.7" x1="203.8" x2="203.8" stroke="#000" stroke-width="1.2"/>
<text y="354.4" x="203.8" class="t" text-anchor="middle">100</text>
<line y1="336.3" y2="340.7" x1="283.9" x2="283.9" stroke="#000" stroke-width="1.2"/>
<text y="354.4" x="283.9" class="t" text-anchor="middle">150</text>
<text x="188" y="372.9" class="t" text-anchor="middle" textLength="110.4">Displacement (µm)</text>
<text transform="translate(10.3,0) rotate(-90)" class="t" style="font-size:13.63px" x="-291.4">Compressive force (mN)</text>
<line x1="53.1" x2="80.5" y1="120.2" y2="120.2" stroke="#a9d18e" stroke-width="1.9"/>
<line x1="53.1" x2="80.5" y1="142.9" y2="142.9" stroke="#1fb0e6" stroke-width="1.9"/>
<line x1="53.1" x2="80.5" y1="161.8" y2="161.8" stroke="#f0a3c4" stroke-width="1.9"/>
<text x="83.6" y="125" class="lg" style="fill:#a9d18e" textLength="151.5" lengthAdjust="spacingAndGlyphs">IPS/Au NPs microscaffold</text>
<text x="83.2" y="147.6" class="lg" style="fill:#1fb0e6">120 <tspan font-size="9.2" dy="-4.2">o</tspan><tspan dy="4.2">C annealed</tspan></text>
<text x="83.2" y="166.6" class="lg" style="fill:#f0a3c4">240 <tspan font-size="9.2" dy="-4.2">o</tspan><tspan dy="4.2">C annealed</tspan></text>
<g clip-path="url(#cc)">
<linearGradient id="gc" x1="0" x2="0" y1="0" y2="1"><stop offset="0" stop-color="#b0b0b0"/><stop offset="1" stop-color="#949494"/></linearGradient>
<rect x="73" y="182.6" width="68.6" height="64.4" fill="url(#gc)"/>
<rect x="80" y="208.6" width="52" height="35.4" fill="#cacaca" filter="url(#bl2)"/>
<rect x="86" y="184" width="40.4" height="29.5" fill="#d2d2d2"/>
<rect x="86.80" y="185.00" width="2.1" height="1.9" fill="#383838"/>
<rect x="86.80" y="187.90" width="2.1" height="1.9" fill="#383838"/>
<rect x="86.80" y="190.80" width="2.1" height="1.9" fill="#383838"/>
<rect x="86.80" y="193.70" width="2.1" height="1.9" fill="#383838"/>
<rect x="86.80" y="196.60" width="2.1" height="1.9" fill="#383838"/>
<rect x="86.80" y="199.50" width="2.1" height="1.9" fill="#383838"/>
<rect x="86.80" y="202.40" width="2.1" height="1.9" fill="#383838"/>
<rect x="86.80" y="205.30" width="2.1" height="1.9" fill="#383838"/>
<rect x="86.80" y="208.20" width="2.1" height="1.9" fill="#383838"/>
<rect x="86.80" y="211.10" width="2.1" height="1.9" fill="#383838"/>
<rect x="89.87" y="185.00" width="2.1" height="1.9" fill="#383838"/>
<rect x="89.87" y="187.90" width="2.1" height="1.9" fill="#383838"/>
<rect x="89.87" y="190.80" width="2.1" height="1.9" fill="#383838"/>
<rect x="89.87" y="193.70" width="2.1" height="1.9" fill="#383838"/>
<rect x="89.87" y="196.60" width="2.1" height="1.9" fill="#383838"/>
<rect x="89.87" y="199.50" width="2.1" height="1.9" fill="#383838"/>
<rect x="89.87" y="202.40" width="2.1" height="1.9" fill="#383838"/>
<rect x="89.87" y="205.30" width="2.1" height="1.9" fill="#383838"/>
<rect x="89.87" y="208.20" width="2.1" height="1.9" fill="#383838"/>
<rect x="89.87" y="211.10" width="2.1" height="1.9" fill="#383838"/>
<rect x="92.94" y="185.00" width="2.1" height="1.9" fill="#383838"/>
<rect x="92.94" y="187.90" width="2.1" height="1.9" fill="#383838"/>
<rect x="92.94" y="190.80" width="2.1" height="1.9" fill="#383838"/>
<rect x="92.94" y="193.70" width="2.1" height="1.9" fill="#383838"/>
<rect x="92.94" y="196.60" width="2.1" height="1.9" fill="#383838"/>
<rect x="92.94" y="199.50" width="2.1" height="1.9" fill="#383838"/>
<rect x="92.94" y="202.40" width="2.1" height="1.9" fill="#383838"/>
<rect x="92.94" y="205.30" width="2.1" height="1.9" fill="#383838"/>
<rect x="92.94" y="208.20" width="2.1" height="1.9" fill="#383838"/>
<rect x="92.94" y="211.10" width="2.1" height="1.9" fill="#383838"/>
<rect x="96.01" y="185.00" width="2.1" height="1.9" fill="#383838"/>
<rect x="96.01" y="187.90" width="2.1" height="1.9" fill="#383838"/>
<rect x="96.01" y="190.80" width="2.1" height="1.9" fill="#383838"/>
<rect x="96.01" y="193.70" width="2.1" height="1.9" fill="#383838"/>
<rect x="96.01" y="196.60" width="2.1" height="1.9" fill="#383838"/>
<rect x="96.01" y="199.50" width="2.1" height="1.9" fill="#383838"/>
<rect x="96.01" y="202.40" width="2.1" height="1.9" fill="#383838"/>
<rect x="96.01" y="205.30" width="2.1" height="1.9" fill="#383838"/>
<rect x="96.01" y="208.20" width="2.1" height="1.9" fill="#383838"/>
<rect x="96.01" y="211.10" width="2.1" height="1.9" fill="#383838"/>
<rect x="99.08" y="185.00" width="2.1" height="1.9" fill="#383838"/>
<rect x="99.08" y="187.90" width="2.1" height="1.9" fill="#383838"/>
<rect x="99.08" y="190.80" width="2.1" height="1.9" fill="#383838"/>
<rect x="99.08" y="193.70" width="2.1" height="1.9" fill="#383838"/>
<rect x="99.08" y="196.60" width="2.1" height="1.9" fill="#383838"/>
<rect x="99.08" y="199.50" width="2.1" height="1.9" fill="#383838"/>
<rect x="99.08" y="202.40" width="2.1" height="1.9" fill="#383838"/>
<rect x="99.08" y="205.30" width="2.1" height="1.9" fill="#383838"/>
<rect x="99.08" y="208.20" width="2.1" height="1.9" fill="#383838"/>
<rect x="99.08" y="211.10" width="2.1" height="1.9" fill="#383838"/>
<rect x="102.15" y="185.00" width="2.1" height="1.9" fill="#383838"/>
<rect x="102.15" y="187.90" width="2.1" height="1.9" fill="#383838"/>
<rect x="102.15" y="190.80" width="2.1" height="1.9" fill="#383838"/>
<rect x="102.15" y="193.70" width="2.1" height="1.9" fill="#383838"/>
<rect x="102.15" y="196.60" width="2.1" height="1.9" fill="#383838"/>
<rect x="102.15" y="199.50" width="2.1" height="1.9" fill="#383838"/>
<rect x="102.15" y="202.40" width="2.1" height="1.9" fill="#383838"/>
<rect x="102.15" y="205.30" width="2.1" height="1.9" fill="#383838"/>
<rect x="102.15" y="208.20" width="2.1" height="1.9" fill="#383838"/>
<rect x="102.15" y="211.10" width="2.1" height="1.9" fill="#383838"/>
<rect x="105.22" y="185.00" width="2.1" height="1.9" fill="#383838"/>
<rect x="105.22" y="187.90" width="2.1" height="1.9" fill="#383838"/>
<rect x="105.22" y="190.80" width="2.1" height="1.9" fill="#383838"/>
<rect x="105.22" y="193.70" width="2.1" height="1.9" fill="#383838"/>
<rect x="105.22" y="196.60" width="2.1" height="1.9" fill="#383838"/>
<rect x="105.22" y="199.50" width="2.1" height="1.9" fill="#383838"/>
<rect x="105.22" y="202.40" width="2.1" height="1.9" fill="#383838"/>
<rect x="105.22" y="205.30" width="2.1" height="1.9" fill="#383838"/>
<rect x="105.22" y="208.20" width="2.1" height="1.9" fill="#383838"/>
<rect x="105.22" y="211.10" width="2.1" height="1.9" fill="#383838"/>
<rect x="108.29" y="185.00" width="2.1" height="1.9" fill="#383838"/>
<rect x="108.29" y="187.90" width="2.1" height="1.9" fill="#383838"/>
<rect x="108.29" y="190.80" width="2.1" height="1.9" fill="#383838"/>
<rect x="108.29" y="193.70" width="2.1" height="1.9" fill="#383838"/>
<rect x="108.29" y="196.60" width="2.1" height="1.9" fill="#383838"/>
<rect x="108.29" y="199.50" width="2.1" height="1.9" fill="#383838"/>
<rect x="108.29" y="202.40" width="2.1" height="1.9" fill="#383838"/>
<rect x="108.29" y="205.30" width="2.1" height="1.9" fill="#383838"/>
<rect x="108.29" y="208.20" width="2.1" height="1.9" fill="#383838"/>
<rect x="108.29" y="211.10" width="2.1" height="1.9" fill="#383838"/>
<rect x="111.36" y="185.00" width="2.1" height="1.9" fill="#383838"/>
<rect x="111.36" y="187.90" width="2.1" height="1.9" fill="#383838"/>
<rect x="111.36" y="190.80" width="2.1" height="1.9" fill="#383838"/>
<rect x="111.36" y="193.70" width="2.1" height="1.9" fill="#383838"/>
<rect x="111.36" y="196.60" width="2.1" height="1.9" fill="#383838"/>
<rect x="111.36" y="199.50" width="2.1" height="1.9" fill="#383838"/>
<rect x="111.36" y="202.40" width="2.1" height="1.9" fill="#383838"/>
<rect x="111.36" y="205.30" width="2.1" height="1.9" fill="#383838"/>
<rect x="111.36" y="208.20" width="2.1" height="1.9" fill="#383838"/>
<rect x="111.36" y="211.10" width="2.1" height="1.9" fill="#383838"/>
<rect x="114.43" y="185.00" width="2.1" height="1.9" fill="#383838"/>
<rect x="114.43" y="187.90" width="2.1" height="1.9" fill="#383838"/>
<rect x="114.43" y="190.80" width="2.1" height="1.9" fill="#383838"/>
<rect x="114.43" y="193.70" width="2.1" height="1.9" fill="#383838"/>
<rect x="114.43" y="196.60" width="2.1" height="1.9" fill="#383838"/>
<rect x="114.43" y="199.50" width="2.1" height="1.9" fill="#383838"/>
<rect x="114.43" y="202.40" width="2.1" height="1.9" fill="#383838"/>
<rect x="114.43" y="205.30" width="2.1" height="1.9" fill="#383838"/>
<rect x="114.43" y="208.20" width="2.1" height="1.9" fill="#383838"/>
<rect x="114.43" y="211.10" width="2.1" height="1.9" fill="#383838"/>
<rect x="117.50" y="185.00" width="2.1" height="1.9" fill="#383838"/>
<rect x="117.50" y="187.90" width="2.1" height="1.9" fill="#383838"/>
<rect x="117.50" y="190.80" width="2.1" height="1.9" fill="#383838"/>
<rect x="117.50" y="193.70" width="2.1" height="1.9" fill="#383838"/>
<rect x="117.50" y="196.60" width="2.1" height="1.9" fill="#383838"/>
<rect x="117.50" y="199.50" width="2.1" height="1.9" fill="#383838"/>
<rect x="117.50" y="202.40" width="2.1" height="1.9" fill="#383838"/>
<rect x="117.50" y="205.30" width="2.1" height="1.9" fill="#383838"/>
<rect x="117.50" y="208.20" width="2.1" height="1.9" fill="#383838"/>
<rect x="117.50" y="211.10" width="2.1" height="1.9" fill="#383838"/>
<rect x="120.57" y="185.00" width="2.1" height="1.9" fill="#383838"/>
<rect x="120.57" y="187.90" width="2.1" height="1.9" fill="#383838"/>
<rect x="120.57" y="190.80" width="2.1" height="1.9" fill="#383838"/>
<rect x="120.57" y="193.70" width="2.1" height="1.9" fill="#383838"/>
<rect x="120.57" y="196.60" width="2.1" height="1.9" fill="#383838"/>
<rect x="120.57" y="199.50" width="2.1" height="1.9" fill="#383838"/>
<rect x="120.57" y="202.40" width="2.1" height="1.9" fill="#383838"/>
<rect x="120.57" y="205.30" width="2.1" height="1.9" fill="#383838"/>
<rect x="120.57" y="208.20" width="2.1" height="1.9" fill="#383838"/>
<rect x="120.57" y="211.10" width="2.1" height="1.9" fill="#383838"/>
<rect x="123.64" y="185.00" width="2.1" height="1.9" fill="#383838"/>
<rect x="123.64" y="187.90" width="2.1" height="1.9" fill="#383838"/>
<rect x="123.64" y="190.80" width="2.1" height="1.9" fill="#383838"/>
<rect x="123.64" y="193.70" width="2.1" height="1.9" fill="#383838"/>
<rect x="123.64" y="196.60" width="2.1" height="1.9" fill="#383838"/>
<rect x="123.64" y="199.50" width="2.1" height="1.9" fill="#383838"/>
<rect x="123.64" y="202.40" width="2.1" height="1.9" fill="#383838"/>
<rect x="123.64" y="205.30" width="2.1" height="1.9" fill="#383838"/>
<rect x="123.64" y="208.20" width="2.1" height="1.9" fill="#383838"/>
<rect x="123.64" y="211.10" width="2.1" height="1.9" fill="#383838"/>
<rect x="85" y="213.4" width="42.4" height="28.2" fill="#8c8c8c"/>
<rect x="86.00" y="215.00" width="1.6" height="1.2" fill="#525252"/>
<rect x="86.00" y="217.70" width="1.6" height="1.2" fill="#525252"/>
<rect x="86.00" y="220.40" width="1.6" height="1.2" fill="#525252"/>
<rect x="86.00" y="223.10" width="1.6" height="1.2" fill="#525252"/>
<rect x="86.00" y="225.80" width="1.6" height="1.2" fill="#525252"/>
<rect x="86.00" y="228.50" width="1.6" height="1.2" fill="#525252"/>
<rect x="86.00" y="231.20" width="1.6" height="1.2" fill="#525252"/>
<rect x="86.00" y="233.90" width="1.6" height="1.2" fill="#525252"/>
<rect x="86.00" y="236.60" width="1.6" height="1.2" fill="#525252"/>
<rect x="86.00" y="239.30" width="1.6" height="1.2" fill="#525252"/>
<rect x="88.95" y="215.00" width="1.6" height="1.2" fill="#525252"/>
<rect x="88.95" y="217.70" width="1.6" height="1.2" fill="#525252"/>
<rect x="88.95" y="220.40" width="1.6" height="1.2" fill="#525252"/>
<rect x="88.95" y="223.10" width="1.6" height="1.2" fill="#525252"/>
<rect x="88.95" y="225.80" width="1.6" height="1.2" fill="#525252"/>
<rect x="88.95" y="228.50" width="1.6" height="1.2" fill="#525252"/>
<rect x="88.95" y="231.20" width="1.6" height="1.2" fill="#525252"/>
<rect x="88.95" y="233.90" width="1.6" height="1.2" fill="#525252"/>
<rect x="88.95" y="236.60" width="1.6" height="1.2" fill="#525252"/>
<rect x="88.95" y="239.30" width="1.6" height="1.2" fill="#525252"/>
<rect x="91.90" y="215.00" width="1.6" height="1.2" fill="#525252"/>
<rect x="91.90" y="217.70" width="1.6" height="1.2" fill="#525252"/>
<rect x="91.90" y="220.40" width="1.6" height="1.2" fill="#525252"/>
<rect x="91.90" y="223.10" width="1.6" height="1.2" fill="#525252"/>
<rect x="91.90" y="225.80" width="1.6" height="1.2" fill="#525252"/>
<rect x="91.90" y="228.50" width="1.6" height="1.2" fill="#525252"/>
<rect x="91.90" y="231.20" width="1.6" height="1.2" fill="#525252"/>
<rect x="91.90" y="233.90" width="1.6" height="1.2" fill="#525252"/>
<rect x="91.90" y="236.60" width="1.6" height="1.2" fill="#525252"/>
<rect x="91.90" y="239.30" width="1.6" height="1.2" fill="#525252"/>
<rect x="94.85" y="215.00" width="1.6" height="1.2" fill="#525252"/>
<rect x="94.85" y="217.70" width="1.6" height="1.2" fill="#525252"/>
<rect x="94.85" y="220.40" width="1.6" height="1.2" fill="#525252"/>
<rect x="94.85" y="223.10" width="1.6" height="1.2" fill="#525252"/>
<rect x="94.85" y="225.80" width="1.6" height="1.2" fill="#525252"/>
<rect x="94.85" y="228.50" width="1.6" height="1.2" fill="#525252"/>
<rect x="94.85" y="231.20" width="1.6" height="1.2" fill="#525252"/>
<rect x="94.85" y="233.90" width="1.6" height="1.2" fill="#525252"/>
<rect x="94.85" y="236.60" width="1.6" height="1.2" fill="#525252"/>
<rect x="94.85" y="239.30" width="1.6" height="1.2" fill="#525252"/>
<rect x="97.80" y="215.00" width="1.6" height="1.2" fill="#525252"/>
<rect x="97.80" y="217.70" width="1.6" height="1.2" fill="#525252"/>
<rect x="97.80" y="220.40" width="1.6" height="1.2" fill="#525252"/>
<rect x="97.80" y="223.10" width="1.6" height="1.2" fill="#525252"/>
<rect x="97.80" y="225.80" width="1.6" height="1.2" fill="#525252"/>
<rect x="97.80" y="228.50" width="1.6" height="1.2" fill="#525252"/>
<rect x="97.80" y="231.20" width="1.6" height="1.2" fill="#525252"/>
<rect x="97.80" y="233.90" width="1.6" height="1.2" fill="#525252"/>
<rect x="97.80" y="236.60" width="1.6" height="1.2" fill="#525252"/>
<rect x="97.80" y="239.30" width="1.6" height="1.2" fill="#525252"/>
<rect x="100.75" y="215.00" width="1.6" height="1.2" fill="#525252"/>
<rect x="100.75" y="217.70" width="1.6" height="1.2" fill="#525252"/>
<rect x="100.75" y="220.40" width="1.6" height="1.2" fill="#525252"/>
<rect x="100.75" y="223.10" width="1.6" height="1.2" fill="#525252"/>
<rect x="100.75" y="225.80" width="1.6" height="1.2" fill="#525252"/>
<rect x="100.75" y="228.50" width="1.6" height="1.2" fill="#525252"/>
<rect x="100.75" y="231.20" width="1.6" height="1.2" fill="#525252"/>
<rect x="100.75" y="233.90" width="1.6" height="1.2" fill="#525252"/>
<rect x="100.75" y="236.60" width="1.6" height="1.2" fill="#525252"/>
<rect x="100.75" y="239.30" width="1.6" height="1.2" fill="#525252"/>
<rect x="103.70" y="215.00" width="1.6" height="1.2" fill="#525252"/>
<rect x="103.70" y="217.70" width="1.6" height="1.2" fill="#525252"/>
<rect x="103.70" y="220.40" width="1.6" height="1.2" fill="#525252"/>
<rect x="103.70" y="223.10" width="1.6" height="1.2" fill="#525252"/>
<rect x="103.70" y="225.80" width="1.6" height="1.2" fill="#525252"/>
<rect x="103.70" y="228.50" width="1.6" height="1.2" fill="#525252"/>
<rect x="103.70" y="231.20" width="1.6" height="1.2" fill="#525252"/>
<rect x="103.70" y="233.90" width="1.6" height="1.2" fill="#525252"/>
<rect x="103.70" y="236.60" width="1.6" height="1.2" fill="#525252"/>
<rect x="103.70" y="239.30" width="1.6" height="1.2" fill="#525252"/>
<rect x="106.65" y="215.00" width="1.6" height="1.2" fill="#525252"/>
<rect x="106.65" y="217.70" width="1.6" height="1.2" fill="#525252"/>
<rect x="106.65" y="220.40" width="1.6" height="1.2" fill="#525252"/>
<rect x="106.65" y="223.10" width="1.6" height="1.2" fill="#525252"/>
<rect x="106.65" y="225.80" width="1.6" height="1.2" fill="#525252"/>
<rect x="106.65" y="228.50" width="1.6" height="1.2" fill="#525252"/>
<rect x="106.65" y="231.20" width="1.6" height="1.2" fill="#525252"/>
<rect x="106.65" y="233.90" width="1.6" height="1.2" fill="#525252"/>
<rect x="106.65" y="236.60" width="1.6" height="1.2" fill="#525252"/>
<rect x="106.65" y="239.30" width="1.6" height="1.2" fill="#525252"/>
<rect x="109.60" y="215.00" width="1.6" height="1.2" fill="#525252"/>
<rect x="109.60" y="217.70" width="1.6" height="1.2" fill="#525252"/>
<rect x="109.60" y="220.40" width="1.6" height="1.2" fill="#525252"/>
<rect x="109.60" y="223.10" width="1.6" height="1.2" fill="#525252"/>
<rect x="109.60" y="225.80" width="1.6" height="1.2" fill="#525252"/>
<rect x="109.60" y="228.50" width="1.6" height="1.2" fill="#525252"/>
<rect x="109.60" y="231.20" width="1.6" height="1.2" fill="#525252"/>
<rect x="109.60" y="233.90" width="1.6" height="1.2" fill="#525252"/>
<rect x="109.60" y="236.60" width="1.6" height="1.2" fill="#525252"/>
<rect x="109.60" y="239.30" width="1.6" height="1.2" fill="#525252"/>
<rect x="112.55" y="215.00" width="1.6" height="1.2" fill="#525252"/>
<rect x="112.55" y="217.70" width="1.6" height="1.2" fill="#525252"/>
<rect x="112.55" y="220.40" width="1.6" height="1.2" fill="#525252"/>
<rect x="112.55" y="223.10" width="1.6" height="1.2" fill="#525252"/>
<rect x="112.55" y="225.80" width="1.6" height="1.2" fill="#525252"/>
<rect x="112.55" y="228.50" width="1.6" height="1.2" fill="#525252"/>
<rect x="112.55" y="231.20" width="1.6" height="1.2" fill="#525252"/>
<rect x="112.55" y="233.90" width="1.6" height="1.2" fill="#525252"/>
<rect x="112.55" y="236.60" width="1.6" height="1.2" fill="#525252"/>
<rect x="112.55" y="239.30" width="1.6" height="1.2" fill="#525252"/>
<rect x="115.50" y="215.00" width="1.6" height="1.2" fill="#525252"/>
<rect x="115.50" y="217.70" width="1.6" height="1.2" fill="#525252"/>
<rect x="115.50" y="220.40" width="1.6" height="1.2" fill="#525252"/>
<rect x="115.50" y="223.10" width="1.6" height="1.2" fill="#525252"/>
<rect x="115.50" y="225.80" width="1.6" height="1.2" fill="#525252"/>
<rect x="115.50" y="228.50" width="1.6" height="1.2" fill="#525252"/>
<rect x="115.50" y="231.20" width="1.6" height="1.2" fill="#525252"/>
<rect x="115.50" y="233.90" width="1.6" height="1.2" fill="#525252"/>
<rect x="115.50" y="236.60" width="1.6" height="1.2" fill="#525252"/>
<rect x="115.50" y="239.30" width="1.6" height="1.2" fill="#525252"/>
<rect x="118.45" y="215.00" width="1.6" height="1.2" fill="#525252"/>
<rect x="118.45" y="217.70" width="1.6" height="1.2" fill="#525252"/>
<rect x="118.45" y="220.40" width="1.6" height="1.2" fill="#525252"/>
<rect x="118.45" y="223.10" width="1.6" height="1.2" fill="#525252"/>
<rect x="118.45" y="225.80" width="1.6" height="1.2" fill="#525252"/>
<rect x="118.45" y="228.50" width="1.6" height="1.2" fill="#525252"/>
<rect x="118.45" y="231.20" width="1.6" height="1.2" fill="#525252"/>
<rect x="118.45" y="233.90" width="1.6" height="1.2" fill="#525252"/>
<rect x="118.45" y="236.60" width="1.6" height="1.2" fill="#525252"/>
<rect x="118.45" y="239.30" width="1.6" height="1.2" fill="#525252"/>
<rect x="121.40" y="215.00" width="1.6" height="1.2" fill="#525252"/>
<rect x="121.40" y="217.70" width="1.6" height="1.2" fill="#525252"/>
<rect x="121.40" y="220.40" width="1.6" height="1.2" fill="#525252"/>
<rect x="121.40" y="223.10" width="1.6" height="1.2" fill="#525252"/>
<rect x="121.40" y="225.80" width="1.6" height="1.2" fill="#525252"/>
<rect x="121.40" y="228.50" width="1.6" height="1.2" fill="#525252"/>
<rect x="121.40" y="231.20" width="1.6" height="1.2" fill="#525252"/>
<rect x="121.40" y="233.90" width="1.6" height="1.2" fill="#525252"/>
<rect x="121.40" y="236.60" width="1.6" height="1.2" fill="#525252"/>
<rect x="121.40" y="239.30" width="1.6" height="1.2" fill="#525252"/>
<rect x="124.35" y="215.00" width="1.6" height="1.2" fill="#525252"/>
<rect x="124.35" y="217.70" width="1.6" height="1.2" fill="#525252"/>
<rect x="124.35" y="220.40" width="1.6" height="1.2" fill="#525252"/>
<rect x="124.35" y="223.10" width="1.6" height="1.2" fill="#525252"/>
<rect x="124.35" y="225.80" width="1.6" height="1.2" fill="#525252"/>
<rect x="124.35" y="228.50" width="1.6" height="1.2" fill="#525252"/>
<rect x="124.35" y="231.20" width="1.6" height="1.2" fill="#525252"/>
<rect x="124.35" y="233.90" width="1.6" height="1.2" fill="#525252"/>
<rect x="124.35" y="236.60" width="1.6" height="1.2" fill="#525252"/>
<rect x="124.35" y="239.30" width="1.6" height="1.2" fill="#525252"/>
</g>
<rect x="75.0" y="242.5" width="8.8" height="2.0" fill="#fff"/>
<text x="63.2" y="190.7" class="b">c</text>
<text x="105.9" y="259.2" class="t" style="font-size:13.5px" text-anchor="middle">Before</text>
<g clip-path="url(#cd)">
<rect x="254" y="140" width="70" height="64.2" fill="#bcbcbc"/>
<polygon points="254,140 300,140 262,150 258,185 254,190" fill="#c8c8c8"/>
<g filter="url(#bl)">
<polygon points="257,195 272,198 300,199.5 322,196 322,203 259,203" fill="#dcdcdc"/>
<polygon points="262,150 300.9,142 301.9,172.9 261,182.9" fill="#4a4a4a"/>
<polygon points="260,150 263,149.5 262,183 259,184" fill="#222"/>
<polygon points="302.9,144 315.8,146 312.9,171.9 298.9,172.9" fill="#f2f2f2"/>
<polygon points="265,184.9 308.9,173.9 315.8,180.9 310.9,194.9 270.9,198.9" fill="#767676"/>
<polygon points="259,185 265,184.9 270.9,198.9 262,196" fill="#333"/>
<polygon points="312,182 320,178 321,194 312,198" fill="#efefef"/>
</g>
<line x1="265.0" y1="149.4" x2="264.1" y2="182.1" stroke="#c4c4c4" stroke-width="0.85"/>
<line x1="268.0" y1="148.8" x2="267.3" y2="181.4" stroke="#c4c4c4" stroke-width="0.85"/>
<line x1="271.0" y1="148.2" x2="270.4" y2="180.6" stroke="#c4c4c4" stroke-width="0.85"/>
<line x1="274.0" y1="147.5" x2="273.6" y2="179.8" stroke="#c4c4c4" stroke-width="0.85"/>
<line x1="277.0" y1="146.9" x2="276.7" y2="179.1" stroke="#c4c4c4" stroke-width="0.85"/>
<line x1="280.0" y1="146.3" x2="279.9" y2="178.3" stroke="#c4c4c4" stroke-width="0.85"/>
<line x1="282.9" y1="145.7" x2="283.0" y2="177.5" stroke="#c4c4c4" stroke-width="0.85"/>
<line x1="285.9" y1="145.1" x2="286.2" y2="176.7" stroke="#c4c4c4" stroke-width="0.85"/>
<line x1="288.9" y1="144.5" x2="289.3" y2="176.0" stroke="#c4c4c4" stroke-width="0.85"/>
<line x1="291.9" y1="143.8" x2="292.5" y2="175.2" stroke="#c4c4c4" stroke-width="0.85"/>
<line x1="294.9" y1="143.2" x2="295.6" y2="174.4" stroke="#c4c4c4" stroke-width="0.85"/>
<line x1="297.9" y1="142.6" x2="298.8" y2="173.7" stroke="#c4c4c4" stroke-width="0.85"/>
<line x1="261.9" y1="153.0" x2="301.0" y2="144.8" stroke="#c4c4c4" stroke-width="0.85"/>
<line x1="261.8" y1="156.0" x2="301.1" y2="147.6" stroke="#c4c4c4" stroke-width="0.85"/>
<line x1="261.7" y1="159.0" x2="301.2" y2="150.4" stroke="#c4c4c4" stroke-width="0.85"/>
<line x1="261.6" y1="162.0" x2="301.3" y2="153.2" stroke="#c4c4c4" stroke-width="0.85"/>
<line x1="261.5" y1="165.0" x2="301.4" y2="156.0" stroke="#c4c4c4" stroke-width="0.85"/>
<line x1="261.5" y1="167.9" x2="301.4" y2="158.9" stroke="#c4c4c4" stroke-width="0.85"/>
<line x1="261.4" y1="170.9" x2="301.5" y2="161.7" stroke="#c4c4c4" stroke-width="0.85"/>
<line x1="261.3" y1="173.9" x2="301.6" y2="164.5" stroke="#c4c4c4" stroke-width="0.85"/>
<line x1="261.2" y1="176.9" x2="301.7" y2="167.3" stroke="#c4c4c4" stroke-width="0.85"/>
<line x1="261.1" y1="179.9" x2="301.8" y2="170.1" stroke="#c4c4c4" stroke-width="0.85"/>
<circle cx="303.5" cy="147.5" r="0.7" fill="#555"/>
<circle cx="303.2" cy="150.3" r="0.7" fill="#555"/>
<circle cx="302.9" cy="153.1" r="0.7" fill="#555"/>
<circle cx="302.6" cy="155.9" r="0.7" fill="#555"/>
<circle cx="302.3" cy="158.7" r="0.7" fill="#555"/>
<circle cx="302.0" cy="161.5" r="0.7" fill="#555"/>
<circle cx="301.7" cy="164.3" r="0.7" fill="#555"/>
<circle cx="301.4" cy="167.1" r="0.7" fill="#555"/>
<circle cx="301.1" cy="169.9" r="0.7" fill="#555"/>
<circle cx="306.5" cy="147.5" r="0.7" fill="#555"/>
<circle cx="306.2" cy="150.3" r="0.7" fill="#555"/>
<circle cx="305.9" cy="153.1" r="0.7" fill="#555"/>
<circle cx="305.6" cy="155.9" r="0.7" fill="#555"/>
<circle cx="305.3" cy="158.7" r="0.7" fill="#555"/>
<circle cx="305.0" cy="161.5" r="0.7" fill="#555"/>
<circle cx="304.7" cy="164.3" r="0.7" fill="#555"/>
<circle cx="304.4" cy="167.1" r="0.7" fill="#555"/>
<circle cx="304.1" cy="169.9" r="0.7" fill="#555"/>
<circle cx="309.5" cy="147.5" r="0.7" fill="#555"/>
<circle cx="309.2" cy="150.3" r="0.7" fill="#555"/>
<circle cx="308.9" cy="153.1" r="0.7" fill="#555"/>
<circle cx="308.6" cy="155.9" r="0.7" fill="#555"/>
<circle cx="308.3" cy="158.7" r="0.7" fill="#555"/>
<circle cx="308.0" cy="161.5" r="0.7" fill="#555"/>
<circle cx="307.7" cy="164.3" r="0.7" fill="#555"/>
<circle cx="307.4" cy="167.1" r="0.7" fill="#555"/>
<circle cx="307.1" cy="169.9" r="0.7" fill="#555"/>
<circle cx="312.5" cy="147.5" r="0.7" fill="#555"/>
<circle cx="312.2" cy="150.3" r="0.7" fill="#555"/>
<circle cx="311.9" cy="153.1" r="0.7" fill="#555"/>
<circle cx="311.6" cy="155.9" r="0.7" fill="#555"/>
<circle cx="311.3" cy="158.7" r="0.7" fill="#555"/>
<circle cx="311.0" cy="161.5" r="0.7" fill="#555"/>
<circle cx="310.7" cy="164.3" r="0.7" fill="#555"/>
<circle cx="310.4" cy="167.1" r="0.7" fill="#555"/>
<circle cx="310.1" cy="169.9" r="0.7" fill="#555"/>
<circle cx="270.0" cy="186.0" r="0.6" fill="#3a3a3a"/>
<circle cx="270.8" cy="188.7" r="0.6" fill="#3a3a3a"/>
<circle cx="271.6" cy="191.4" r="0.6" fill="#3a3a3a"/>
<circle cx="272.4" cy="194.1" r="0.6" fill="#3a3a3a"/>
<circle cx="273.2" cy="196.8" r="0.6" fill="#3a3a3a"/>
<circle cx="273.1" cy="185.2" r="0.6" fill="#3a3a3a"/>
<circle cx="273.9" cy="187.9" r="0.6" fill="#3a3a3a"/>
<circle cx="274.7" cy="190.7" r="0.6" fill="#3a3a3a"/>
<circle cx="275.5" cy="193.3" r="0.6" fill="#3a3a3a"/>
<circle cx="276.3" cy="196.1" r="0.6" fill="#3a3a3a"/>
<circle cx="276.2" cy="184.5" r="0.6" fill="#3a3a3a"/>
<circle cx="277.0" cy="187.2" r="0.6" fill="#3a3a3a"/>
<circle cx="277.8" cy="189.9" r="0.6" fill="#3a3a3a"/>
<circle cx="278.6" cy="192.6" r="0.6" fill="#3a3a3a"/>
<circle cx="279.4" cy="195.3" r="0.6" fill="#3a3a3a"/>
<circle cx="279.3" cy="183.8" r="0.6" fill="#3a3a3a"/>
<circle cx="280.1" cy="186.4" r="0.6" fill="#3a3a3a"/>
<circle cx="280.9" cy="189.2" r="0.6" fill="#3a3a3a"/>
<circle cx="281.7" cy="191.8" r="0.6" fill="#3a3a3a"/>
<circle cx="282.5" cy="194.6" r="0.6" fill="#3a3a3a"/>
<circle cx="282.4" cy="183.0" r="0.6" fill="#3a3a3a"/>
<circle cx="283.2" cy="185.7" r="0.6" fill="#3a3a3a"/>
<circle cx="284.0" cy="188.4" r="0.6" fill="#3a3a3a"/>
<circle cx="284.8" cy="191.1" r="0.6" fill="#3a3a3a"/>
<circle cx="285.6" cy="193.8" r="0.6" fill="#3a3a3a"/>
<circle cx="285.5" cy="182.2" r="0.6" fill="#3a3a3a"/>
<circle cx="286.3" cy="184.9" r="0.6" fill="#3a3a3a"/>
<circle cx="287.1" cy="187.7" r="0.6" fill="#3a3a3a"/>
<circle cx="287.9" cy="190.3" r="0.6" fill="#3a3a3a"/>
<circle cx="288.7" cy="193.1" r="0.6" fill="#3a3a3a"/>
<circle cx="288.6" cy="181.5" r="0.6" fill="#3a3a3a"/>
<circle cx="289.4" cy="184.2" r="0.6" fill="#3a3a3a"/>
<circle cx="290.2" cy="186.9" r="0.6" fill="#3a3a3a"/>
<circle cx="291.0" cy="189.6" r="0.6" fill="#3a3a3a"/>
<circle cx="291.8" cy="192.3" r="0.6" fill="#3a3a3a"/>
<circle cx="291.7" cy="180.8" r="0.6" fill="#3a3a3a"/>
<circle cx="292.5" cy="183.4" r="0.6" fill="#3a3a3a"/>
<circle cx="293.3" cy="186.2" r="0.6" fill="#3a3a3a"/>
<circle cx="294.1" cy="188.8" r="0.6" fill="#3a3a3a"/>
<circle cx="294.9" cy="191.6" r="0.6" fill="#3a3a3a"/>
<circle cx="294.8" cy="180.0" r="0.6" fill="#3a3a3a"/>
<circle cx="295.6" cy="182.7" r="0.6" fill="#3a3a3a"/>
<circle cx="296.4" cy="185.4" r="0.6" fill="#3a3a3a"/>
<circle cx="297.2" cy="188.1" r="0.6" fill="#3a3a3a"/>
<circle cx="298.0" cy="190.8" r="0.6" fill="#3a3a3a"/>
<circle cx="297.9" cy="179.2" r="0.6" fill="#3a3a3a"/>
<circle cx="298.7" cy="181.9" r="0.6" fill="#3a3a3a"/>
<circle cx="299.5" cy="184.7" r="0.6" fill="#3a3a3a"/>
<circle cx="300.3" cy="187.3" r="0.6" fill="#3a3a3a"/>
<circle cx="301.1" cy="190.1" r="0.6" fill="#3a3a3a"/>
<circle cx="301.0" cy="178.5" r="0.6" fill="#3a3a3a"/>
<circle cx="301.8" cy="181.2" r="0.6" fill="#3a3a3a"/>
<circle cx="302.6" cy="183.9" r="0.6" fill="#3a3a3a"/>
<circle cx="303.4" cy="186.6" r="0.6" fill="#3a3a3a"/>
<circle cx="304.2" cy="189.3" r="0.6" fill="#3a3a3a"/>
<circle cx="304.1" cy="177.8" r="0.6" fill="#3a3a3a"/>
<circle cx="304.9" cy="180.4" r="0.6" fill="#3a3a3a"/>
<circle cx="305.7" cy="183.2" r="0.6" fill="#3a3a3a"/>
<circle cx="306.5" cy="185.8" r="0.6" fill="#3a3a3a"/>
<circle cx="307.3" cy="188.6" r="0.6" fill="#3a3a3a"/>
<circle cx="307.2" cy="177.0" r="0.6" fill="#3a3a3a"/>
<circle cx="308.0" cy="179.7" r="0.6" fill="#3a3a3a"/>
<circle cx="308.8" cy="182.4" r="0.6" fill="#3a3a3a"/>
<circle cx="309.6" cy="185.1" r="0.6" fill="#3a3a3a"/>
<circle cx="310.4" cy="187.8" r="0.6" fill="#3a3a3a"/>
</g>
<rect x="311.9" y="199.9" width="9.3" height="2.0" fill="#fff"/>
<text x="243.2" y="146.7" class="b">d</text>
<text x="291.1" y="219.2" class="t" style="font-size:13.5px" text-anchor="middle">After</text>
<polyline fill="none" stroke="#a9d18e" stroke-width="1.9" stroke-linejoin="round" stroke-linecap="round" points="388.6,336.0 399.0,323.8 408.9,315.8 416.9,305.9 437.8,287.5 443.4,276.6 451.8,273.0 456.4,270.5 464.9,262.7 474.5,257.8 480.9,252.0 488.0,248.5 495.3,245.9 505.0,244.0 516.7,242.9 528.0,242.6 541.2,243.2 556.0,244.7 571.8,246.8 588.0,249.8 604.0,253.0"/>
<polyline fill="none" stroke="#f0a3c4" stroke-width="1.9" stroke-linejoin="round" stroke-linecap="round" points="388.6,336.0 400.0,335.4 406.9,326.8 416.5,321.4 421.9,310.9 433.8,311.9 438.4,310.9 449.8,284.0 451.8,270.0 455.3,239.7 464.9,195.0 468.8,168.1 473.2,145.6 480.5,163.7 489.8,178.4"/>
<polyline fill="none" stroke="#5b6fbe" stroke-width="1.9" stroke-linejoin="round" stroke-linecap="round" points="388.6,336.0 395.0,327.8 401.0,310.5 408.5,311.3 415.9,300.9 424.9,294.3 431.8,270.0 436.6,246.0 440.4,222.7 443.6,195.0 443.9,194.4 458.5,148.2 468.2,151.2 471.7,160.8"/>
<polyline fill="none" stroke="#1fb5e8" stroke-width="1.9" stroke-linejoin="round" stroke-linecap="round" points="388.6,336.0 396.0,333.4 402.9,325.8 410.9,314.8 414.9,301.9 419.9,270.0 421.3,263.0 427.7,238.6 430.9,209.9 434.0,200.3 441.0,181.3 453.6,122.8 461.2,111.1 463.5,142.7"/>
<rect x="388.4" y="103.7" width="289.2" height="232.6" fill="none" stroke="#000" stroke-width="1.4"/>
<line x1="384.2" x2="388.4" y1="336.3" y2="336.3" stroke="#000" stroke-width="1.2"/>
<text x="381.2" y="340.1" class="t" text-anchor="end">0</text>
<line x1="384.2" x2="388.4" y1="280.9" y2="280.9" stroke="#000" stroke-width="1.2"/>
<text x="381.2" y="284.7" class="t" text-anchor="end">5</text>
<line x1="384.2" x2="388.4" y1="225.5" y2="225.5" stroke="#000" stroke-width="1.2"/>
<text x="381.2" y="229.3" class="t" text-anchor="end">10</text>
<line x1="384.2" x2="388.4" y1="170.1" y2="170.1" stroke="#000" stroke-width="1.2"/>
<text x="381.2" y="173.9" class="t" text-anchor="end">15</text>
<line x1="384.2" x2="388.4" y1="114.7" y2="114.7" stroke="#000" stroke-width="1.2"/>
<text x="381.2" y="118.5" class="t" text-anchor="end">20</text>
<line y1="336.3" y2="340.7" x1="388.4" x2="388.4" stroke="#000" stroke-width="1.2"/>
<text y="354.4" x="388.4" class="t" text-anchor="middle">0</text>
<line y1="336.3" y2="340.7" x1="484.8" x2="484.8" stroke="#000" stroke-width="1.2"/>
<text y="354.4" x="484.8" class="t" text-anchor="middle">20</text>
<line y1="336.3" y2="340.7" x1="581.2" x2="581.2" stroke="#000" stroke-width="1.2"/>
<text y="354.4" x="581.2" class="t" text-anchor="middle">40</text>
<line y1="336.3" y2="340.7" x1="677.6" x2="677.6" stroke="#000" stroke-width="1.2"/>
<text y="354.4" x="677.6" class="t" text-anchor="middle">60</text>
<text x="533" y="372.9" class="t" text-anchor="middle" textLength="110.4">Displacement (µm)</text>
<text transform="translate(364.2,0) rotate(-90)" class="t" style="font-size:13.1px" x="-291.7">Compressive force (mN)</text>
<line x1="487.5" x2="514.6" y1="118.6" y2="118.6" stroke="#a9d18e" stroke-width="1.9"/>
<line x1="487.5" x2="514.6" y1="135.1" y2="135.1" stroke="#f0a3c4" stroke-width="1.9"/>
<line x1="489.0" x2="516.0" y1="156.5" y2="156.5" stroke="#5b6fbe" stroke-width="1.9"/>
<line x1="490.0" x2="517.2" y1="175.9" y2="175.9" stroke="#1fb5e8" stroke-width="1.9"/>
<text x="519" y="123.2" class="lg" textLength="153" lengthAdjust="spacingAndGlyphs" style="fill:#a9d18e">IPS/Fe<tspan font-size="8.5" dy="3">3</tspan><tspan dy="-3">O</tspan><tspan font-size="8.5" dy="3">4</tspan><tspan dy="-3"> sphere scaffold</tspan></text>
<text x="519.0" y="140.5" class="lg" style="fill:#f0a3c4">300 <tspan font-size="9.2" dy="-4.2">o</tspan><tspan dy="4.2">C annealed</tspan></text>
<text x="519.3" y="161.2" class="lg" style="fill:#5b6fbe">600 <tspan font-size="9.2" dy="-4.2">o</tspan><tspan dy="4.2">C annealed</tspan></text>
<text x="519.6" y="180.4" class="lg" style="fill:#1fb5e8">900 <tspan font-size="9.2" dy="-4.2">o</tspan><tspan dy="4.2">C annealed</tspan></text>
<g clip-path="url(#cg)">
<linearGradient id="gg" x1="0" x2="1" y1="0" y2="1"><stop offset="0" stop-color="#939393"/><stop offset="0.45" stop-color="#848484"/><stop offset="1" stop-color="#6a6a6a"/></linearGradient>
<rect x="494" y="253.5" width="73.3" height="65.3" fill="url(#gg)"/>
<g filter="url(#bl2)">
<polygon points="552,253 568,253 568,319 560,319 563,290 558,268" fill="#a6a6a6"/>
<polygon points="494,296 500,300 512,314 520,319 494,319" fill="#666"/>
<polygon points="563,282 568,280 568,292 564,296" fill="#e0e0e0"/>
</g>
<clipPath id="cgs"><ellipse cx="531" cy="284" rx="33.5" ry="29.5"/></clipPath>
<g clip-path="url(#cgs)" filter="url(#bl)">
<rect x="494" y="253" width="74" height="66" fill="#6e6e6e"/>
<polygon points="504.3,264.9 500.1,271.0 497.2,272.7 498.7,269.6 501.9,265.1 504.5,262.3" fill="#5f5f5f" stroke="#c2c2c2" stroke-width="1.5" stroke-linejoin="round"/>
<polygon points="499.0,269.3 501.7,265.4 503.9,263.0 502.4,264.7 501.1,266.1 499.5,268.4" fill="#282828" opacity="0.55"/>
<polygon points="501.6,276.5 498.5,283.3 495.2,283.4 495.4,278.4 497.2,272.7 500.1,271.0" fill="#585858" stroke="#c2c2c2" stroke-width="1.5" stroke-linejoin="round"/>
<polygon points="495.6,278.2 497.1,273.4 499.7,272.0 498.6,274.2 497.1,275.0 496.2,277.9" fill="#212121" opacity="0.55"/>
<polygon points="501.4,290.1 499.8,295.8 496.8,294.2 495.2,288.6 495.2,283.4 498.5,283.3" fill="#454545" stroke="#c2c2c2" stroke-width="1.5" stroke-linejoin="round"/>
<polygon points="495.4,288.7 495.5,284.3 498.2,284.2 497.6,286.3 496.0,286.4 496.0,289.0" fill="#0e0e0e" opacity="0.55"/>
<polygon points="503.9,302.0 503.9,305.1 501.4,302.3 498.3,297.6 496.8,294.2 499.8,295.8" fill="#4c4c4c" stroke="#c2c2c2" stroke-width="1.5" stroke-linejoin="round"/>
<polygon points="498.5,297.9 497.3,295.1 499.8,296.4 499.8,297.9 498.3,297.1 499.1,298.7" fill="#151515" opacity="0.55"/>
<polygon points="515.9,257.9 510.7,263.2 504.3,264.9 504.5,262.3 509.3,258.5 514.3,255.9" fill="#585858" stroke="#c2c2c2" stroke-width="1.5" stroke-linejoin="round"/>
<polygon points="505.2,261.9 509.3,258.7 513.5,256.5 511.7,257.8 509.2,259.1 506.9,261.0" fill="#212121" opacity="0.55"/>
<polygon points="513.5,268.6 508.6,275.8 501.6,276.5 500.1,271.0 504.3,264.9 510.7,263.2" fill="#666666" stroke="#c2c2c2" stroke-width="1.5" stroke-linejoin="round"/>
<polygon points="501.0,270.8 504.5,265.6 509.9,264.1 508.2,266.4 505.0,267.3 502.9,270.3" fill="#2f2f2f" opacity="0.55"/>
<polygon points="512.7,283.2 508.5,290.6 501.4,290.1 498.5,283.3 501.6,276.5 508.6,275.8" fill="#717171" stroke="#c2c2c2" stroke-width="1.5" stroke-linejoin="round"/>
<polygon points="499.4,283.3 502.0,277.5 508.0,277.0 506.5,279.5 503.0,279.9 501.5,283.3" fill="#3a3a3a" opacity="0.55"/>
<polygon points="513.4,298.0 510.4,303.7 503.9,302.0 499.8,295.8 501.4,290.1 508.5,290.6" fill="#424242" stroke="#c2c2c2" stroke-width="1.5" stroke-linejoin="round"/>
<polygon points="500.7,296.0 502.0,291.1 508.1,291.6 507.0,293.8 503.5,293.6 502.7,296.4" fill="#0b0b0b" opacity="0.55"/>
<polygon points="515.5,309.3 513.8,311.6 508.7,309.1 503.9,305.1 503.9,302.0 510.4,303.7" fill="#404040" stroke="#c2c2c2" stroke-width="1.5" stroke-linejoin="round"/>
<polygon points="504.6,305.4 504.6,302.8 510.1,304.2 509.5,305.6 506.3,304.8 506.3,306.3" fill="#090909" opacity="0.55"/>
<polygon points="528.5,253.4 523.9,256.8 515.9,257.9 514.3,255.9 519.3,253.9 525.5,252.5" fill="#787878" stroke="#c2c2c2" stroke-width="1.5" stroke-linejoin="round"/>
<polygon points="515.3,255.7 519.5,253.9 524.8,252.8 523.2,253.4 520.1,254.0 517.6,255.0" fill="#414141" opacity="0.55"/>
<polygon points="528.0,261.5 522.9,268.0 513.5,268.6 510.7,263.2 515.9,257.9 523.9,256.8" fill="#606060" stroke="#c2c2c2" stroke-width="1.5" stroke-linejoin="round"/>
<polygon points="511.9,263.0 516.3,258.5 523.1,257.6 521.4,259.4 517.3,259.9 514.7,262.6" fill="#292929" opacity="0.55"/>
<polygon points="527.7,275.2 522.5,283.1 512.7,283.2 508.6,275.8 513.5,268.6 522.9,268.0" fill="#686868" stroke="#c2c2c2" stroke-width="1.5" stroke-linejoin="round"/>
<polygon points="510.0,275.8 514.2,269.6 522.1,269.1 520.2,271.7 515.6,272.0 513.1,275.6" fill="#313131" opacity="0.55"/>
<polygon points="527.7,291.1 522.8,298.6 513.4,298.0 508.5,290.6 512.7,283.2 522.5,283.1" fill="#696969" stroke="#c2c2c2" stroke-width="1.5" stroke-linejoin="round"/>
<polygon points="509.9,290.7 513.4,284.3 521.7,284.3 520.0,287.1 515.1,287.1 513.0,290.8" fill="#323232" opacity="0.55"/>
<polygon points="528.0,305.3 523.8,310.3 515.5,309.3 510.4,303.7 513.4,298.0 522.8,298.6" fill="#4e4e4e" stroke="#c2c2c2" stroke-width="1.5" stroke-linejoin="round"/>
<polygon points="511.6,303.8 514.2,299.0 522.2,299.5 520.7,301.7 516.0,301.4 514.5,304.2" fill="#171717" opacity="0.55"/>
<polygon points="528.5,314.1 525.3,315.4 518.9,314.0 513.8,311.6 515.5,309.3 523.8,310.3" fill="#454545" stroke="#c2c2c2" stroke-width="1.5" stroke-linejoin="round"/>
<polygon points="514.9,311.9 516.3,309.9 523.3,310.8 522.2,311.8 518.1,311.3 517.3,312.5" fill="#0e0e0e" opacity="0.55"/>
<polygon points="538.9,252.9 536.4,253.6 528.5,253.4 525.5,252.5 529.2,252.2 535.0,252.4" fill="#717171" stroke="#c2c2c2" stroke-width="1.5" stroke-linejoin="round"/>
<polygon points="526.5,252.5 529.6,252.2 534.6,252.3 533.6,252.3 530.7,252.2 528.9,252.4" fill="#3a3a3a" opacity="0.55"/>
<polygon points="541.2,257.1 537.5,261.6 528.0,261.5 523.9,256.8 528.5,253.4 536.4,253.6" fill="#707070" stroke="#c2c2c2" stroke-width="1.5" stroke-linejoin="round"/>
<polygon points="525.2,256.8 529.1,253.9 535.8,254.0 534.5,255.0 530.6,255.0 528.3,256.7" fill="#393939" opacity="0.55"/>
<polygon points="542.7,268.1 538.1,275.2 527.7,275.2 522.9,268.0 528.0,261.5 537.5,261.6" fill="#676767" stroke="#c2c2c2" stroke-width="1.5" stroke-linejoin="round"/>
<polygon points="524.4,267.9 528.7,262.4 536.8,262.5 535.2,264.7 530.4,264.6 527.9,267.9" fill="#303030" opacity="0.55"/>
<polygon points="543.3,283.2 538.1,291.1 527.7,291.1 522.5,283.1 527.7,275.2 538.1,275.2" fill="#727272" stroke="#c2c2c2" stroke-width="1.5" stroke-linejoin="round"/>
<polygon points="524.0,283.1 528.5,276.4 537.3,276.4 535.5,279.2 530.3,279.2 527.7,283.1" fill="#3b3b3b" opacity="0.55"/>
<polygon points="542.8,298.4 537.6,305.2 528.0,305.3 522.8,298.6 527.7,291.1 538.1,291.1" fill="#6f6f6f" stroke="#c2c2c2" stroke-width="1.5" stroke-linejoin="round"/>
<polygon points="524.3,298.6 528.5,292.3 537.4,292.2 535.5,294.9 530.3,294.9 527.8,298.6" fill="#383838" opacity="0.55"/>
<polygon points="541.4,310.0 536.5,313.9 528.5,314.1 523.8,310.3 528.0,305.3 537.6,305.2" fill="#505050" stroke="#c2c2c2" stroke-width="1.5" stroke-linejoin="round"/>
<polygon points="525.1,310.3 528.7,306.1 536.8,306.0 535.1,307.9 530.3,307.9 528.2,310.4" fill="#191919" opacity="0.55"/>
<polygon points="539.2,315.0 535.1,315.6 529.1,315.8 525.3,315.4 528.5,314.1 536.5,313.9" fill="#444444" stroke="#c2c2c2" stroke-width="1.5" stroke-linejoin="round"/>
<polygon points="526.3,315.5 529.0,314.4 535.9,314.2 534.4,314.9 530.4,314.9 528.8,315.6" fill="#0d0d0d" opacity="0.55"/>
<polygon points="549.8,256.8 548.8,258.5 541.2,257.1 536.4,253.6 538.9,252.9 544.8,254.6" fill="#777777" stroke="#c2c2c2" stroke-width="1.5" stroke-linejoin="round"/>
<polygon points="537.5,253.7 539.6,253.2 544.6,254.6 544.2,254.6 541.3,253.8 540.0,254.1" fill="#404040" opacity="0.55"/>
<polygon points="553.9,263.8 551.6,268.9 542.7,268.1 537.5,261.6 541.2,257.1 548.8,258.5" fill="#808080" stroke="#c2c2c2" stroke-width="1.5" stroke-linejoin="round"/>
<polygon points="538.8,261.7 542.0,257.9 548.5,259.1 547.6,260.4 543.8,259.7 541.9,262.0" fill="#494949" opacity="0.55"/>
<polygon points="556.3,276.1 552.6,283.2 543.3,283.2 538.1,275.2 542.7,268.1 551.6,268.9" fill="#656565" stroke="#c2c2c2" stroke-width="1.5" stroke-linejoin="round"/>
<polygon points="539.6,275.3 543.5,269.2 551.0,269.9 549.7,272.2 545.3,271.8 543.0,275.4" fill="#2e2e2e" opacity="0.55"/>
<polygon points="556.4,290.4 551.8,297.7 542.8,298.4 538.1,291.1 543.3,283.2 552.6,283.2" fill="#626262" stroke="#c2c2c2" stroke-width="1.5" stroke-linejoin="round"/>
<polygon points="539.6,291.1 544.0,284.3 551.9,284.3 550.3,287.0 545.6,287.0 543.1,291.0" fill="#2b2b2b" opacity="0.55"/>
<polygon points="554.3,303.1 549.2,308.7 541.4,310.0 537.6,305.2 542.8,298.4 551.8,297.7" fill="#5d5d5d" stroke="#c2c2c2" stroke-width="1.5" stroke-linejoin="round"/>
<polygon points="538.9,305.1 543.4,299.3 551.0,298.7 549.2,301.1 544.7,301.4 542.1,304.8" fill="#262626" opacity="0.55"/>
<polygon points="550.3,310.8 545.2,313.3 539.2,315.0 536.5,313.9 541.4,310.0 549.2,308.7" fill="#4c4c4c" stroke="#c2c2c2" stroke-width="1.5" stroke-linejoin="round"/>
<polygon points="537.6,313.8 541.8,310.4 548.4,309.3 546.6,310.7 542.7,311.4 540.3,313.4" fill="#151515" opacity="0.55"/>
<polygon points="558.6,263.4 559.5,265.7 553.9,263.8 548.8,258.5 549.8,256.8 554.2,259.5" fill="#767676" stroke="#c2c2c2" stroke-width="1.5" stroke-linejoin="round"/>
<polygon points="549.7,258.8 550.5,257.4 554.3,259.7 554.5,260.1 552.3,258.7 551.8,259.5" fill="#3f3f3f" opacity="0.55"/>
<polygon points="563.3,271.6 562.5,276.8 556.3,276.1 551.6,268.9 553.9,263.8 559.5,265.7" fill="#676767" stroke="#c2c2c2" stroke-width="1.5" stroke-linejoin="round"/>
<polygon points="552.6,269.1 554.6,264.7 559.3,266.4 559.0,267.9 556.3,266.9 555.1,269.5" fill="#303030" opacity="0.55"/>
<polygon points="565.1,283.3 562.6,289.8 556.4,290.4 552.6,283.2 556.3,276.1 562.5,276.8" fill="#696969" stroke="#c2c2c2" stroke-width="1.5" stroke-linejoin="round"/>
<polygon points="553.7,283.2 556.8,277.1 562.1,277.8 561.3,280.0 558.2,279.7 556.3,283.2" fill="#323232" opacity="0.55"/>
<polygon points="563.6,295.3 559.9,301.3 554.3,303.1 551.8,297.7 556.4,290.4 562.6,289.8" fill="#555555" stroke="#c2c2c2" stroke-width="1.5" stroke-linejoin="round"/>
<polygon points="552.8,297.5 556.8,291.4 562.1,290.9 560.8,293.2 557.6,293.5 555.3,297.2" fill="#1e1e1e" opacity="0.55"/>
<polygon points="559.2,304.0 554.7,308.0 550.3,310.8 549.2,308.7 554.3,303.1 559.9,301.3" fill="#454545" stroke="#c2c2c2" stroke-width="1.5" stroke-linejoin="round"/>
<polygon points="550.1,308.4 554.4,303.6 559.2,302.1 557.6,304.0 554.8,304.9 552.2,307.7" fill="#0e0e0e" opacity="0.55"/>
<polygon points="566.7,278.7 567.2,283.4 565.1,283.3 562.5,276.8 563.3,271.6 565.1,273.4" fill="#7f7f7f" stroke="#c2c2c2" stroke-width="1.5" stroke-linejoin="round"/>
<polygon points="563.0,276.9 563.7,272.5 565.2,274.1 565.6,275.6 564.6,274.7 564.2,277.3" fill="#484848" opacity="0.55"/>
<polygon points="566.8,288.3 565.5,293.6 563.6,295.3 562.6,289.8 565.1,283.3 567.2,283.4" fill="#5e5e5e" stroke="#c2c2c2" stroke-width="1.5" stroke-linejoin="round"/>
<polygon points="563.1,289.7 565.2,284.2 567.0,284.3 566.7,286.3 565.6,286.2 564.4,289.5" fill="#272727" opacity="0.55"/>
<polygon points="564.1,296.8 561.3,301.4 559.2,304.0 559.9,301.3 563.6,295.3 565.5,293.6" fill="#646464" stroke="#c2c2c2" stroke-width="1.5" stroke-linejoin="round"/>
<polygon points="560.3,300.9 563.5,295.8 565.1,294.4 564.2,296.3 563.3,297.1 561.4,300.1" fill="#2d2d2d" opacity="0.55"/>
</g>
<ellipse cx="531" cy="284" rx="33.5" ry="29.5" fill="none" stroke="#cdcdcd" stroke-width="1.8" stroke-dasharray="22 6 14 9 30 5" filter="url(#bl)"/>
</g>
<rect x="497.4" y="314.1" width="21.9" height="2.2" fill="#fff"/>
<text x="482.6" y="262.3" class="b">g</text>
<text x="529" y="331.7" class="t" style="font-size:13.5px" text-anchor="middle">Before</text>
<g clip-path="url(#ch)">
<linearGradient id="gh" x1="0" x2="1" y1="0" y2="1"><stop offset="0" stop-color="#b2b2b2"/><stop offset="1" stop-color="#a2a2a2"/></linearGradient>
<rect x="584" y="260" width="75" height="52.6" fill="url(#gh)"/>
<rect x="584" y="260" width="75" height="52.6" filter="url(#nz1)" opacity="0.10"/>
<g filter="url(#bl2)">
<polygon points="589,278 595,275 603,277 606,282 601,286 594,285 590,284" fill="#d6d6d6"/>
<polygon points="594,279 599,277.5 600,282 596,283.5" fill="#6e6e6e"/>
<polygon points="589,283 596,285 594,288 589,287" fill="#8a8a8a"/>
<polygon points="636,268 646,270 643,275 639,277" fill="#e6e6e6"/>
<polygon points="639,274 642.5,274.5 641,281 639,280" fill="#6c6c6c"/>
<polygon points="624,290 631,287 638,290 639,296 632,300 626,297" fill="#707070"/>
<polygon points="629,296 635,294.5 637,299 631,302" fill="#d2d2d2"/>
<polygon points="640,289 648,287.5 650,293 644,295" fill="#8a8a8a"/>
<polygon points="644,296 649,295 650,300 645,301" fill="#d4d4d4"/>
<polygon points="632,281 638,283 640,287 634,286" fill="#c8c8c8"/>
<ellipse cx="616" cy="306" rx="2.6" ry="1.8" fill="#c6c6c6"/>
</g><g filter="url(#bl)">
<circle cx="634.8" cy="291.7" r="0.8" fill="#8c8c8c"/>
<circle cx="647.6" cy="293.0" r="0.5" fill="#8c8c8c"/>
<circle cx="651.2" cy="266.5" r="0.6" fill="#c6c6c6"/>
<circle cx="620.5" cy="266.1" r="0.5" fill="#c6c6c6"/>
<circle cx="622.1" cy="269.3" r="0.8" fill="#d0d0d0"/>
<circle cx="607.4" cy="293.9" r="0.5" fill="#d0d0d0"/>
<circle cx="605.5" cy="262.1" r="0.8" fill="#c6c6c6"/>
<circle cx="643.6" cy="300.4" r="0.5" fill="#c6c6c6"/>
<circle cx="615.1" cy="300.5" r="0.7" fill="#c6c6c6"/>
<circle cx="608.7" cy="300.7" r="0.5" fill="#d0d0d0"/>
<circle cx="615.6" cy="276.4" r="0.5" fill="#c6c6c6"/>
<circle cx="613.6" cy="275.3" r="0.8" fill="#8c8c8c"/>
<circle cx="633.2" cy="290.3" r="0.4" fill="#848484"/>
<circle cx="646.3" cy="281.2" r="0.6" fill="#d0d0d0"/>
<circle cx="625.9" cy="269.0" r="0.5" fill="#8c8c8c"/>
<circle cx="654.0" cy="276.3" r="0.6" fill="#d0d0d0"/>
<circle cx="619.6" cy="285.1" r="0.4" fill="#8c8c8c"/>
<circle cx="639.8" cy="286.9" r="0.9" fill="#8c8c8c"/>
<circle cx="642.6" cy="299.2" r="0.9" fill="#848484"/>
<circle cx="628.2" cy="297.7" r="0.5" fill="#d0d0d0"/>
<circle cx="604.4" cy="291.9" r="0.8" fill="#848484"/>
<circle cx="600.2" cy="299.8" r="0.4" fill="#848484"/>
<circle cx="628.3" cy="276.5" r="0.5" fill="#848484"/>
<circle cx="652.5" cy="283.8" r="0.6" fill="#848484"/>
<circle cx="616.1" cy="294.0" r="0.7" fill="#848484"/>
<circle cx="656.8" cy="268.5" r="0.4" fill="#d0d0d0"/>
<circle cx="599.9" cy="291.6" r="0.6" fill="#848484"/>
<circle cx="624.9" cy="278.9" r="0.4" fill="#8c8c8c"/>
<circle cx="645.3" cy="275.4" r="0.5" fill="#c6c6c6"/>
<circle cx="635.2" cy="293.5" r="0.5" fill="#d0d0d0"/>
<circle cx="620.0" cy="264.4" r="0.6" fill="#c6c6c6"/>
<circle cx="624.7" cy="302.0" r="0.8" fill="#d0d0d0"/>
<circle cx="654.6" cy="289.6" r="0.6" fill="#848484"/>
<circle cx="615.2" cy="278.2" r="0.5" fill="#d0d0d0"/>
<circle cx="646.5" cy="283.3" r="0.5" fill="#d0d0d0"/>
<circle cx="649.2" cy="269.2" r="0.6" fill="#848484"/>
<circle cx="601.7" cy="293.8" r="0.6" fill="#8c8c8c"/>
<circle cx="642.8" cy="276.5" r="0.8" fill="#848484"/>
<circle cx="647.3" cy="272.6" r="0.9" fill="#848484"/>
<circle cx="654.5" cy="275.6" r="0.5" fill="#8c8c8c"/>
<circle cx="626.0" cy="292.9" r="0.6" fill="#848484"/>
<circle cx="625.3" cy="294.7" r="0.7" fill="#848484"/>
<circle cx="618.5" cy="287.8" r="0.8" fill="#d0d0d0"/>
<circle cx="618.7" cy="295.7" r="0.8" fill="#d0d0d0"/>
<circle cx="655.6" cy="300.3" r="0.7" fill="#c6c6c6"/>
<circle cx="609.7" cy="276.5" r="0.8" fill="#848484"/>
<circle cx="638.8" cy="290.8" r="0.8" fill="#c6c6c6"/>
<circle cx="634.4" cy="299.4" r="0.7" fill="#d0d0d0"/>
<circle cx="615.9" cy="284.1" r="0.8" fill="#848484"/>
<circle cx="640.5" cy="263.1" r="0.5" fill="#d0d0d0"/>
<circle cx="634.8" cy="269.2" r="0.8" fill="#c6c6c6"/>
<circle cx="635.2" cy="263.7" r="0.6" fill="#c6c6c6"/>
<circle cx="607.8" cy="297.7" r="0.5" fill="#c6c6c6"/>
<circle cx="626.5" cy="283.9" r="0.6" fill="#848484"/>
<circle cx="620.4" cy="286.5" r="0.7" fill="#c6c6c6"/>
<circle cx="640.4" cy="277.0" r="0.6" fill="#848484"/>
<circle cx="648.5" cy="296.7" r="0.7" fill="#848484"/>
<circle cx="654.9" cy="284.0" r="0.6" fill="#848484"/>
<circle cx="630.2" cy="275.6" r="0.7" fill="#848484"/>
<circle cx="646.3" cy="278.8" r="0.8" fill="#848484"/>
<circle cx="625.6" cy="268.3" r="0.6" fill="#d0d0d0"/>
<circle cx="654.5" cy="300.7" r="0.7" fill="#848484"/>
<circle cx="646.5" cy="288.5" r="0.6" fill="#848484"/>
<circle cx="631.4" cy="286.6" r="0.5" fill="#d0d0d0"/>
<circle cx="623.3" cy="301.1" r="0.6" fill="#d0d0d0"/>
<circle cx="655.4" cy="277.2" r="0.9" fill="#c6c6c6"/>
<circle cx="633.2" cy="272.4" r="0.9" fill="#d0d0d0"/>
<circle cx="612.8" cy="262.8" r="0.9" fill="#848484"/>
<circle cx="627.0" cy="273.5" r="0.6" fill="#8c8c8c"/>
<circle cx="636.9" cy="300.4" r="0.5" fill="#8c8c8c"/>
</g></g>
<rect x="589.0" y="306.8" width="12.0" height="2.2" fill="#fff"/>
<text x="575" y="267.2" class="b">h</text>
<text x="622.9" y="324" class="t" style="font-size:13.5px" text-anchor="middle">After</text>
</g></svg></body></html>
